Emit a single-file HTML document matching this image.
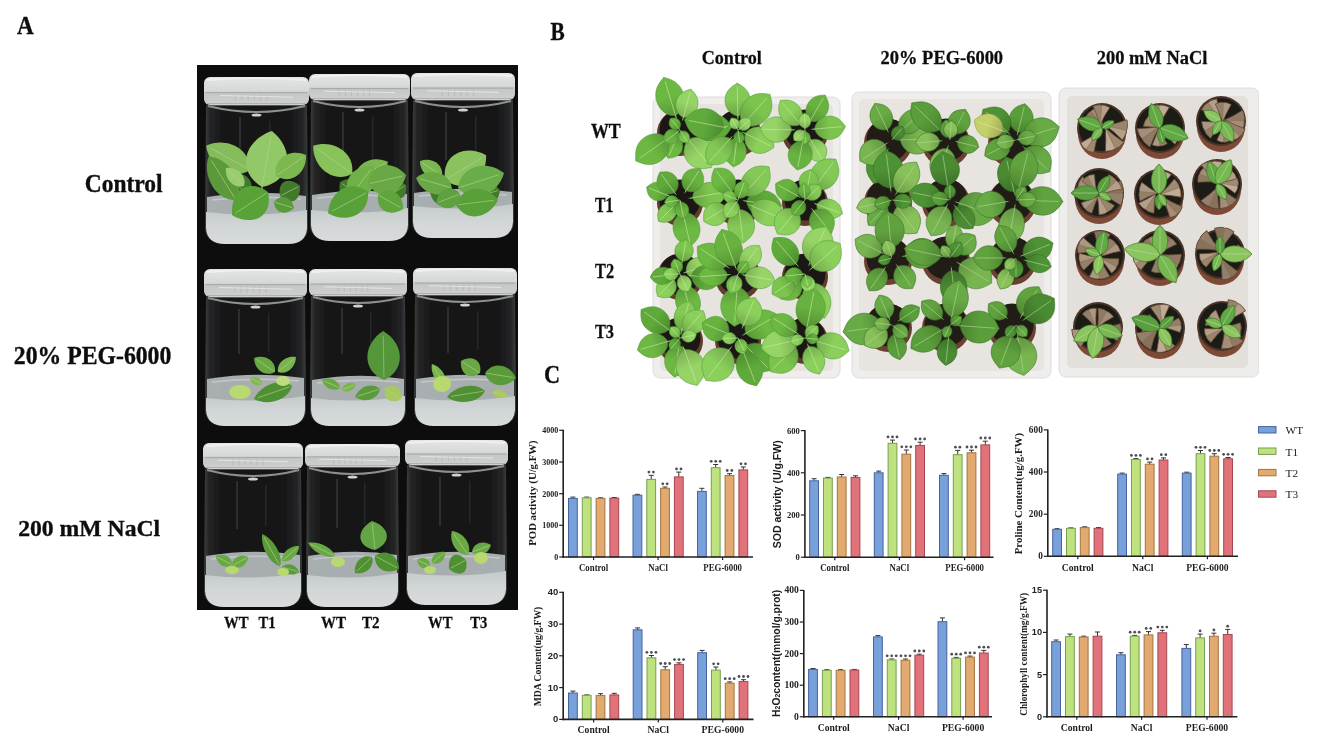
<!DOCTYPE html><html><head><meta charset="utf-8"><style>html,body{margin:0;padding:0;background:#fff;width:1318px;height:748px;overflow:hidden}svg{display:block}</style></head><body><svg width="1318" height="748" viewBox="0 0 1318 748"><defs><filter id="bl" x="0" y="0" width="1" height="1"><feGaussianBlur stdDeviation="0.7"/></filter><filter id="tb" x="0" y="0" width="1" height="1"><feGaussianBlur stdDeviation="0.3"/></filter><linearGradient id="glassG" x1="0" y1="0" x2="1" y2="0"><stop offset="0" stop-color="#3e4040"/><stop offset="0.05" stop-color="#242526"/><stop offset="0.18" stop-color="#161617"/><stop offset="0.82" stop-color="#161617"/><stop offset="0.95" stop-color="#242526"/><stop offset="1" stop-color="#3e4040"/></linearGradient><linearGradient id="agarG" x1="0" y1="0" x2="0" y2="1"><stop offset="0" stop-color="#c4cacb"/><stop offset="0.5" stop-color="#d2d6d6"/><stop offset="1" stop-color="#d8dbdb"/></linearGradient><linearGradient id="lidG" x1="0" y1="0" x2="0" y2="1"><stop offset="0" stop-color="#e4e5e5"/><stop offset="0.5" stop-color="#d6d8d8"/><stop offset="0.56" stop-color="#c4c6c6"/><stop offset="1" stop-color="#cfd1d1"/></linearGradient><path id="lf" d="M0,0 C0.2,-0.58 0.72,-0.52 1,0 C0.72,0.52 0.2,0.58 0,0Z" vector-effect="non-scaling-stroke" stroke-width="0.7"/><path id="lf2" d="M0,0 L0.1,0 C0.16,-0.36 0.38,-0.55 0.63,-0.48 C0.86,-0.4 0.93,-0.14 1,0 C0.93,0.14 0.86,0.4 0.63,0.48 C0.38,0.55 0.16,0.36 0.1,0Z" vector-effect="non-scaling-stroke" stroke-width="0.55"/><linearGradient id="shG" x1="0" y1="0" x2="1" y2="0"><stop offset="0" stop-color="#000" stop-opacity="0.22"/><stop offset="0.55" stop-color="#000" stop-opacity="0"/></linearGradient><path id="vn" d="M0.04,0 L0.9,0" vector-effect="non-scaling-stroke" stroke-width="0.8" fill="none" opacity="0.75"/></defs><rect width="1318" height="748" fill="#fff"/><g filter="url(#bl)"><rect x="197" y="65" width="321" height="545" fill="#0c0c0c"/><path d="M206,105 L307,105 L308,228 Q307,244 289,244 L224,244 Q206,244 205,228Z" fill="url(#glassG)"/><rect x="239" y="117" width="2" height="49" fill="#4a4c4d" opacity="0.45"/><rect x="269" y="121" width="1.5" height="42" fill="#4a4c4d" opacity="0.35"/><path d="M208,106 Q256.5,118 305,106" stroke="#8e908c" stroke-width="2" fill="none"/><path d="M210,105 L303,105" stroke="#6a6c6a" stroke-width="1.5" fill="none"/><ellipse cx="256.5" cy="115" rx="5" ry="1.6" fill="#d0d2d0"/><path d="M207,197 Q256.5,189 306,196 L306,220 L207,220Z" fill="#b4babc" opacity="0.93"/><path d="M212,200 Q256.5,195 301,199" stroke="#c8cecf" stroke-width="1.5" fill="none" opacity="0.8"/><path d="M206,212 Q256.5,218 307,210 L307,228 Q306,244 288,244 L225,244 Q207,244 206,228Z" fill="url(#agarG)"/><path transform="translate(250.0,196.0) rotate(-140)" d="M0,0 C6.2,-17.9 23.4,-16.1 31.2,0 C23.4,16.1 6.2,17.9 0,0Z" fill="#3f7a2a"/><path transform="translate(250.0,196.0) rotate(-140)" d="M1.6,0 L28.1,0" stroke="#b0d888" stroke-width="0.8" fill="none" opacity="0.7"/><path transform="translate(280.0,196.0) rotate(-27)" d="M0,0 C4.5,-15.2 16.8,-13.6 22.4,0 C16.8,13.6 4.5,15.2 0,0Z" fill="#3f7a2a"/><path transform="translate(280.0,196.0) rotate(-27)" d="M1.1,0 L20.1,0" stroke="#b0d888" stroke-width="0.8" fill="none" opacity="0.7"/><line x1="262" y1="200" x2="262" y2="175" stroke="#8cb868" stroke-width="1.5" opacity="0.9"/><line x1="240" y1="200" x2="236" y2="180" stroke="#8cb868" stroke-width="1.5" opacity="0.9"/><path transform="translate(250.0,170.0) rotate(-151)" d="M0,0 C10.0,-19.3 37.6,-17.4 50.1,0 C37.6,17.4 10.0,19.3 0,0Z" fill="#86bc5c"/><path transform="translate(250.0,170.0) rotate(-151)" d="M2.5,0 L45.1,0" stroke="#b0d888" stroke-width="0.8" fill="none" opacity="0.7"/><path transform="translate(236.0,200.0) rotate(-122)" d="M0,0 C10.3,-17.9 38.7,-16.1 51.6,0 C38.7,16.1 10.3,17.9 0,0Z" fill="#5a9a3a"/><path transform="translate(236.0,200.0) rotate(-122)" d="M2.6,0 L46.5,0" stroke="#b0d888" stroke-width="0.8" fill="none" opacity="0.7"/><path transform="translate(262.0,187.0) rotate(-80)" d="M0,0 C11.4,-28.9 42.7,-26.0 56.9,0 C42.7,26.0 11.4,28.9 0,0Z" fill="#92c868"/><path transform="translate(262.0,187.0) rotate(-80)" d="M2.8,0 L51.2,0" stroke="#b0d888" stroke-width="0.8" fill="none" opacity="0.7"/><path transform="translate(276.0,176.0) rotate(-35)" d="M0,0 C7.3,-16.5 27.5,-14.9 36.6,0 C27.5,14.9 7.3,16.5 0,0Z" fill="#7cb850"/><path transform="translate(276.0,176.0) rotate(-35)" d="M1.8,0 L33.0,0" stroke="#b0d888" stroke-width="0.8" fill="none" opacity="0.7"/><path transform="translate(268.0,192.0) rotate(147)" d="M0,0 C8.5,-23.4 32.0,-21.1 42.7,0 C32.0,21.1 8.5,23.4 0,0Z" fill="#58a238"/><path transform="translate(268.0,192.0) rotate(147)" d="M2.1,0 L38.4,0" stroke="#b0d888" stroke-width="0.8" fill="none" opacity="0.7"/><path transform="translate(274.0,202.0) rotate(17)" d="M0,0 C4.2,-11.0 15.7,-9.9 20.9,0 C15.7,9.9 4.2,11.0 0,0Z" fill="#5a9a3a"/><path transform="translate(274.0,202.0) rotate(17)" d="M1.0,0 L18.8,0" stroke="#b0d888" stroke-width="0.8" fill="none" opacity="0.7"/><path transform="translate(244.0,186.0) rotate(-135)" d="M0,0 C5.1,-9.6 19.1,-8.7 25.5,0 C19.1,8.7 5.1,9.6 0,0Z" fill="#9ccc70"/><path transform="translate(244.0,186.0) rotate(-135)" d="M1.3,0 L22.9,0" stroke="#b0d888" stroke-width="0.8" fill="none" opacity="0.7"/><rect x="204" y="77" width="105" height="28" rx="6" fill="url(#lidG)"/><path d="M207,80 Q256.5,76 306,80" stroke="#f0f0f0" stroke-width="2" fill="none"/><line x1="206" y1="92.7" x2="307" y2="92.7" stroke="#a4a7a7" stroke-width="1"/><line x1="206" y1="103.5" x2="307" y2="103.5" stroke="#b0b2b2" stroke-width="1"/><line x1="235.5" y1="94.4" x2="235.5" y2="100.8" stroke="#b4b6b6" stroke-width="0.8"/><line x1="241.8" y1="94.4" x2="241.8" y2="100.8" stroke="#b4b6b6" stroke-width="0.8"/><line x1="248.1" y1="94.4" x2="248.1" y2="100.8" stroke="#b4b6b6" stroke-width="0.8"/><line x1="254.4" y1="94.4" x2="254.4" y2="100.8" stroke="#b4b6b6" stroke-width="0.8"/><line x1="260.7" y1="94.4" x2="260.7" y2="100.8" stroke="#b4b6b6" stroke-width="0.8"/><line x1="267.0" y1="94.4" x2="267.0" y2="100.8" stroke="#b4b6b6" stroke-width="0.8"/><line x1="220" y1="95.5" x2="293" y2="97.2" stroke="#eaeaea" stroke-width="1" opacity="0.8"/><path d="M311,100 L408,100 L409,225 Q408,241 390,241 L329,241 Q311,241 310,225Z" fill="url(#glassG)"/><rect x="342" y="112" width="2" height="49" fill="#4a4c4d" opacity="0.45"/><rect x="372" y="116" width="1.5" height="42" fill="#4a4c4d" opacity="0.35"/><path d="M313,101 Q359.5,113 406,101" stroke="#8e908c" stroke-width="2" fill="none"/><path d="M315,100 L404,100" stroke="#6a6c6a" stroke-width="1.5" fill="none"/><ellipse cx="359.5" cy="110" rx="5" ry="1.6" fill="#d0d2d0"/><path d="M312,195 Q359.5,187 407,194 L407,218 L312,218Z" fill="#b4babc" opacity="0.93"/><path d="M317,198 Q359.5,193 402,197" stroke="#c8cecf" stroke-width="1.5" fill="none" opacity="0.8"/><path d="M311,210 Q359.5,216 408,208 L408,225 Q407,241 389,241 L330,241 Q312,241 311,225Z" fill="url(#agarG)"/><path transform="translate(362.0,198.0) rotate(-144)" d="M0,0 C5.4,-16.5 20.4,-14.9 27.2,0 C20.4,14.9 5.4,16.5 0,0Z" fill="#3f7a2a"/><path transform="translate(362.0,198.0) rotate(-144)" d="M1.4,0 L24.5,0" stroke="#b0d888" stroke-width="0.8" fill="none" opacity="0.7"/><path transform="translate(390.0,195.0) rotate(-32)" d="M0,0 C3.8,-12.4 14.2,-11.2 18.9,0 C14.2,11.2 3.8,12.4 0,0Z" fill="#3f7a2a"/><path transform="translate(390.0,195.0) rotate(-32)" d="M0.9,0 L17.0,0" stroke="#b0d888" stroke-width="0.8" fill="none" opacity="0.7"/><line x1="360" y1="200" x2="352" y2="172" stroke="#8cb868" stroke-width="1.5" opacity="0.9"/><path transform="translate(352.0,174.0) rotate(-144)" d="M0,0 C9.6,-19.3 36.0,-17.4 48.0,0 C36.0,17.4 9.6,19.3 0,0Z" fill="#88c25a"/><path transform="translate(352.0,174.0) rotate(-144)" d="M2.4,0 L43.2,0" stroke="#b0d888" stroke-width="0.8" fill="none" opacity="0.7"/><path transform="translate(355.0,180.0) rotate(-29)" d="M0,0 C7.5,-15.2 28.2,-13.6 37.6,0 C28.2,13.6 7.5,15.2 0,0Z" fill="#7cb652"/><path transform="translate(355.0,180.0) rotate(-29)" d="M1.9,0 L33.8,0" stroke="#b0d888" stroke-width="0.8" fill="none" opacity="0.7"/><path transform="translate(350.0,197.0) rotate(-53)" d="M0,0 C7.7,-17.9 29.0,-16.1 38.6,0 C29.0,16.1 7.7,17.9 0,0Z" fill="#70b048"/><path transform="translate(350.0,197.0) rotate(-53)" d="M1.9,0 L34.7,0" stroke="#b0d888" stroke-width="0.8" fill="none" opacity="0.7"/><path transform="translate(368.0,184.0) rotate(-13)" d="M0,0 C7.8,-20.7 29.3,-18.6 39.1,0 C29.3,18.6 7.8,20.7 0,0Z" fill="#6aa845"/><path transform="translate(368.0,184.0) rotate(-13)" d="M2.0,0 L35.1,0" stroke="#b0d888" stroke-width="0.8" fill="none" opacity="0.7"/><path transform="translate(368.0,192.0) rotate(152)" d="M0,0 C9.0,-20.7 33.9,-18.6 45.2,0 C33.9,18.6 9.0,20.7 0,0Z" fill="#58a038"/><path transform="translate(368.0,192.0) rotate(152)" d="M2.3,0 L40.7,0" stroke="#b0d888" stroke-width="0.8" fill="none" opacity="0.7"/><path transform="translate(378.0,195.0) rotate(29)" d="M0,0 C5.7,-15.2 21.5,-13.6 28.7,0 C21.5,13.6 5.7,15.2 0,0Z" fill="#5fa53c"/><path transform="translate(378.0,195.0) rotate(29)" d="M1.4,0 L25.8,0" stroke="#b0d888" stroke-width="0.8" fill="none" opacity="0.7"/><rect x="309" y="74" width="101" height="26" rx="6" fill="url(#lidG)"/><path d="M312,77 Q359.5,73 407,77" stroke="#f0f0f0" stroke-width="2" fill="none"/><line x1="311" y1="88.6" x2="408" y2="88.6" stroke="#a4a7a7" stroke-width="1"/><line x1="311" y1="98.5" x2="408" y2="98.5" stroke="#b0b2b2" stroke-width="1"/><line x1="339.3" y1="90.1" x2="339.3" y2="96.1" stroke="#b4b6b6" stroke-width="0.8"/><line x1="345.4" y1="90.1" x2="345.4" y2="96.1" stroke="#b4b6b6" stroke-width="0.8"/><line x1="351.4" y1="90.1" x2="351.4" y2="96.1" stroke="#b4b6b6" stroke-width="0.8"/><line x1="357.5" y1="90.1" x2="357.5" y2="96.1" stroke="#b4b6b6" stroke-width="0.8"/><line x1="363.5" y1="90.1" x2="363.5" y2="96.1" stroke="#b4b6b6" stroke-width="0.8"/><line x1="369.6" y1="90.1" x2="369.6" y2="96.1" stroke="#b4b6b6" stroke-width="0.8"/><line x1="324" y1="91.2" x2="395" y2="92.7" stroke="#eaeaea" stroke-width="1" opacity="0.8"/><path d="M413,100 L513,100 L514,222 Q513,238 495,238 L431,238 Q413,238 412,222Z" fill="url(#glassG)"/><rect x="445" y="112" width="2" height="48" fill="#4a4c4d" opacity="0.45"/><rect x="475" y="116" width="1.5" height="41" fill="#4a4c4d" opacity="0.35"/><path d="M415,101 Q463.0,113 511,101" stroke="#8e908c" stroke-width="2" fill="none"/><path d="M417,100 L509,100" stroke="#6a6c6a" stroke-width="1.5" fill="none"/><ellipse cx="463.0" cy="110" rx="5" ry="1.6" fill="#d0d2d0"/><path d="M414,193 Q463.0,185 512,192 L512,214 L414,214Z" fill="#b4babc" opacity="0.93"/><path d="M419,196 Q463.0,191 507,195" stroke="#c8cecf" stroke-width="1.5" fill="none" opacity="0.8"/><path d="M413,206 Q463.0,212 513,204 L513,222 Q512,238 494,238 L432,238 Q414,238 413,222Z" fill="url(#agarG)"/><path transform="translate(452.0,196.0) rotate(-170)" d="M0,0 C4.5,-15.2 16.8,-13.6 22.4,0 C16.8,13.6 4.5,15.2 0,0Z" fill="#3f7a2a"/><path transform="translate(452.0,196.0) rotate(-170)" d="M1.1,0 L20.1,0" stroke="#b0d888" stroke-width="0.8" fill="none" opacity="0.7"/><path transform="translate(480.0,196.0) rotate(-17)" d="M0,0 C4.2,-13.8 15.7,-12.4 20.9,0 C15.7,12.4 4.2,13.8 0,0Z" fill="#3f7a2a"/><path transform="translate(480.0,196.0) rotate(-17)" d="M1.0,0 L18.8,0" stroke="#b0d888" stroke-width="0.8" fill="none" opacity="0.7"/><path transform="translate(445.0,180.0) rotate(-31)" d="M0,0 C9.6,-23.4 36.0,-21.1 48.0,0 C36.0,21.1 9.6,23.4 0,0Z" fill="#8ac25e"/><path transform="translate(445.0,180.0) rotate(-31)" d="M2.4,0 L43.2,0" stroke="#b0d888" stroke-width="0.8" fill="none" opacity="0.7"/><path transform="translate(442.0,176.0) rotate(-146)" d="M0,0 C5.3,-11.0 20.0,-9.9 26.6,0 C20.0,9.9 5.3,11.0 0,0Z" fill="#7cb652"/><path transform="translate(442.0,176.0) rotate(-146)" d="M1.3,0 L24.0,0" stroke="#b0d888" stroke-width="0.8" fill="none" opacity="0.7"/><path transform="translate(452.0,188.0) rotate(-164)" d="M0,0 C7.5,-15.2 28.0,-13.6 37.4,0 C28.0,13.6 7.5,15.2 0,0Z" fill="#6aa845"/><path transform="translate(452.0,188.0) rotate(-164)" d="M1.9,0 L33.6,0" stroke="#b0d888" stroke-width="0.8" fill="none" opacity="0.7"/><path transform="translate(458.0,188.0) rotate(-18)" d="M0,0 C9.7,-20.7 36.3,-18.6 48.4,0 C36.3,18.6 9.7,20.7 0,0Z" fill="#6aac48"/><path transform="translate(458.0,188.0) rotate(-18)" d="M2.4,0 L43.5,0" stroke="#b0d888" stroke-width="0.8" fill="none" opacity="0.7"/><path transform="translate(456.0,205.0) rotate(-7)" d="M0,0 C8.5,-19.3 31.7,-17.4 42.3,0 C31.7,17.4 8.5,19.3 0,0Z" fill="#58a038"/><path transform="translate(456.0,205.0) rotate(-7)" d="M2.1,0 L38.1,0" stroke="#b0d888" stroke-width="0.8" fill="none" opacity="0.7"/><path transform="translate(460.0,194.0) rotate(159)" d="M0,0 C5.1,-13.8 19.2,-12.4 25.6,0 C19.2,12.4 5.1,13.8 0,0Z" fill="#5fa040"/><path transform="translate(460.0,194.0) rotate(159)" d="M1.3,0 L23.1,0" stroke="#b0d888" stroke-width="0.8" fill="none" opacity="0.7"/><rect x="411" y="73" width="104" height="27" rx="6" fill="url(#lidG)"/><path d="M414,76 Q463.0,72 512,76" stroke="#f0f0f0" stroke-width="2" fill="none"/><line x1="413" y1="88.1" x2="513" y2="88.1" stroke="#a4a7a7" stroke-width="1"/><line x1="413" y1="98.5" x2="513" y2="98.5" stroke="#b0b2b2" stroke-width="1"/><line x1="442.2" y1="89.7" x2="442.2" y2="96.0" stroke="#b4b6b6" stroke-width="0.8"/><line x1="448.4" y1="89.7" x2="448.4" y2="96.0" stroke="#b4b6b6" stroke-width="0.8"/><line x1="454.7" y1="89.7" x2="454.7" y2="96.0" stroke="#b4b6b6" stroke-width="0.8"/><line x1="460.9" y1="89.7" x2="460.9" y2="96.0" stroke="#b4b6b6" stroke-width="0.8"/><line x1="467.2" y1="89.7" x2="467.2" y2="96.0" stroke="#b4b6b6" stroke-width="0.8"/><line x1="473.4" y1="89.7" x2="473.4" y2="96.0" stroke="#b4b6b6" stroke-width="0.8"/><line x1="427" y1="90.8" x2="499" y2="92.4" stroke="#eaeaea" stroke-width="1" opacity="0.8"/><path d="M206,297 L305,297 L306,410 Q305,426 287,426 L224,426 Q206,426 205,410Z" fill="url(#glassG)"/><rect x="238" y="309" width="2" height="45" fill="#4a4c4d" opacity="0.45"/><rect x="268" y="313" width="1.5" height="39" fill="#4a4c4d" opacity="0.35"/><path d="M208,298 Q255.5,310 303,298" stroke="#8e908c" stroke-width="2" fill="none"/><path d="M210,297 L301,297" stroke="#6a6c6a" stroke-width="1.5" fill="none"/><ellipse cx="255.5" cy="307" rx="5" ry="1.6" fill="#d0d2d0"/><path d="M207,379 Q255.5,371 304,378 L304,406 L207,406Z" fill="#b4babc" opacity="0.93"/><path d="M212,382 Q255.5,377 299,381" stroke="#c8cecf" stroke-width="1.5" fill="none" opacity="0.8"/><path d="M206,398 Q255.5,404 305,396 L305,410 Q304,426 286,426 L225,426 Q207,426 206,410Z" fill="url(#agarG)"/><path transform="translate(275.0,372.0) rotate(-146)" d="M0,0 C5.0,-10.3 18.9,-9.3 25.2,0 C18.9,9.3 5.0,10.3 0,0Z" fill="#6aa845"/><path transform="translate(275.0,372.0) rotate(-146)" d="M1.3,0 L22.7,0" stroke="#b0d888" stroke-width="0.8" fill="none" opacity="0.7"/><path transform="translate(278.0,372.0) rotate(-40)" d="M0,0 C4.7,-8.3 17.6,-7.4 23.4,0 C17.6,7.4 4.7,8.3 0,0Z" fill="#78b450"/><path transform="translate(278.0,372.0) rotate(-40)" d="M1.2,0 L21.1,0" stroke="#b0d888" stroke-width="0.8" fill="none" opacity="0.7"/><path transform="translate(292.0,386.0) rotate(161)" d="M0,0 C8.0,-12.4 30.1,-11.2 40.2,0 C30.1,11.2 8.0,12.4 0,0Z" fill="#4f9032"/><path transform="translate(292.0,386.0) rotate(161)" d="M2.0,0 L36.1,0" stroke="#b0d888" stroke-width="0.8" fill="none" opacity="0.7"/><ellipse cx="240" cy="392" rx="11" ry="7" fill="#b8d870"/><ellipse cx="283" cy="381" rx="7" ry="5" fill="#c0dc80"/><path transform="translate(262.0,384.0) rotate(-153)" d="M0,0 C2.7,-5.5 10.1,-5.0 13.4,0 C10.1,5.0 2.7,5.5 0,0Z" fill="#80b858"/><path transform="translate(262.0,384.0) rotate(-153)" d="M0.7,0 L12.1,0" stroke="#b0d888" stroke-width="0.8" fill="none" opacity="0.7"/><rect x="204" y="269" width="103" height="28" rx="6" fill="url(#lidG)"/><path d="M207,272 Q255.5,268 304,272" stroke="#f0f0f0" stroke-width="2" fill="none"/><line x1="206" y1="284.7" x2="305" y2="284.7" stroke="#a4a7a7" stroke-width="1"/><line x1="206" y1="295.5" x2="305" y2="295.5" stroke="#b0b2b2" stroke-width="1"/><line x1="234.9" y1="286.4" x2="234.9" y2="292.8" stroke="#b4b6b6" stroke-width="0.8"/><line x1="241.1" y1="286.4" x2="241.1" y2="292.8" stroke="#b4b6b6" stroke-width="0.8"/><line x1="247.3" y1="286.4" x2="247.3" y2="292.8" stroke="#b4b6b6" stroke-width="0.8"/><line x1="253.4" y1="286.4" x2="253.4" y2="292.8" stroke="#b4b6b6" stroke-width="0.8"/><line x1="259.6" y1="286.4" x2="259.6" y2="292.8" stroke="#b4b6b6" stroke-width="0.8"/><line x1="265.8" y1="286.4" x2="265.8" y2="292.8" stroke="#b4b6b6" stroke-width="0.8"/><line x1="219" y1="287.5" x2="292" y2="289.2" stroke="#eaeaea" stroke-width="1" opacity="0.8"/><path d="M311,296 L405,296 L406,410 Q405,426 387,426 L329,426 Q311,426 310,410Z" fill="url(#glassG)"/><rect x="341" y="308" width="2" height="46" fill="#4a4c4d" opacity="0.45"/><rect x="370" y="312" width="1.5" height="39" fill="#4a4c4d" opacity="0.35"/><path d="M313,297 Q358.0,309 403,297" stroke="#8e908c" stroke-width="2" fill="none"/><path d="M315,296 L401,296" stroke="#6a6c6a" stroke-width="1.5" fill="none"/><ellipse cx="358.0" cy="306" rx="5" ry="1.6" fill="#d0d2d0"/><path d="M312,380 Q358.0,372 404,379 L404,406 L312,406Z" fill="#b4babc" opacity="0.93"/><path d="M317,383 Q358.0,378 399,382" stroke="#c8cecf" stroke-width="1.5" fill="none" opacity="0.8"/><path d="M311,398 Q358.0,404 405,396 L405,410 Q404,426 386,426 L330,426 Q312,426 311,410Z" fill="url(#agarG)"/><path transform="translate(384.0,380.0) rotate(-91)" d="M0,0 C9.8,-22.7 36.8,-20.5 49.0,0 C36.8,20.5 9.8,22.7 0,0Z" fill="#55963a"/><path transform="translate(384.0,380.0) rotate(-91)" d="M2.5,0 L44.1,0" stroke="#a8d088" stroke-width="0.8" fill="none" opacity="0.7"/><path transform="translate(380.0,389.0) rotate(162)" d="M0,0 C5.2,-9.6 19.7,-8.7 26.2,0 C19.7,8.7 5.2,9.6 0,0Z" fill="#5a9a3a"/><path transform="translate(380.0,389.0) rotate(162)" d="M1.3,0 L23.6,0" stroke="#b0d888" stroke-width="0.8" fill="none" opacity="0.7"/><path transform="translate(385.0,388.0) rotate(35)" d="M0,0 C3.9,-11.0 14.6,-9.9 19.4,0 C14.6,9.9 3.9,11.0 0,0Z" fill="#a8c860"/><path transform="translate(385.0,388.0) rotate(35)" d="M1.0,0 L17.5,0" stroke="#b0d888" stroke-width="0.8" fill="none" opacity="0.7"/><path transform="translate(340.0,388.0) rotate(-156)" d="M0,0 C3.9,-6.9 14.8,-6.2 19.7,0 C14.8,6.2 3.9,6.9 0,0Z" fill="#6aa845"/><path transform="translate(340.0,388.0) rotate(-156)" d="M1.0,0 L17.7,0" stroke="#b0d888" stroke-width="0.8" fill="none" opacity="0.7"/><path transform="translate(342.0,390.0) rotate(-23)" d="M0,0 C3.0,-5.5 11.4,-5.0 15.2,0 C11.4,5.0 3.0,5.5 0,0Z" fill="#7ab450"/><path transform="translate(342.0,390.0) rotate(-23)" d="M0.8,0 L13.7,0" stroke="#b0d888" stroke-width="0.8" fill="none" opacity="0.7"/><rect x="309" y="269" width="98" height="27" rx="6" fill="url(#lidG)"/><path d="M312,272 Q358.0,268 404,272" stroke="#f0f0f0" stroke-width="2" fill="none"/><line x1="311" y1="284.1" x2="405" y2="284.1" stroke="#a4a7a7" stroke-width="1"/><line x1="311" y1="294.5" x2="405" y2="294.5" stroke="#b0b2b2" stroke-width="1"/><line x1="338.4" y1="285.7" x2="338.4" y2="291.9" stroke="#b4b6b6" stroke-width="0.8"/><line x1="344.3" y1="285.7" x2="344.3" y2="291.9" stroke="#b4b6b6" stroke-width="0.8"/><line x1="350.2" y1="285.7" x2="350.2" y2="291.9" stroke="#b4b6b6" stroke-width="0.8"/><line x1="356.0" y1="285.7" x2="356.0" y2="291.9" stroke="#b4b6b6" stroke-width="0.8"/><line x1="361.9" y1="285.7" x2="361.9" y2="291.9" stroke="#b4b6b6" stroke-width="0.8"/><line x1="367.8" y1="285.7" x2="367.8" y2="291.9" stroke="#b4b6b6" stroke-width="0.8"/><line x1="324" y1="286.8" x2="392" y2="288.4" stroke="#eaeaea" stroke-width="1" opacity="0.8"/><path d="M415,295 L515,295 L516,410 Q515,426 497,426 L433,426 Q415,426 414,410Z" fill="url(#glassG)"/><rect x="447" y="307" width="2" height="46" fill="#4a4c4d" opacity="0.45"/><rect x="477" y="311" width="1.5" height="39" fill="#4a4c4d" opacity="0.35"/><path d="M417,296 Q465.0,308 513,296" stroke="#8e908c" stroke-width="2" fill="none"/><path d="M419,295 L511,295" stroke="#6a6c6a" stroke-width="1.5" fill="none"/><ellipse cx="465.0" cy="305" rx="5" ry="1.6" fill="#d0d2d0"/><path d="M416,379 Q465.0,371 514,378 L514,406 L416,406Z" fill="#b4babc" opacity="0.93"/><path d="M421,382 Q465.0,377 509,381" stroke="#c8cecf" stroke-width="1.5" fill="none" opacity="0.8"/><path d="M415,398 Q465.0,404 515,396 L515,410 Q514,426 496,426 L434,426 Q416,426 415,410Z" fill="url(#agarG)"/><path transform="translate(480.0,373.0) rotate(-148)" d="M0,0 C4.5,-12.4 16.9,-11.2 22.5,0 C16.9,11.2 4.5,12.4 0,0Z" fill="#6aa845"/><path transform="translate(480.0,373.0) rotate(-148)" d="M1.1,0 L20.2,0" stroke="#b0d888" stroke-width="0.8" fill="none" opacity="0.7"/><path transform="translate(485.0,373.0) rotate(9)" d="M0,0 C6.3,-13.8 23.6,-12.4 31.4,0 C23.6,12.4 6.3,13.8 0,0Z" fill="#5a9a3a"/><path transform="translate(485.0,373.0) rotate(9)" d="M1.6,0 L28.3,0" stroke="#b0d888" stroke-width="0.8" fill="none" opacity="0.7"/><path transform="translate(485.0,391.0) rotate(171)" d="M0,0 C7.7,-11.0 28.9,-9.9 38.5,0 C28.9,9.9 7.7,11.0 0,0Z" fill="#4f9032"/><path transform="translate(485.0,391.0) rotate(171)" d="M1.9,0 L34.6,0" stroke="#b0d888" stroke-width="0.8" fill="none" opacity="0.7"/><path transform="translate(445.0,385.0) rotate(-122)" d="M0,0 C4.9,-6.9 18.5,-6.2 24.7,0 C18.5,6.2 4.9,6.9 0,0Z" fill="#7ab450"/><path transform="translate(445.0,385.0) rotate(-122)" d="M1.2,0 L22.2,0" stroke="#b0d888" stroke-width="0.8" fill="none" opacity="0.7"/><ellipse cx="442" cy="384" rx="9" ry="8" fill="#b8d870"/><path transform="translate(492.0,392.0) rotate(14)" d="M0,0 C3.3,-5.5 12.4,-5.0 16.5,0 C12.4,5.0 3.3,5.5 0,0Z" fill="#a8c860"/><path transform="translate(492.0,392.0) rotate(14)" d="M0.8,0 L14.8,0" stroke="#b0d888" stroke-width="0.8" fill="none" opacity="0.7"/><rect x="413" y="268" width="104" height="27" rx="6" fill="url(#lidG)"/><path d="M416,271 Q465.0,267 514,271" stroke="#f0f0f0" stroke-width="2" fill="none"/><line x1="415" y1="283.1" x2="515" y2="283.1" stroke="#a4a7a7" stroke-width="1"/><line x1="415" y1="293.5" x2="515" y2="293.5" stroke="#b0b2b2" stroke-width="1"/><line x1="444.2" y1="284.7" x2="444.2" y2="290.9" stroke="#b4b6b6" stroke-width="0.8"/><line x1="450.4" y1="284.7" x2="450.4" y2="290.9" stroke="#b4b6b6" stroke-width="0.8"/><line x1="456.7" y1="284.7" x2="456.7" y2="290.9" stroke="#b4b6b6" stroke-width="0.8"/><line x1="462.9" y1="284.7" x2="462.9" y2="290.9" stroke="#b4b6b6" stroke-width="0.8"/><line x1="469.2" y1="284.7" x2="469.2" y2="290.9" stroke="#b4b6b6" stroke-width="0.8"/><line x1="475.4" y1="284.7" x2="475.4" y2="290.9" stroke="#b4b6b6" stroke-width="0.8"/><line x1="429" y1="285.8" x2="501" y2="287.4" stroke="#eaeaea" stroke-width="1" opacity="0.8"/><path d="M205,469 L301,469 L302,591 Q301,607 283,607 L223,607 Q205,607 204,591Z" fill="url(#glassG)"/><rect x="236" y="481" width="2" height="48" fill="#4a4c4d" opacity="0.45"/><rect x="265" y="485" width="1.5" height="41" fill="#4a4c4d" opacity="0.35"/><path d="M207,470 Q253.0,482 299,470" stroke="#8e908c" stroke-width="2" fill="none"/><path d="M209,469 L297,469" stroke="#6a6c6a" stroke-width="1.5" fill="none"/><ellipse cx="253.0" cy="479" rx="5" ry="1.6" fill="#d0d2d0"/><path d="M206,556 Q253.0,548 300,555 L300,583 L206,583Z" fill="#b4babc" opacity="0.93"/><path d="M211,559 Q253.0,554 295,558" stroke="#c8cecf" stroke-width="1.5" fill="none" opacity="0.8"/><path d="M205,575 Q253.0,581 301,573 L301,591 Q300,607 282,607 L224,607 Q206,607 205,591Z" fill="url(#agarG)"/><path transform="translate(232.0,565.0) rotate(-151)" d="M0,0 C3.7,-7.6 13.8,-6.8 18.4,0 C13.8,6.8 3.7,7.6 0,0Z" fill="#6aa845"/><path transform="translate(232.0,565.0) rotate(-151)" d="M0.9,0 L16.5,0" stroke="#b0d888" stroke-width="0.8" fill="none" opacity="0.7"/><path transform="translate(232.0,566.0) rotate(-29)" d="M0,0 C3.7,-7.6 13.8,-6.8 18.4,0 C13.8,6.8 3.7,7.6 0,0Z" fill="#6aa845"/><path transform="translate(232.0,566.0) rotate(-29)" d="M0.9,0 L16.5,0" stroke="#b0d888" stroke-width="0.8" fill="none" opacity="0.7"/><ellipse cx="232" cy="570" rx="7" ry="4" fill="#b8d870"/><path transform="translate(280.0,566.0) rotate(-119)" d="M0,0 C7.3,-8.3 27.5,-7.4 36.7,0 C27.5,7.4 7.3,8.3 0,0Z" fill="#5a9a3a"/><path transform="translate(280.0,566.0) rotate(-119)" d="M1.8,0 L33.0,0" stroke="#b0d888" stroke-width="0.8" fill="none" opacity="0.7"/><path transform="translate(282.0,561.0) rotate(-41)" d="M0,0 C4.5,-6.9 17.0,-6.2 22.7,0 C17.0,6.2 4.5,6.9 0,0Z" fill="#6aa845"/><path transform="translate(282.0,561.0) rotate(-41)" d="M1.1,0 L20.4,0" stroke="#b0d888" stroke-width="0.8" fill="none" opacity="0.7"/><path transform="translate(282.0,567.0) rotate(16)" d="M0,0 C3.5,-6.9 13.3,-6.2 17.7,0 C13.3,6.2 3.5,6.9 0,0Z" fill="#5a9a3a"/><path transform="translate(282.0,567.0) rotate(16)" d="M0.9,0 L15.9,0" stroke="#b0d888" stroke-width="0.8" fill="none" opacity="0.7"/><ellipse cx="283" cy="572" rx="6" ry="4" fill="#b8d870"/><rect x="203" y="443" width="100" height="26" rx="6" fill="url(#lidG)"/><path d="M206,446 Q253.0,442 300,446" stroke="#f0f0f0" stroke-width="2" fill="none"/><line x1="205" y1="457.6" x2="301" y2="457.6" stroke="#a4a7a7" stroke-width="1"/><line x1="205" y1="467.5" x2="301" y2="467.5" stroke="#b0b2b2" stroke-width="1"/><line x1="233.0" y1="459.1" x2="233.0" y2="465.1" stroke="#b4b6b6" stroke-width="0.8"/><line x1="239.0" y1="459.1" x2="239.0" y2="465.1" stroke="#b4b6b6" stroke-width="0.8"/><line x1="245.0" y1="459.1" x2="245.0" y2="465.1" stroke="#b4b6b6" stroke-width="0.8"/><line x1="251.0" y1="459.1" x2="251.0" y2="465.1" stroke="#b4b6b6" stroke-width="0.8"/><line x1="257.0" y1="459.1" x2="257.0" y2="465.1" stroke="#b4b6b6" stroke-width="0.8"/><line x1="263.0" y1="459.1" x2="263.0" y2="465.1" stroke="#b4b6b6" stroke-width="0.8"/><line x1="218" y1="460.2" x2="288" y2="461.7" stroke="#eaeaea" stroke-width="1" opacity="0.8"/><path d="M307,467 L398,467 L399,591 Q398,607 380,607 L325,607 Q307,607 306,591Z" fill="url(#glassG)"/><rect x="336" y="479" width="2" height="49" fill="#4a4c4d" opacity="0.45"/><rect x="364" y="483" width="1.5" height="42" fill="#4a4c4d" opacity="0.35"/><path d="M309,468 Q352.5,480 396,468" stroke="#8e908c" stroke-width="2" fill="none"/><path d="M311,467 L394,467" stroke="#6a6c6a" stroke-width="1.5" fill="none"/><ellipse cx="352.5" cy="477" rx="5" ry="1.6" fill="#d0d2d0"/><path d="M308,556 Q352.5,548 397,555 L397,583 L308,583Z" fill="#b4babc" opacity="0.93"/><path d="M313,559 Q352.5,554 392,558" stroke="#c8cecf" stroke-width="1.5" fill="none" opacity="0.8"/><path d="M307,575 Q352.5,581 398,573 L398,591 Q397,607 379,607 L326,607 Q308,607 307,591Z" fill="url(#agarG)"/><path transform="translate(375.0,550.0) rotate(-96)" d="M0,0 C5.8,-18.6 21.9,-16.7 29.2,0 C21.9,16.7 5.8,18.6 0,0Z" fill="#64a444"/><path transform="translate(375.0,550.0) rotate(-96)" d="M1.5,0 L26.2,0" stroke="#b0d890" stroke-width="0.8" fill="none" opacity="0.7"/><path transform="translate(375.0,556.0) rotate(28)" d="M0,0 C5.5,-12.4 20.5,-11.2 27.3,0 C20.5,11.2 5.5,12.4 0,0Z" fill="#4f9032"/><path transform="translate(375.0,556.0) rotate(28)" d="M1.4,0 L24.6,0" stroke="#b0d888" stroke-width="0.8" fill="none" opacity="0.7"/><path transform="translate(372.0,557.0) rotate(137)" d="M0,0 C4.7,-9.6 17.5,-8.7 23.3,0 C17.5,8.7 4.7,9.6 0,0Z" fill="#4f9032"/><path transform="translate(372.0,557.0) rotate(137)" d="M1.2,0 L21.0,0" stroke="#b0d888" stroke-width="0.8" fill="none" opacity="0.7"/><path transform="translate(335.0,556.0) rotate(-154)" d="M0,0 C6.0,-6.9 22.5,-6.2 30.0,0 C22.5,6.2 6.0,6.9 0,0Z" fill="#6aa845"/><path transform="translate(335.0,556.0) rotate(-154)" d="M1.5,0 L27.0,0" stroke="#b0d888" stroke-width="0.8" fill="none" opacity="0.7"/><ellipse cx="338" cy="562" rx="7" ry="5" fill="#b8d870"/><rect x="305" y="444" width="95" height="23" rx="6" fill="url(#lidG)"/><path d="M308,447 Q352.5,443 397,447" stroke="#f0f0f0" stroke-width="2" fill="none"/><line x1="307" y1="456.9" x2="398" y2="456.9" stroke="#a4a7a7" stroke-width="1"/><line x1="307" y1="465.5" x2="398" y2="465.5" stroke="#b0b2b2" stroke-width="1"/><line x1="333.5" y1="458.3" x2="333.5" y2="463.6" stroke="#b4b6b6" stroke-width="0.8"/><line x1="339.2" y1="458.3" x2="339.2" y2="463.6" stroke="#b4b6b6" stroke-width="0.8"/><line x1="344.9" y1="458.3" x2="344.9" y2="463.6" stroke="#b4b6b6" stroke-width="0.8"/><line x1="350.6" y1="458.3" x2="350.6" y2="463.6" stroke="#b4b6b6" stroke-width="0.8"/><line x1="356.3" y1="458.3" x2="356.3" y2="463.6" stroke="#b4b6b6" stroke-width="0.8"/><line x1="362.0" y1="458.3" x2="362.0" y2="463.6" stroke="#b4b6b6" stroke-width="0.8"/><line x1="319" y1="459.2" x2="386" y2="460.6" stroke="#eaeaea" stroke-width="1" opacity="0.8"/><path d="M407,465 L506,465 L507,589 Q506,605 488,605 L425,605 Q407,605 406,589Z" fill="url(#glassG)"/><rect x="439" y="477" width="2" height="49" fill="#4a4c4d" opacity="0.45"/><rect x="469" y="481" width="1.5" height="42" fill="#4a4c4d" opacity="0.35"/><path d="M409,466 Q456.5,478 504,466" stroke="#8e908c" stroke-width="2" fill="none"/><path d="M411,465 L502,465" stroke="#6a6c6a" stroke-width="1.5" fill="none"/><ellipse cx="456.5" cy="475" rx="5" ry="1.6" fill="#d0d2d0"/><path d="M408,556 Q456.5,548 505,555 L505,581 L408,581Z" fill="#b4babc" opacity="0.93"/><path d="M413,559 Q456.5,554 500,558" stroke="#c8cecf" stroke-width="1.5" fill="none" opacity="0.8"/><path d="M407,573 Q456.5,579 506,571 L506,589 Q505,605 487,605 L426,605 Q408,605 407,589Z" fill="url(#agarG)"/><path transform="translate(468.0,555.0) rotate(-124)" d="M0,0 C5.8,-9.6 21.6,-8.7 28.8,0 C21.6,8.7 5.8,9.6 0,0Z" fill="#6aa845"/><path transform="translate(468.0,555.0) rotate(-124)" d="M1.4,0 L26.0,0" stroke="#b0d888" stroke-width="0.8" fill="none" opacity="0.7"/><path transform="translate(472.0,552.0) rotate(-20)" d="M0,0 C4.0,-8.3 15.2,-7.4 20.2,0 C15.2,7.4 4.0,8.3 0,0Z" fill="#6aa845"/><path transform="translate(472.0,552.0) rotate(-20)" d="M1.0,0 L18.2,0" stroke="#b0d888" stroke-width="0.8" fill="none" opacity="0.7"/><path transform="translate(466.0,560.0) rotate(152)" d="M0,0 C3.8,-13.8 14.4,-12.4 19.2,0 C14.4,12.4 3.8,13.8 0,0Z" fill="#4f9032"/><path transform="translate(466.0,560.0) rotate(152)" d="M1.0,0 L17.3,0" stroke="#b0d888" stroke-width="0.8" fill="none" opacity="0.7"/><ellipse cx="481" cy="558" rx="7" ry="6" fill="#b8d870"/><path transform="translate(430.0,566.0) rotate(-155)" d="M0,0 C2.9,-6.9 10.7,-6.2 14.3,0 C10.7,6.2 2.9,6.9 0,0Z" fill="#6aa845"/><path transform="translate(430.0,566.0) rotate(-155)" d="M0.7,0 L12.9,0" stroke="#b0d888" stroke-width="0.8" fill="none" opacity="0.7"/><path transform="translate(432.0,563.0) rotate(-40)" d="M0,0 C3.4,-6.9 12.8,-6.2 17.0,0 C12.8,6.2 3.4,6.9 0,0Z" fill="#6aa845"/><path transform="translate(432.0,563.0) rotate(-40)" d="M0.9,0 L15.3,0" stroke="#b0d888" stroke-width="0.8" fill="none" opacity="0.7"/><ellipse cx="430" cy="570" rx="6" ry="4" fill="#b8d870"/><rect x="405" y="440" width="103" height="25" rx="6" fill="url(#lidG)"/><path d="M408,443 Q456.5,439 505,443" stroke="#f0f0f0" stroke-width="2" fill="none"/><line x1="407" y1="454.0" x2="506" y2="454.0" stroke="#a4a7a7" stroke-width="1"/><line x1="407" y1="463.5" x2="506" y2="463.5" stroke="#b0b2b2" stroke-width="1"/><line x1="435.9" y1="455.5" x2="435.9" y2="461.2" stroke="#b4b6b6" stroke-width="0.8"/><line x1="442.1" y1="455.5" x2="442.1" y2="461.2" stroke="#b4b6b6" stroke-width="0.8"/><line x1="448.3" y1="455.5" x2="448.3" y2="461.2" stroke="#b4b6b6" stroke-width="0.8"/><line x1="454.4" y1="455.5" x2="454.4" y2="461.2" stroke="#b4b6b6" stroke-width="0.8"/><line x1="460.6" y1="455.5" x2="460.6" y2="461.2" stroke="#b4b6b6" stroke-width="0.8"/><line x1="466.8" y1="455.5" x2="466.8" y2="461.2" stroke="#b4b6b6" stroke-width="0.8"/><line x1="420" y1="456.5" x2="493" y2="458.0" stroke="#eaeaea" stroke-width="1" opacity="0.8"/></g><g filter="url(#bl)"><rect x="653" y="97" width="187" height="281" rx="7" fill="#efeeec" stroke="#dedcd9" stroke-width="1"/><rect x="660" y="104" width="173" height="267" rx="5" fill="#e7e4df"/><rect x="852" y="92" width="199" height="286" rx="7" fill="#efeeec" stroke="#dedcd9" stroke-width="1"/><rect x="859" y="99" width="185" height="272" rx="5" fill="#e8e5e0"/><rect x="1059" y="88" width="200" height="289" rx="7" fill="#eeedeb" stroke="#dedcd9" stroke-width="1"/><rect x="1067" y="96" width="181" height="272" rx="5" fill="#e3e0dc"/><circle cx="680" cy="133" r="23" fill="#5e3c2c"/><circle cx="680" cy="130" r="20.5" fill="#1c1816"/><circle cx="738" cy="133" r="23" fill="#5e3c2c"/><circle cx="738" cy="130" r="20.5" fill="#1c1816"/><circle cx="805" cy="133" r="23" fill="#5e3c2c"/><circle cx="805" cy="130" r="20.5" fill="#1c1816"/><circle cx="680" cy="203" r="23" fill="#5e3c2c"/><circle cx="680" cy="200" r="20.5" fill="#1c1816"/><circle cx="738" cy="203" r="23" fill="#5e3c2c"/><circle cx="738" cy="200" r="20.5" fill="#1c1816"/><circle cx="805" cy="203" r="23" fill="#5e3c2c"/><circle cx="805" cy="200" r="20.5" fill="#1c1816"/><circle cx="680" cy="277" r="23" fill="#5e3c2c"/><circle cx="680" cy="274" r="20.5" fill="#1c1816"/><circle cx="738" cy="277" r="23" fill="#5e3c2c"/><circle cx="738" cy="274" r="20.5" fill="#1c1816"/><circle cx="805" cy="277" r="23" fill="#5e3c2c"/><circle cx="805" cy="274" r="20.5" fill="#1c1816"/><circle cx="680" cy="341" r="23" fill="#5e3c2c"/><circle cx="680" cy="338" r="20.5" fill="#1c1816"/><circle cx="738" cy="341" r="23" fill="#5e3c2c"/><circle cx="738" cy="338" r="20.5" fill="#1c1816"/><circle cx="805" cy="341" r="23" fill="#5e3c2c"/><circle cx="805" cy="338" r="20.5" fill="#1c1816"/><use href="#lf2" transform="translate(685.5,136.5) rotate(50) scale(40.4,29.5)" fill="#96d466" stroke="#4f9a36"/><use href="#lf2" transform="translate(685.5,136.5) rotate(50) scale(40.4,29.5)" fill="url(#shG)" stroke="none"/><use href="#vn" transform="translate(685.5,136.5) rotate(50) scale(40.4,29.5)" stroke="#c8eea4"/><use href="#lf2" transform="translate(678.5,133.6) rotate(113) scale(26.8,19.6)" fill="#6cb842" stroke="#4f9a36"/><use href="#lf2" transform="translate(678.5,133.6) rotate(113) scale(26.8,19.6)" fill="url(#shG)" stroke="none"/><use href="#vn" transform="translate(678.5,133.6) rotate(113) scale(26.8,19.6)" stroke="#c8eea4"/><use href="#lf2" transform="translate(671.5,135.9) rotate(145) scale(43.7,28.9)" fill="#6cb842" stroke="#4f9a36"/><use href="#lf2" transform="translate(671.5,135.9) rotate(145) scale(43.7,28.9)" fill="url(#shG)" stroke="none"/><use href="#vn" transform="translate(671.5,135.9) rotate(145) scale(43.7,28.9)" stroke="#c8eea4"/><use href="#lf2" transform="translate(676.9,120.0) rotate(253) scale(44.8,28.0)" fill="#6cb842" stroke="#4f9a36"/><use href="#lf2" transform="translate(676.9,120.0) rotate(253) scale(44.8,28.0)" fill="url(#shG)" stroke="none"/><use href="#vn" transform="translate(676.9,120.0) rotate(253) scale(44.8,28.0)" stroke="#c8eea4"/><use href="#lf2" transform="translate(682.4,120.8) rotate(285) scale(32.9,22.1)" fill="#96d466" stroke="#4f9a36"/><use href="#lf2" transform="translate(682.4,120.8) rotate(285) scale(32.9,22.1)" fill="url(#shG)" stroke="none"/><use href="#vn" transform="translate(682.4,120.8) rotate(285) scale(32.9,22.1)" stroke="#c8eea4"/><use href="#lf2" transform="translate(689.3,129.3) rotate(356) scale(43.0,27.1)" fill="#5eaa3a" stroke="#4f9a36"/><use href="#lf2" transform="translate(689.3,129.3) rotate(356) scale(43.0,27.1)" fill="url(#shG)" stroke="none"/><use href="#vn" transform="translate(689.3,129.3) rotate(356) scale(43.0,27.1)" stroke="#c8eea4"/><use href="#lf2" transform="translate(680.0,130.0) rotate(230) scale(15.1,10.9)" fill="#68b240" stroke="#4f9a36"/><use href="#lf2" transform="translate(680.0,130.0) rotate(230) scale(15.1,10.9)" fill="url(#shG)" stroke="none"/><use href="#vn" transform="translate(680.0,130.0) rotate(230) scale(15.1,10.9)" stroke="#c8eea4"/><use href="#lf2" transform="translate(680.0,130.0) rotate(142) scale(19.8,14.2)" fill="#68b240" stroke="#4f9a36"/><use href="#lf2" transform="translate(680.0,130.0) rotate(142) scale(19.8,14.2)" fill="url(#shG)" stroke="none"/><use href="#vn" transform="translate(680.0,130.0) rotate(142) scale(19.8,14.2)" stroke="#c8eea4"/><use href="#lf2" transform="translate(680.0,130.0) rotate(59) scale(15.0,10.8)" fill="#7cc44e" stroke="#4f9a36"/><use href="#lf2" transform="translate(680.0,130.0) rotate(59) scale(15.0,10.8)" fill="url(#shG)" stroke="none"/><use href="#vn" transform="translate(680.0,130.0) rotate(59) scale(15.0,10.8)" stroke="#c8eea4"/><use href="#lf2" transform="translate(728.0,128.1) rotate(191) scale(44.4,30.3)" fill="#5eaa3a" stroke="#4f9a36"/><use href="#lf2" transform="translate(728.0,128.1) rotate(191) scale(44.4,30.3)" fill="url(#shG)" stroke="none"/><use href="#vn" transform="translate(728.0,128.1) rotate(191) scale(44.4,30.3)" stroke="#c8eea4"/><use href="#lf2" transform="translate(737.9,119.9) rotate(269) scale(36.9,25.4)" fill="#84c856" stroke="#4f9a36"/><use href="#lf2" transform="translate(737.9,119.9) rotate(269) scale(36.9,25.4)" fill="url(#shG)" stroke="none"/><use href="#vn" transform="translate(737.9,119.9) rotate(269) scale(36.9,25.4)" stroke="#c8eea4"/><use href="#lf2" transform="translate(740.3,127.4) rotate(312) scale(44.5,28.2)" fill="#7cc44e" stroke="#4f9a36"/><use href="#lf2" transform="translate(740.3,127.4) rotate(312) scale(44.5,28.2)" fill="url(#shG)" stroke="none"/><use href="#vn" transform="translate(740.3,127.4) rotate(312) scale(44.5,28.2)" stroke="#c8eea4"/><use href="#lf2" transform="translate(742.0,131.9) rotate(386) scale(35.6,26.4)" fill="#8cd05c" stroke="#4f9a36"/><use href="#lf2" transform="translate(742.0,131.9) rotate(386) scale(35.6,26.4)" fill="url(#shG)" stroke="none"/><use href="#vn" transform="translate(742.0,131.9) rotate(386) scale(35.6,26.4)" stroke="#c8eea4"/><use href="#lf2" transform="translate(737.4,134.5) rotate(457) scale(32.8,22.2)" fill="#6cb842" stroke="#4f9a36"/><use href="#lf2" transform="translate(737.4,134.5) rotate(457) scale(32.8,22.2)" fill="url(#shG)" stroke="none"/><use href="#vn" transform="translate(737.4,134.5) rotate(457) scale(32.8,22.2)" stroke="#c8eea4"/><use href="#lf2" transform="translate(732.8,135.8) rotate(492) scale(37.9,25.0)" fill="#84c856" stroke="#4f9a36"/><use href="#lf2" transform="translate(732.8,135.8) rotate(492) scale(37.9,25.0)" fill="url(#shG)" stroke="none"/><use href="#vn" transform="translate(732.8,135.8) rotate(492) scale(37.9,25.0)" stroke="#c8eea4"/><use href="#lf2" transform="translate(738.0,130.0) rotate(318) scale(16.8,12.1)" fill="#96d466" stroke="#4f9a36"/><use href="#lf2" transform="translate(738.0,130.0) rotate(318) scale(16.8,12.1)" fill="url(#shG)" stroke="none"/><use href="#vn" transform="translate(738.0,130.0) rotate(318) scale(16.8,12.1)" stroke="#c8eea4"/><use href="#lf2" transform="translate(738.0,130.0) rotate(82) scale(14.3,10.3)" fill="#5eaa3a" stroke="#4f9a36"/><use href="#lf2" transform="translate(738.0,130.0) rotate(82) scale(14.3,10.3)" fill="url(#shG)" stroke="none"/><use href="#vn" transform="translate(738.0,130.0) rotate(82) scale(14.3,10.3)" stroke="#c8eea4"/><use href="#lf2" transform="translate(738.0,130.0) rotate(241) scale(13.8,9.9)" fill="#96d466" stroke="#4f9a36"/><use href="#lf2" transform="translate(738.0,130.0) rotate(241) scale(13.8,9.9)" fill="url(#shG)" stroke="none"/><use href="#vn" transform="translate(738.0,130.0) rotate(241) scale(13.8,9.9)" stroke="#c8eea4"/><use href="#lf2" transform="translate(809.2,137.4) rotate(60) scale(28.0,19.9)" fill="#96d466" stroke="#4f9a36"/><use href="#lf2" transform="translate(809.2,137.4) rotate(60) scale(28.0,19.9)" fill="url(#shG)" stroke="none"/><use href="#vn" transform="translate(809.2,137.4) rotate(60) scale(28.0,19.9)" stroke="#c8eea4"/><use href="#lf2" transform="translate(803.6,137.4) rotate(101) scale(33.3,24.3)" fill="#68b240" stroke="#4f9a36"/><use href="#lf2" transform="translate(803.6,137.4) rotate(101) scale(33.3,24.3)" fill="url(#shG)" stroke="none"/><use href="#vn" transform="translate(803.6,137.4) rotate(101) scale(33.3,24.3)" stroke="#c8eea4"/><use href="#lf2" transform="translate(795.2,129.9) rotate(181) scale(35.2,25.8)" fill="#96d466" stroke="#4f9a36"/><use href="#lf2" transform="translate(795.2,129.9) rotate(181) scale(35.2,25.8)" fill="url(#shG)" stroke="none"/><use href="#vn" transform="translate(795.2,129.9) rotate(181) scale(35.2,25.8)" stroke="#c8eea4"/><use href="#lf2" transform="translate(802.7,127.2) rotate(230) scale(35.0,21.3)" fill="#8cd05c" stroke="#4f9a36"/><use href="#lf2" transform="translate(802.7,127.2) rotate(230) scale(35.0,21.3)" fill="url(#shG)" stroke="none"/><use href="#vn" transform="translate(802.7,127.2) rotate(230) scale(35.0,21.3)" stroke="#c8eea4"/><use href="#lf2" transform="translate(808.4,124.0) rotate(300) scale(33.6,21.5)" fill="#68b240" stroke="#4f9a36"/><use href="#lf2" transform="translate(808.4,124.0) rotate(300) scale(33.6,21.5)" fill="url(#shG)" stroke="none"/><use href="#vn" transform="translate(808.4,124.0) rotate(300) scale(33.6,21.5)" stroke="#c8eea4"/><use href="#lf2" transform="translate(811.1,129.4) rotate(355) scale(34.6,23.7)" fill="#7cc44e" stroke="#4f9a36"/><use href="#lf2" transform="translate(811.1,129.4) rotate(355) scale(34.6,23.7)" fill="url(#shG)" stroke="none"/><use href="#vn" transform="translate(811.1,129.4) rotate(355) scale(34.6,23.7)" stroke="#c8eea4"/><use href="#lf2" transform="translate(805.0,130.0) rotate(89) scale(14.4,10.4)" fill="#6cb842" stroke="#4f9a36"/><use href="#lf2" transform="translate(805.0,130.0) rotate(89) scale(14.4,10.4)" fill="url(#shG)" stroke="none"/><use href="#vn" transform="translate(805.0,130.0) rotate(89) scale(14.4,10.4)" stroke="#c8eea4"/><use href="#lf2" transform="translate(805.0,130.0) rotate(136) scale(15.2,11.0)" fill="#96d466" stroke="#4f9a36"/><use href="#lf2" transform="translate(805.0,130.0) rotate(136) scale(15.2,11.0)" fill="url(#shG)" stroke="none"/><use href="#vn" transform="translate(805.0,130.0) rotate(136) scale(15.2,11.0)" stroke="#c8eea4"/><use href="#lf2" transform="translate(805.0,130.0) rotate(269) scale(17.1,12.3)" fill="#96d466" stroke="#4f9a36"/><use href="#lf2" transform="translate(805.0,130.0) rotate(269) scale(17.1,12.3)" fill="url(#shG)" stroke="none"/><use href="#vn" transform="translate(805.0,130.0) rotate(269) scale(17.1,12.3)" stroke="#c8eea4"/><use href="#lf2" transform="translate(688.6,198.5) rotate(350) scale(39.3,25.1)" fill="#7cc44e" stroke="#4f9a36"/><use href="#lf2" transform="translate(688.6,198.5) rotate(350) scale(39.3,25.1)" fill="url(#shG)" stroke="none"/><use href="#vn" transform="translate(688.6,198.5) rotate(350) scale(39.3,25.1)" stroke="#c8eea4"/><use href="#lf2" transform="translate(681.8,207.9) rotate(437) scale(39.7,27.1)" fill="#6cb842" stroke="#4f9a36"/><use href="#lf2" transform="translate(681.8,207.9) rotate(437) scale(39.7,27.1)" fill="url(#shG)" stroke="none"/><use href="#vn" transform="translate(681.8,207.9) rotate(437) scale(39.7,27.1)" stroke="#c8eea4"/><use href="#lf2" transform="translate(677.5,202.5) rotate(495) scale(26.9,17.2)" fill="#84c856" stroke="#4f9a36"/><use href="#lf2" transform="translate(677.5,202.5) rotate(495) scale(26.9,17.2)" fill="url(#shG)" stroke="none"/><use href="#vn" transform="translate(677.5,202.5) rotate(495) scale(26.9,17.2)" stroke="#c8eea4"/><use href="#lf2" transform="translate(670.2,196.3) rotate(561) scale(25.4,18.4)" fill="#68b240" stroke="#4f9a36"/><use href="#lf2" transform="translate(670.2,196.3) rotate(561) scale(25.4,18.4)" fill="url(#shG)" stroke="none"/><use href="#vn" transform="translate(670.2,196.3) rotate(561) scale(25.4,18.4)" stroke="#c8eea4"/><use href="#lf2" transform="translate(676.4,195.0) rotate(594) scale(28.3,20.7)" fill="#5eaa3a" stroke="#4f9a36"/><use href="#lf2" transform="translate(676.4,195.0) rotate(594) scale(28.3,20.7)" fill="url(#shG)" stroke="none"/><use href="#vn" transform="translate(676.4,195.0) rotate(594) scale(28.3,20.7)" stroke="#c8eea4"/><use href="#lf2" transform="translate(684.4,193.2) rotate(663) scale(29.2,21.5)" fill="#68b240" stroke="#4f9a36"/><use href="#lf2" transform="translate(684.4,193.2) rotate(663) scale(29.2,21.5)" fill="url(#shG)" stroke="none"/><use href="#vn" transform="translate(684.4,193.2) rotate(663) scale(29.2,21.5)" stroke="#c8eea4"/><use href="#lf2" transform="translate(680.0,200.0) rotate(90) scale(16.6,12.0)" fill="#68b240" stroke="#4f9a36"/><use href="#lf2" transform="translate(680.0,200.0) rotate(90) scale(16.6,12.0)" fill="url(#shG)" stroke="none"/><use href="#vn" transform="translate(680.0,200.0) rotate(90) scale(16.6,12.0)" stroke="#c8eea4"/><use href="#lf2" transform="translate(680.0,200.0) rotate(79) scale(19.2,13.8)" fill="#68b240" stroke="#4f9a36"/><use href="#lf2" transform="translate(680.0,200.0) rotate(79) scale(19.2,13.8)" fill="url(#shG)" stroke="none"/><use href="#vn" transform="translate(680.0,200.0) rotate(79) scale(19.2,13.8)" stroke="#c8eea4"/><use href="#lf2" transform="translate(680.0,200.0) rotate(171) scale(15.7,11.3)" fill="#6cb842" stroke="#4f9a36"/><use href="#lf2" transform="translate(680.0,200.0) rotate(171) scale(15.7,11.3)" fill="url(#shG)" stroke="none"/><use href="#vn" transform="translate(680.0,200.0) rotate(171) scale(15.7,11.3)" stroke="#c8eea4"/><use href="#lf2" transform="translate(742.7,200.6) rotate(368) scale(39.6,26.1)" fill="#5eaa3a" stroke="#4f9a36"/><use href="#lf2" transform="translate(742.7,200.6) rotate(368) scale(39.6,26.1)" fill="url(#shG)" stroke="none"/><use href="#vn" transform="translate(742.7,200.6) rotate(368) scale(39.6,26.1)" stroke="#c8eea4"/><use href="#lf2" transform="translate(747.3,204.0) rotate(383) scale(41.3,25.6)" fill="#8cd05c" stroke="#4f9a36"/><use href="#lf2" transform="translate(747.3,204.0) rotate(383) scale(41.3,25.6)" fill="url(#shG)" stroke="none"/><use href="#vn" transform="translate(747.3,204.0) rotate(383) scale(41.3,25.6)" stroke="#c8eea4"/><use href="#lf2" transform="translate(738.7,205.5) rotate(443) scale(38.0,27.2)" fill="#84c856" stroke="#4f9a36"/><use href="#lf2" transform="translate(738.7,205.5) rotate(443) scale(38.0,27.2)" fill="url(#shG)" stroke="none"/><use href="#vn" transform="translate(738.7,205.5) rotate(443) scale(38.0,27.2)" stroke="#c8eea4"/><use href="#lf2" transform="translate(729.0,205.7) rotate(508) scale(29.8,23.0)" fill="#8cd05c" stroke="#4f9a36"/><use href="#lf2" transform="translate(729.0,205.7) rotate(508) scale(29.8,23.0)" fill="url(#shG)" stroke="none"/><use href="#vn" transform="translate(729.0,205.7) rotate(508) scale(29.8,23.0)" stroke="#c8eea4"/><use href="#lf2" transform="translate(734.1,194.7) rotate(593) scale(32.9,22.9)" fill="#6cb842" stroke="#4f9a36"/><use href="#lf2" transform="translate(734.1,194.7) rotate(593) scale(32.9,22.9)" fill="url(#shG)" stroke="none"/><use href="#vn" transform="translate(734.1,194.7) rotate(593) scale(32.9,22.9)" stroke="#c8eea4"/><use href="#lf2" transform="translate(740.2,197.6) rotate(673) scale(42.2,25.6)" fill="#84c856" stroke="#4f9a36"/><use href="#lf2" transform="translate(740.2,197.6) rotate(673) scale(42.2,25.6)" fill="url(#shG)" stroke="none"/><use href="#vn" transform="translate(740.2,197.6) rotate(673) scale(42.2,25.6)" stroke="#c8eea4"/><use href="#lf2" transform="translate(738.0,200.0) rotate(289) scale(20.2,14.6)" fill="#6cb842" stroke="#4f9a36"/><use href="#lf2" transform="translate(738.0,200.0) rotate(289) scale(20.2,14.6)" fill="url(#shG)" stroke="none"/><use href="#vn" transform="translate(738.0,200.0) rotate(289) scale(20.2,14.6)" stroke="#c8eea4"/><use href="#lf2" transform="translate(738.0,200.0) rotate(202) scale(16.4,11.8)" fill="#7cc44e" stroke="#4f9a36"/><use href="#lf2" transform="translate(738.0,200.0) rotate(202) scale(16.4,11.8)" fill="url(#shG)" stroke="none"/><use href="#vn" transform="translate(738.0,200.0) rotate(202) scale(16.4,11.8)" stroke="#c8eea4"/><use href="#lf2" transform="translate(738.0,200.0) rotate(126) scale(21.5,15.5)" fill="#8cd05c" stroke="#4f9a36"/><use href="#lf2" transform="translate(738.0,200.0) rotate(126) scale(21.5,15.5)" fill="url(#shG)" stroke="none"/><use href="#vn" transform="translate(738.0,200.0) rotate(126) scale(21.5,15.5)" stroke="#c8eea4"/><use href="#lf2" transform="translate(811.3,191.7) rotate(307) scale(40.8,26.8)" fill="#84c856" stroke="#4f9a36"/><use href="#lf2" transform="translate(811.3,191.7) rotate(307) scale(40.8,26.8)" fill="url(#shG)" stroke="none"/><use href="#vn" transform="translate(811.3,191.7) rotate(307) scale(40.8,26.8)" stroke="#c8eea4"/><use href="#lf2" transform="translate(814.0,203.3) rotate(380) scale(30.5,19.2)" fill="#8cd05c" stroke="#4f9a36"/><use href="#lf2" transform="translate(814.0,203.3) rotate(380) scale(30.5,19.2)" fill="url(#shG)" stroke="none"/><use href="#vn" transform="translate(814.0,203.3) rotate(380) scale(30.5,19.2)" stroke="#c8eea4"/><use href="#lf2" transform="translate(811.3,208.1) rotate(412) scale(32.6,24.6)" fill="#68b240" stroke="#4f9a36"/><use href="#lf2" transform="translate(811.3,208.1) rotate(412) scale(32.6,24.6)" fill="url(#shG)" stroke="none"/><use href="#vn" transform="translate(811.3,208.1) rotate(412) scale(32.6,24.6)" stroke="#c8eea4"/><use href="#lf2" transform="translate(798.8,207.6) rotate(489) scale(34.0,26.0)" fill="#8cd05c" stroke="#4f9a36"/><use href="#lf2" transform="translate(798.8,207.6) rotate(489) scale(34.0,26.0)" fill="url(#shG)" stroke="none"/><use href="#vn" transform="translate(798.8,207.6) rotate(489) scale(34.0,26.0)" stroke="#c8eea4"/><use href="#lf2" transform="translate(800.3,197.4) rotate(569) scale(28.3,21.6)" fill="#68b240" stroke="#4f9a36"/><use href="#lf2" transform="translate(800.3,197.4) rotate(569) scale(28.3,21.6)" fill="url(#shG)" stroke="none"/><use href="#vn" transform="translate(800.3,197.4) rotate(569) scale(28.3,21.6)" stroke="#c8eea4"/><use href="#lf2" transform="translate(806.1,194.6) rotate(641) scale(25.8,19.3)" fill="#7cc44e" stroke="#4f9a36"/><use href="#lf2" transform="translate(806.1,194.6) rotate(641) scale(25.8,19.3)" fill="url(#shG)" stroke="none"/><use href="#vn" transform="translate(806.1,194.6) rotate(641) scale(25.8,19.3)" stroke="#c8eea4"/><use href="#lf2" transform="translate(805.0,200.0) rotate(129) scale(19.4,14.0)" fill="#5eaa3a" stroke="#4f9a36"/><use href="#lf2" transform="translate(805.0,200.0) rotate(129) scale(19.4,14.0)" fill="url(#shG)" stroke="none"/><use href="#vn" transform="translate(805.0,200.0) rotate(129) scale(19.4,14.0)" stroke="#c8eea4"/><use href="#lf2" transform="translate(805.0,200.0) rotate(317) scale(21.4,15.4)" fill="#84c856" stroke="#4f9a36"/><use href="#lf2" transform="translate(805.0,200.0) rotate(317) scale(21.4,15.4)" fill="url(#shG)" stroke="none"/><use href="#vn" transform="translate(805.0,200.0) rotate(317) scale(21.4,15.4)" stroke="#c8eea4"/><use href="#lf2" transform="translate(805.0,200.0) rotate(265) scale(16.8,12.1)" fill="#68b240" stroke="#4f9a36"/><use href="#lf2" transform="translate(805.0,200.0) rotate(265) scale(16.8,12.1)" fill="url(#shG)" stroke="none"/><use href="#vn" transform="translate(805.0,200.0) rotate(265) scale(16.8,12.1)" stroke="#c8eea4"/><use href="#lf2" transform="translate(681.8,263.8) rotate(280) scale(24.8,18.6)" fill="#7cc44e" stroke="#4f9a36"/><use href="#lf2" transform="translate(681.8,263.8) rotate(280) scale(24.8,18.6)" fill="url(#shG)" stroke="none"/><use href="#vn" transform="translate(681.8,263.8) rotate(280) scale(24.8,18.6)" stroke="#c8eea4"/><use href="#lf2" transform="translate(683.3,273.0) rotate(343) scale(29.8,22.2)" fill="#96d466" stroke="#4f9a36"/><use href="#lf2" transform="translate(683.3,273.0) rotate(343) scale(29.8,22.2)" fill="url(#shG)" stroke="none"/><use href="#vn" transform="translate(683.3,273.0) rotate(343) scale(29.8,22.2)" stroke="#c8eea4"/><use href="#lf2" transform="translate(688.0,275.1) rotate(368) scale(33.8,24.5)" fill="#5eaa3a" stroke="#4f9a36"/><use href="#lf2" transform="translate(688.0,275.1) rotate(368) scale(33.8,24.5)" fill="url(#shG)" stroke="none"/><use href="#vn" transform="translate(688.0,275.1) rotate(368) scale(33.8,24.5)" stroke="#c8eea4"/><use href="#lf2" transform="translate(682.2,281.7) rotate(434) scale(39.2,24.8)" fill="#6cb842" stroke="#4f9a36"/><use href="#lf2" transform="translate(682.2,281.7) rotate(434) scale(39.2,24.8)" fill="url(#shG)" stroke="none"/><use href="#vn" transform="translate(682.2,281.7) rotate(434) scale(39.2,24.8)" stroke="#c8eea4"/><use href="#lf2" transform="translate(676.0,278.0) rotate(495) scale(26.0,19.4)" fill="#8cd05c" stroke="#4f9a36"/><use href="#lf2" transform="translate(676.0,278.0) rotate(495) scale(26.0,19.4)" fill="url(#shG)" stroke="none"/><use href="#vn" transform="translate(676.0,278.0) rotate(495) scale(26.0,19.4)" stroke="#c8eea4"/><use href="#lf2" transform="translate(676.3,274.4) rotate(534) scale(26.3,17.3)" fill="#5eaa3a" stroke="#4f9a36"/><use href="#lf2" transform="translate(676.3,274.4) rotate(534) scale(26.3,17.3)" fill="url(#shG)" stroke="none"/><use href="#vn" transform="translate(676.3,274.4) rotate(534) scale(26.3,17.3)" stroke="#c8eea4"/><use href="#lf2" transform="translate(680.0,274.0) rotate(65) scale(19.6,14.1)" fill="#96d466" stroke="#4f9a36"/><use href="#lf2" transform="translate(680.0,274.0) rotate(65) scale(19.6,14.1)" fill="url(#shG)" stroke="none"/><use href="#vn" transform="translate(680.0,274.0) rotate(65) scale(19.6,14.1)" stroke="#c8eea4"/><use href="#lf2" transform="translate(680.0,274.0) rotate(248) scale(16.2,11.6)" fill="#6cb842" stroke="#4f9a36"/><use href="#lf2" transform="translate(680.0,274.0) rotate(248) scale(16.2,11.6)" fill="url(#shG)" stroke="none"/><use href="#vn" transform="translate(680.0,274.0) rotate(248) scale(16.2,11.6)" stroke="#c8eea4"/><use href="#lf2" transform="translate(680.0,274.0) rotate(179) scale(17.0,12.3)" fill="#8cd05c" stroke="#4f9a36"/><use href="#lf2" transform="translate(680.0,274.0) rotate(179) scale(17.0,12.3)" fill="url(#shG)" stroke="none"/><use href="#vn" transform="translate(680.0,274.0) rotate(179) scale(17.0,12.3)" stroke="#c8eea4"/><use href="#lf2" transform="translate(737.5,282.1) rotate(94) scale(44.5,30.6)" fill="#6cb842" stroke="#4f9a36"/><use href="#lf2" transform="translate(737.5,282.1) rotate(94) scale(44.5,30.6)" fill="url(#shG)" stroke="none"/><use href="#vn" transform="translate(737.5,282.1) rotate(94) scale(44.5,30.6)" stroke="#c8eea4"/><use href="#lf2" transform="translate(730.8,274.5) rotate(176) scale(33.2,20.7)" fill="#6cb842" stroke="#4f9a36"/><use href="#lf2" transform="translate(730.8,274.5) rotate(176) scale(33.2,20.7)" fill="url(#shG)" stroke="none"/><use href="#vn" transform="translate(730.8,274.5) rotate(176) scale(33.2,20.7)" stroke="#c8eea4"/><use href="#lf2" transform="translate(729.7,268.3) rotate(214) scale(39.1,25.4)" fill="#6cb842" stroke="#4f9a36"/><use href="#lf2" transform="translate(729.7,268.3) rotate(214) scale(39.1,25.4)" fill="url(#shG)" stroke="none"/><use href="#vn" transform="translate(729.7,268.3) rotate(214) scale(39.1,25.4)" stroke="#c8eea4"/><use href="#lf2" transform="translate(736.5,269.8) rotate(250) scale(43.2,27.1)" fill="#68b240" stroke="#4f9a36"/><use href="#lf2" transform="translate(736.5,269.8) rotate(250) scale(43.2,27.1)" fill="url(#shG)" stroke="none"/><use href="#vn" transform="translate(736.5,269.8) rotate(250) scale(43.2,27.1)" stroke="#c8eea4"/><use href="#lf2" transform="translate(740.1,271.2) rotate(307) scale(32.2,20.2)" fill="#96d466" stroke="#4f9a36"/><use href="#lf2" transform="translate(740.1,271.2) rotate(307) scale(32.2,20.2)" fill="url(#shG)" stroke="none"/><use href="#vn" transform="translate(740.1,271.2) rotate(307) scale(32.2,20.2)" stroke="#c8eea4"/><use href="#lf2" transform="translate(741.6,274.6) rotate(370) scale(33.9,22.0)" fill="#96d466" stroke="#4f9a36"/><use href="#lf2" transform="translate(741.6,274.6) rotate(370) scale(33.9,22.0)" fill="url(#shG)" stroke="none"/><use href="#vn" transform="translate(741.6,274.6) rotate(370) scale(33.9,22.0)" stroke="#c8eea4"/><use href="#lf2" transform="translate(738.0,274.0) rotate(308) scale(15.6,11.2)" fill="#68b240" stroke="#4f9a36"/><use href="#lf2" transform="translate(738.0,274.0) rotate(308) scale(15.6,11.2)" fill="url(#shG)" stroke="none"/><use href="#vn" transform="translate(738.0,274.0) rotate(308) scale(15.6,11.2)" stroke="#c8eea4"/><use href="#lf2" transform="translate(738.0,274.0) rotate(111) scale(20.9,15.1)" fill="#84c856" stroke="#4f9a36"/><use href="#lf2" transform="translate(738.0,274.0) rotate(111) scale(20.9,15.1)" fill="url(#shG)" stroke="none"/><use href="#vn" transform="translate(738.0,274.0) rotate(111) scale(20.9,15.1)" stroke="#c8eea4"/><use href="#lf2" transform="translate(738.0,274.0) rotate(107) scale(19.8,14.3)" fill="#84c856" stroke="#4f9a36"/><use href="#lf2" transform="translate(738.0,274.0) rotate(107) scale(19.8,14.3)" fill="url(#shG)" stroke="none"/><use href="#vn" transform="translate(738.0,274.0) rotate(107) scale(19.8,14.3)" stroke="#c8eea4"/><use href="#lf2" transform="translate(807.4,279.4) rotate(66) scale(42.6,27.7)" fill="#8cd05c" stroke="#4f9a36"/><use href="#lf2" transform="translate(807.4,279.4) rotate(66) scale(42.6,27.7)" fill="url(#shG)" stroke="none"/><use href="#vn" transform="translate(807.4,279.4) rotate(66) scale(42.6,27.7)" stroke="#c8eea4"/><use href="#lf2" transform="translate(801.9,277.1) rotate(135) scale(30.7,22.3)" fill="#6cb842" stroke="#4f9a36"/><use href="#lf2" transform="translate(801.9,277.1) rotate(135) scale(30.7,22.3)" fill="url(#shG)" stroke="none"/><use href="#vn" transform="translate(801.9,277.1) rotate(135) scale(30.7,22.3)" stroke="#c8eea4"/><use href="#lf2" transform="translate(796.3,279.3) rotate(148) scale(28.4,21.7)" fill="#7cc44e" stroke="#4f9a36"/><use href="#lf2" transform="translate(796.3,279.3) rotate(148) scale(28.4,21.7)" fill="url(#shG)" stroke="none"/><use href="#vn" transform="translate(796.3,279.3) rotate(148) scale(28.4,21.7)" stroke="#c8eea4"/><use href="#lf2" transform="translate(798.6,266.7) rotate(229) scale(38.1,24.3)" fill="#5eaa3a" stroke="#4f9a36"/><use href="#lf2" transform="translate(798.6,266.7) rotate(229) scale(38.1,24.3)" fill="url(#shG)" stroke="none"/><use href="#vn" transform="translate(798.6,266.7) rotate(229) scale(38.1,24.3)" stroke="#c8eea4"/><use href="#lf2" transform="translate(808.5,266.0) rotate(294) scale(43.3,30.4)" fill="#96d466" stroke="#4f9a36"/><use href="#lf2" transform="translate(808.5,266.0) rotate(294) scale(43.3,30.4)" fill="url(#shG)" stroke="none"/><use href="#vn" transform="translate(808.5,266.0) rotate(294) scale(43.3,30.4)" stroke="#c8eea4"/><use href="#lf2" transform="translate(809.2,270.4) rotate(319) scale(41.1,29.5)" fill="#8cd05c" stroke="#4f9a36"/><use href="#lf2" transform="translate(809.2,270.4) rotate(319) scale(41.1,29.5)" fill="url(#shG)" stroke="none"/><use href="#vn" transform="translate(809.2,270.4) rotate(319) scale(41.1,29.5)" stroke="#c8eea4"/><use href="#lf2" transform="translate(805.0,274.0) rotate(73) scale(19.7,14.2)" fill="#96d466" stroke="#4f9a36"/><use href="#lf2" transform="translate(805.0,274.0) rotate(73) scale(19.7,14.2)" fill="url(#shG)" stroke="none"/><use href="#vn" transform="translate(805.0,274.0) rotate(73) scale(19.7,14.2)" stroke="#c8eea4"/><use href="#lf2" transform="translate(805.0,274.0) rotate(77) scale(13.9,10.0)" fill="#7cc44e" stroke="#4f9a36"/><use href="#lf2" transform="translate(805.0,274.0) rotate(77) scale(13.9,10.0)" fill="url(#shG)" stroke="none"/><use href="#vn" transform="translate(805.0,274.0) rotate(77) scale(13.9,10.0)" stroke="#c8eea4"/><use href="#lf2" transform="translate(805.0,274.0) rotate(174) scale(20.8,15.0)" fill="#68b240" stroke="#4f9a36"/><use href="#lf2" transform="translate(805.0,274.0) rotate(174) scale(20.8,15.0)" fill="url(#shG)" stroke="none"/><use href="#vn" transform="translate(805.0,274.0) rotate(174) scale(20.8,15.0)" stroke="#c8eea4"/><use href="#lf2" transform="translate(679.5,341.7) rotate(98) scale(35.8,24.7)" fill="#6cb842" stroke="#4f9a36"/><use href="#lf2" transform="translate(679.5,341.7) rotate(98) scale(35.8,24.7)" fill="url(#shG)" stroke="none"/><use href="#vn" transform="translate(679.5,341.7) rotate(98) scale(35.8,24.7)" stroke="#c8eea4"/><use href="#lf2" transform="translate(671.2,340.5) rotate(164) scale(35.2,24.0)" fill="#6cb842" stroke="#4f9a36"/><use href="#lf2" transform="translate(671.2,340.5) rotate(164) scale(35.2,24.0)" fill="url(#shG)" stroke="none"/><use href="#vn" transform="translate(671.2,340.5) rotate(164) scale(35.2,24.0)" stroke="#c8eea4"/><use href="#lf2" transform="translate(671.9,332.0) rotate(216) scale(38.2,25.0)" fill="#5eaa3a" stroke="#4f9a36"/><use href="#lf2" transform="translate(671.9,332.0) rotate(216) scale(38.2,25.0)" fill="url(#shG)" stroke="none"/><use href="#vn" transform="translate(671.9,332.0) rotate(216) scale(38.2,25.0)" stroke="#c8eea4"/><use href="#lf2" transform="translate(680.8,334.6) rotate(284) scale(35.1,22.2)" fill="#84c856" stroke="#4f9a36"/><use href="#lf2" transform="translate(680.8,334.6) rotate(284) scale(35.1,22.2)" fill="url(#shG)" stroke="none"/><use href="#vn" transform="translate(680.8,334.6) rotate(284) scale(35.1,22.2)" stroke="#c8eea4"/><use href="#lf2" transform="translate(683.0,334.6) rotate(311) scale(31.4,22.3)" fill="#8cd05c" stroke="#4f9a36"/><use href="#lf2" transform="translate(683.0,334.6) rotate(311) scale(31.4,22.3)" fill="url(#shG)" stroke="none"/><use href="#vn" transform="translate(683.0,334.6) rotate(311) scale(31.4,22.3)" stroke="#c8eea4"/><use href="#lf2" transform="translate(682.8,345.7) rotate(430) scale(42.4,28.9)" fill="#96d466" stroke="#4f9a36"/><use href="#lf2" transform="translate(682.8,345.7) rotate(430) scale(42.4,28.9)" fill="url(#shG)" stroke="none"/><use href="#vn" transform="translate(682.8,345.7) rotate(430) scale(42.4,28.9)" stroke="#c8eea4"/><use href="#lf2" transform="translate(680.0,338.0) rotate(131) scale(15.2,10.9)" fill="#5eaa3a" stroke="#4f9a36"/><use href="#lf2" transform="translate(680.0,338.0) rotate(131) scale(15.2,10.9)" fill="url(#shG)" stroke="none"/><use href="#vn" transform="translate(680.0,338.0) rotate(131) scale(15.2,10.9)" stroke="#c8eea4"/><use href="#lf2" transform="translate(680.0,338.0) rotate(348) scale(16.8,12.1)" fill="#96d466" stroke="#4f9a36"/><use href="#lf2" transform="translate(680.0,338.0) rotate(348) scale(16.8,12.1)" fill="url(#shG)" stroke="none"/><use href="#vn" transform="translate(680.0,338.0) rotate(348) scale(16.8,12.1)" stroke="#c8eea4"/><use href="#lf2" transform="translate(680.0,338.0) rotate(229) scale(14.7,10.6)" fill="#84c856" stroke="#4f9a36"/><use href="#lf2" transform="translate(680.0,338.0) rotate(229) scale(14.7,10.6)" fill="url(#shG)" stroke="none"/><use href="#vn" transform="translate(680.0,338.0) rotate(229) scale(14.7,10.6)" stroke="#c8eea4"/><use href="#lf2" transform="translate(742.2,335.5) rotate(330) scale(41.4,28.4)" fill="#6cb842" stroke="#4f9a36"/><use href="#lf2" transform="translate(742.2,335.5) rotate(330) scale(41.4,28.4)" fill="url(#shG)" stroke="none"/><use href="#vn" transform="translate(742.2,335.5) rotate(330) scale(41.4,28.4)" stroke="#c8eea4"/><use href="#lf2" transform="translate(743.1,343.1) rotate(405) scale(38.7,26.7)" fill="#5eaa3a" stroke="#4f9a36"/><use href="#lf2" transform="translate(743.1,343.1) rotate(405) scale(38.7,26.7)" fill="url(#shG)" stroke="none"/><use href="#vn" transform="translate(743.1,343.1) rotate(405) scale(38.7,26.7)" stroke="#c8eea4"/><use href="#lf2" transform="translate(741.7,347.4) rotate(429) scale(41.3,25.9)" fill="#5eaa3a" stroke="#4f9a36"/><use href="#lf2" transform="translate(741.7,347.4) rotate(429) scale(41.3,25.9)" fill="url(#shG)" stroke="none"/><use href="#vn" transform="translate(741.7,347.4) rotate(429) scale(41.3,25.9)" stroke="#c8eea4"/><use href="#lf2" transform="translate(731.7,346.3) rotate(487) scale(42.9,31.8)" fill="#8cd05c" stroke="#4f9a36"/><use href="#lf2" transform="translate(731.7,346.3) rotate(487) scale(42.9,31.8)" fill="url(#shG)" stroke="none"/><use href="#vn" transform="translate(731.7,346.3) rotate(487) scale(42.9,31.8)" stroke="#c8eea4"/><use href="#lf2" transform="translate(731.6,335.3) rotate(563) scale(32.0,24.9)" fill="#68b240" stroke="#4f9a36"/><use href="#lf2" transform="translate(731.6,335.3) rotate(563) scale(32.0,24.9)" fill="url(#shG)" stroke="none"/><use href="#vn" transform="translate(731.6,335.3) rotate(563) scale(32.0,24.9)" stroke="#c8eea4"/><use href="#lf2" transform="translate(741.9,328.7) rotate(653) scale(33.9,26.3)" fill="#8cd05c" stroke="#4f9a36"/><use href="#lf2" transform="translate(741.9,328.7) rotate(653) scale(33.9,26.3)" fill="url(#shG)" stroke="none"/><use href="#vn" transform="translate(741.9,328.7) rotate(653) scale(33.9,26.3)" stroke="#c8eea4"/><use href="#lf2" transform="translate(738.0,338.0) rotate(70) scale(16.9,12.2)" fill="#8cd05c" stroke="#4f9a36"/><use href="#lf2" transform="translate(738.0,338.0) rotate(70) scale(16.9,12.2)" fill="url(#shG)" stroke="none"/><use href="#vn" transform="translate(738.0,338.0) rotate(70) scale(16.9,12.2)" stroke="#c8eea4"/><use href="#lf2" transform="translate(738.0,338.0) rotate(64) scale(15.5,11.2)" fill="#7cc44e" stroke="#4f9a36"/><use href="#lf2" transform="translate(738.0,338.0) rotate(64) scale(15.5,11.2)" fill="url(#shG)" stroke="none"/><use href="#vn" transform="translate(738.0,338.0) rotate(64) scale(15.5,11.2)" stroke="#c8eea4"/><use href="#lf2" transform="translate(738.0,338.0) rotate(178) scale(16.3,11.7)" fill="#8cd05c" stroke="#4f9a36"/><use href="#lf2" transform="translate(738.0,338.0) rotate(178) scale(16.3,11.7)" fill="url(#shG)" stroke="none"/><use href="#vn" transform="translate(738.0,338.0) rotate(178) scale(16.3,11.7)" stroke="#c8eea4"/><use href="#lf2" transform="translate(806.2,331.3) rotate(281) scale(43.9,29.5)" fill="#68b240" stroke="#4f9a36"/><use href="#lf2" transform="translate(806.2,331.3) rotate(281) scale(43.9,29.5)" fill="url(#shG)" stroke="none"/><use href="#vn" transform="translate(806.2,331.3) rotate(281) scale(43.9,29.5)" stroke="#c8eea4"/><use href="#lf2" transform="translate(813.1,340.4) rotate(376) scale(37.5,26.2)" fill="#8cd05c" stroke="#4f9a36"/><use href="#lf2" transform="translate(813.1,340.4) rotate(376) scale(37.5,26.2)" fill="url(#shG)" stroke="none"/><use href="#vn" transform="translate(813.1,340.4) rotate(376) scale(37.5,26.2)" stroke="#c8eea4"/><use href="#lf2" transform="translate(807.2,343.5) rotate(428) scale(33.1,21.5)" fill="#8cd05c" stroke="#4f9a36"/><use href="#lf2" transform="translate(807.2,343.5) rotate(428) scale(33.1,21.5)" fill="url(#shG)" stroke="none"/><use href="#vn" transform="translate(807.2,343.5) rotate(428) scale(33.1,21.5)" stroke="#c8eea4"/><use href="#lf2" transform="translate(798.5,344.2) rotate(496) scale(39.4,27.2)" fill="#7cc44e" stroke="#4f9a36"/><use href="#lf2" transform="translate(798.5,344.2) rotate(496) scale(39.4,27.2)" fill="url(#shG)" stroke="none"/><use href="#vn" transform="translate(798.5,344.2) rotate(496) scale(39.4,27.2)" stroke="#c8eea4"/><use href="#lf2" transform="translate(800.3,339.1) rotate(527) scale(40.1,28.2)" fill="#96d466" stroke="#4f9a36"/><use href="#lf2" transform="translate(800.3,339.1) rotate(527) scale(40.1,28.2)" fill="url(#shG)" stroke="none"/><use href="#vn" transform="translate(800.3,339.1) rotate(527) scale(40.1,28.2)" stroke="#c8eea4"/><use href="#lf2" transform="translate(799.1,334.4) rotate(572) scale(33.2,21.7)" fill="#6cb842" stroke="#4f9a36"/><use href="#lf2" transform="translate(799.1,334.4) rotate(572) scale(33.2,21.7)" fill="url(#shG)" stroke="none"/><use href="#vn" transform="translate(799.1,334.4) rotate(572) scale(33.2,21.7)" stroke="#c8eea4"/><use href="#lf2" transform="translate(805.0,338.0) rotate(166) scale(15.4,11.1)" fill="#8cd05c" stroke="#4f9a36"/><use href="#lf2" transform="translate(805.0,338.0) rotate(166) scale(15.4,11.1)" fill="url(#shG)" stroke="none"/><use href="#vn" transform="translate(805.0,338.0) rotate(166) scale(15.4,11.1)" stroke="#c8eea4"/><use href="#lf2" transform="translate(805.0,338.0) rotate(317) scale(17.6,12.7)" fill="#84c856" stroke="#4f9a36"/><use href="#lf2" transform="translate(805.0,338.0) rotate(317) scale(17.6,12.7)" fill="url(#shG)" stroke="none"/><use href="#vn" transform="translate(805.0,338.0) rotate(317) scale(17.6,12.7)" stroke="#c8eea4"/><use href="#lf2" transform="translate(805.0,338.0) rotate(6) scale(13.9,10.0)" fill="#5eaa3a" stroke="#4f9a36"/><use href="#lf2" transform="translate(805.0,338.0) rotate(6) scale(13.9,10.0)" fill="url(#shG)" stroke="none"/><use href="#vn" transform="translate(805.0,338.0) rotate(6) scale(13.9,10.0)" stroke="#c8eea4"/><circle cx="888" cy="143" r="24" fill="#6a4030"/><circle cx="888" cy="140" r="21.5" fill="#211b17"/><circle cx="946" cy="143" r="24" fill="#6a4030"/><circle cx="946" cy="140" r="21.5" fill="#211b17"/><circle cx="1012" cy="143" r="24" fill="#6a4030"/><circle cx="1012" cy="140" r="21.5" fill="#211b17"/><circle cx="888" cy="203" r="24" fill="#6a4030"/><circle cx="888" cy="200" r="21.5" fill="#211b17"/><circle cx="946" cy="203" r="24" fill="#6a4030"/><circle cx="946" cy="200" r="21.5" fill="#211b17"/><circle cx="1012" cy="203" r="24" fill="#6a4030"/><circle cx="1012" cy="200" r="21.5" fill="#211b17"/><circle cx="888" cy="261" r="24" fill="#6a4030"/><circle cx="888" cy="258" r="21.5" fill="#211b17"/><circle cx="946" cy="261" r="24" fill="#6a4030"/><circle cx="946" cy="258" r="21.5" fill="#211b17"/><circle cx="1012" cy="261" r="24" fill="#6a4030"/><circle cx="1012" cy="258" r="21.5" fill="#211b17"/><circle cx="888" cy="328" r="24" fill="#6a4030"/><circle cx="888" cy="325" r="21.5" fill="#211b17"/><circle cx="946" cy="328" r="24" fill="#6a4030"/><circle cx="946" cy="325" r="21.5" fill="#211b17"/><circle cx="1012" cy="328" r="24" fill="#6a4030"/><circle cx="1012" cy="325" r="21.5" fill="#211b17"/><use href="#lf2" transform="translate(896.1,139.9) rotate(-1) scale(39.1,29.5)" fill="#78b450" stroke="#356e26"/><use href="#lf2" transform="translate(896.1,139.9) rotate(-1) scale(39.1,29.5)" fill="url(#shG)" stroke="none"/><use href="#vn" transform="translate(896.1,139.9) rotate(-1) scale(39.1,29.5)" stroke="#b4dc94"/><use href="#lf2" transform="translate(888.6,147.8) rotate(113) scale(38.7,28.3)" fill="#4e9234" stroke="#356e26"/><use href="#lf2" transform="translate(888.6,147.8) rotate(113) scale(38.7,28.3)" fill="url(#shG)" stroke="none"/><use href="#vn" transform="translate(888.6,147.8) rotate(113) scale(38.7,28.3)" stroke="#b4dc94"/><use href="#lf2" transform="translate(888.3,142.4) rotate(147) scale(34.0,25.6)" fill="#78b450" stroke="#356e26"/><use href="#lf2" transform="translate(888.3,142.4) rotate(147) scale(34.0,25.6)" fill="url(#shG)" stroke="none"/><use href="#vn" transform="translate(888.3,142.4) rotate(147) scale(34.0,25.6)" stroke="#b4dc94"/><use href="#lf2" transform="translate(888.6,132.7) rotate(245) scale(32.5,22.2)" fill="#68aa44" stroke="#356e26"/><use href="#lf2" transform="translate(888.6,132.7) rotate(245) scale(32.5,22.2)" fill="url(#shG)" stroke="none"/><use href="#vn" transform="translate(888.6,132.7) rotate(245) scale(32.5,22.2)" stroke="#b4dc94"/><use href="#lf2" transform="translate(897.7,134.4) rotate(316) scale(34.5,21.5)" fill="#68aa44" stroke="#356e26"/><use href="#lf2" transform="translate(897.7,134.4) rotate(316) scale(34.5,21.5)" fill="url(#shG)" stroke="none"/><use href="#vn" transform="translate(897.7,134.4) rotate(316) scale(34.5,21.5)" stroke="#b4dc94"/><use href="#lf2" transform="translate(892.0,140.0) rotate(311) scale(17.5,12.6)" fill="#68aa44" stroke="#356e26"/><use href="#lf2" transform="translate(892.0,140.0) rotate(311) scale(17.5,12.6)" fill="url(#shG)" stroke="none"/><use href="#vn" transform="translate(892.0,140.0) rotate(311) scale(17.5,12.6)" stroke="#b4dc94"/><use href="#lf2" transform="translate(892.0,140.0) rotate(310) scale(16.7,12.0)" fill="#4a8a32" stroke="#356e26"/><use href="#lf2" transform="translate(892.0,140.0) rotate(310) scale(16.7,12.0)" fill="url(#shG)" stroke="none"/><use href="#vn" transform="translate(892.0,140.0) rotate(310) scale(16.7,12.0)" stroke="#b4dc94"/><use href="#lf2" transform="translate(955.0,141.2) rotate(14) scale(24.6,18.1)" fill="#60a23e" stroke="#356e26"/><use href="#lf2" transform="translate(955.0,141.2) rotate(14) scale(24.6,18.1)" fill="url(#shG)" stroke="none"/><use href="#vn" transform="translate(955.0,141.2) rotate(14) scale(24.6,18.1)" stroke="#b4dc94"/><use href="#lf2" transform="translate(948.5,144.8) rotate(107) scale(37.3,25.6)" fill="#88c05a" stroke="#356e26"/><use href="#lf2" transform="translate(948.5,144.8) rotate(107) scale(37.3,25.6)" fill="url(#shG)" stroke="none"/><use href="#vn" transform="translate(948.5,144.8) rotate(107) scale(37.3,25.6)" stroke="#b4dc94"/><use href="#lf2" transform="translate(942.6,140.7) rotate(175) scale(27.4,18.8)" fill="#88c05a" stroke="#356e26"/><use href="#lf2" transform="translate(942.6,140.7) rotate(175) scale(27.4,18.8)" fill="url(#shG)" stroke="none"/><use href="#vn" transform="translate(942.6,140.7) rotate(175) scale(27.4,18.8)" stroke="#b4dc94"/><use href="#lf2" transform="translate(942.7,132.9) rotate(224) scale(43.1,26.0)" fill="#5a9e3a" stroke="#356e26"/><use href="#lf2" transform="translate(942.7,132.9) rotate(224) scale(43.1,26.0)" fill="url(#shG)" stroke="none"/><use href="#vn" transform="translate(942.7,132.9) rotate(224) scale(43.1,26.0)" stroke="#b4dc94"/><use href="#lf2" transform="translate(951.9,136.1) rotate(297) scale(30.0,22.1)" fill="#60a23e" stroke="#356e26"/><use href="#lf2" transform="translate(951.9,136.1) rotate(297) scale(30.0,22.1)" fill="url(#shG)" stroke="none"/><use href="#vn" transform="translate(951.9,136.1) rotate(297) scale(30.0,22.1)" stroke="#b4dc94"/><use href="#lf2" transform="translate(950.0,140.0) rotate(258) scale(20.8,15.0)" fill="#5a9e3a" stroke="#356e26"/><use href="#lf2" transform="translate(950.0,140.0) rotate(258) scale(20.8,15.0)" fill="url(#shG)" stroke="none"/><use href="#vn" transform="translate(950.0,140.0) rotate(258) scale(20.8,15.0)" stroke="#b4dc94"/><use href="#lf2" transform="translate(950.0,140.0) rotate(274) scale(19.4,13.9)" fill="#88c05a" stroke="#356e26"/><use href="#lf2" transform="translate(950.0,140.0) rotate(274) scale(19.4,13.9)" fill="url(#shG)" stroke="none"/><use href="#vn" transform="translate(950.0,140.0) rotate(274) scale(19.4,13.9)" stroke="#b4dc94"/><use href="#lf2" transform="translate(1017.1,135.6) rotate(284) scale(32.9,23.8)" fill="#5a9e3a" stroke="#356e26"/><use href="#lf2" transform="translate(1017.1,135.6) rotate(284) scale(32.9,23.8)" fill="url(#shG)" stroke="none"/><use href="#vn" transform="translate(1017.1,135.6) rotate(284) scale(32.9,23.8)" stroke="#b4dc94"/><use href="#lf2" transform="translate(1019.1,139.0) rotate(343) scale(42.0,29.2)" fill="#68aa44" stroke="#356e26"/><use href="#lf2" transform="translate(1019.1,139.0) rotate(343) scale(42.0,29.2)" fill="url(#shG)" stroke="none"/><use href="#vn" transform="translate(1019.1,139.0) rotate(343) scale(42.0,29.2)" stroke="#b4dc94"/><use href="#lf2" transform="translate(1022.5,146.1) rotate(403) scale(37.5,26.8)" fill="#68aa44" stroke="#356e26"/><use href="#lf2" transform="translate(1022.5,146.1) rotate(403) scale(37.5,26.8)" fill="url(#shG)" stroke="none"/><use href="#vn" transform="translate(1022.5,146.1) rotate(403) scale(37.5,26.8)" stroke="#b4dc94"/><use href="#lf2" transform="translate(1012.5,141.8) rotate(513) scale(31.2,21.3)" fill="#60a23e" stroke="#356e26"/><use href="#lf2" transform="translate(1012.5,141.8) rotate(513) scale(31.2,21.3)" fill="url(#shG)" stroke="none"/><use href="#vn" transform="translate(1012.5,141.8) rotate(513) scale(31.2,21.3)" stroke="#b4dc94"/><use href="#lf2" transform="translate(1010.8,135.2) rotate(583) scale(38.0,28.0)" fill="#4e9234" stroke="#356e26"/><use href="#lf2" transform="translate(1010.8,135.2) rotate(583) scale(38.0,28.0)" fill="url(#shG)" stroke="none"/><use href="#vn" transform="translate(1010.8,135.2) rotate(583) scale(38.0,28.0)" stroke="#b4dc94"/><use href="#lf2" transform="translate(1016.0,140.0) rotate(170) scale(20.5,14.7)" fill="#78b450" stroke="#356e26"/><use href="#lf2" transform="translate(1016.0,140.0) rotate(170) scale(20.5,14.7)" fill="url(#shG)" stroke="none"/><use href="#vn" transform="translate(1016.0,140.0) rotate(170) scale(20.5,14.7)" stroke="#b4dc94"/><use href="#lf2" transform="translate(1016.0,140.0) rotate(348) scale(21.0,15.1)" fill="#68aa44" stroke="#356e26"/><use href="#lf2" transform="translate(1016.0,140.0) rotate(348) scale(21.0,15.1)" fill="url(#shG)" stroke="none"/><use href="#vn" transform="translate(1016.0,140.0) rotate(348) scale(21.0,15.1)" stroke="#b4dc94"/><use href="#lf2" transform="translate(894.8,203.7) rotate(53) scale(36.9,27.3)" fill="#88c05a" stroke="#356e26"/><use href="#lf2" transform="translate(894.8,203.7) rotate(53) scale(36.9,27.3)" fill="url(#shG)" stroke="none"/><use href="#vn" transform="translate(894.8,203.7) rotate(53) scale(36.9,27.3)" stroke="#b4dc94"/><use href="#lf2" transform="translate(888.7,203.5) rotate(133) scale(29.9,18.0)" fill="#68aa44" stroke="#356e26"/><use href="#lf2" transform="translate(888.7,203.5) rotate(133) scale(29.9,18.0)" fill="url(#shG)" stroke="none"/><use href="#vn" transform="translate(888.7,203.5) rotate(133) scale(29.9,18.0)" stroke="#b4dc94"/><use href="#lf2" transform="translate(882.3,202.2) rotate(167) scale(26.5,16.4)" fill="#88c05a" stroke="#356e26"/><use href="#lf2" transform="translate(882.3,202.2) rotate(167) scale(26.5,16.4)" fill="url(#shG)" stroke="none"/><use href="#vn" transform="translate(882.3,202.2) rotate(167) scale(26.5,16.4)" stroke="#b4dc94"/><use href="#lf2" transform="translate(891.1,192.6) rotate(263) scale(43.0,30.3)" fill="#4e9234" stroke="#356e26"/><use href="#lf2" transform="translate(891.1,192.6) rotate(263) scale(43.0,30.3)" fill="url(#shG)" stroke="none"/><use href="#vn" transform="translate(891.1,192.6) rotate(263) scale(43.0,30.3)" stroke="#b4dc94"/><use href="#lf2" transform="translate(894.9,195.6) rotate(303) scale(39.9,24.5)" fill="#88c05a" stroke="#356e26"/><use href="#lf2" transform="translate(894.9,195.6) rotate(303) scale(39.9,24.5)" fill="url(#shG)" stroke="none"/><use href="#vn" transform="translate(894.9,195.6) rotate(303) scale(39.9,24.5)" stroke="#b4dc94"/><use href="#lf2" transform="translate(892.0,200.0) rotate(163) scale(18.5,13.3)" fill="#5a9e3a" stroke="#356e26"/><use href="#lf2" transform="translate(892.0,200.0) rotate(163) scale(18.5,13.3)" fill="url(#shG)" stroke="none"/><use href="#vn" transform="translate(892.0,200.0) rotate(163) scale(18.5,13.3)" stroke="#b4dc94"/><use href="#lf2" transform="translate(892.0,200.0) rotate(6) scale(20.3,14.6)" fill="#4e9234" stroke="#356e26"/><use href="#lf2" transform="translate(892.0,200.0) rotate(6) scale(20.3,14.6)" fill="url(#shG)" stroke="none"/><use href="#vn" transform="translate(892.0,200.0) rotate(6) scale(20.3,14.6)" stroke="#b4dc94"/><use href="#lf2" transform="translate(948.1,203.5) rotate(118) scale(36.5,25.1)" fill="#78b450" stroke="#356e26"/><use href="#lf2" transform="translate(948.1,203.5) rotate(118) scale(36.5,25.1)" fill="url(#shG)" stroke="none"/><use href="#vn" transform="translate(948.1,203.5) rotate(118) scale(36.5,25.1)" stroke="#b4dc94"/><use href="#lf2" transform="translate(944.6,198.9) rotate(191) scale(36.1,24.4)" fill="#4e9234" stroke="#356e26"/><use href="#lf2" transform="translate(944.6,198.9) rotate(191) scale(36.1,24.4)" fill="url(#shG)" stroke="none"/><use href="#vn" transform="translate(944.6,198.9) rotate(191) scale(36.1,24.4)" stroke="#b4dc94"/><use href="#lf2" transform="translate(948.3,189.5) rotate(261) scale(38.4,29.0)" fill="#4a8a32" stroke="#356e26"/><use href="#lf2" transform="translate(948.3,189.5) rotate(261) scale(38.4,29.0)" fill="url(#shG)" stroke="none"/><use href="#vn" transform="translate(948.3,189.5) rotate(261) scale(38.4,29.0)" stroke="#b4dc94"/><use href="#lf2" transform="translate(954.5,201.5) rotate(379) scale(43.9,33.1)" fill="#68aa44" stroke="#356e26"/><use href="#lf2" transform="translate(954.5,201.5) rotate(379) scale(43.9,33.1)" fill="url(#shG)" stroke="none"/><use href="#vn" transform="translate(954.5,201.5) rotate(379) scale(43.9,33.1)" stroke="#b4dc94"/><use href="#lf2" transform="translate(953.7,204.6) rotate(411) scale(30.8,20.3)" fill="#4a8a32" stroke="#356e26"/><use href="#lf2" transform="translate(953.7,204.6) rotate(411) scale(30.8,20.3)" fill="url(#shG)" stroke="none"/><use href="#vn" transform="translate(953.7,204.6) rotate(411) scale(30.8,20.3)" stroke="#b4dc94"/><use href="#lf2" transform="translate(950.0,200.0) rotate(269) scale(15.8,11.4)" fill="#4e9234" stroke="#356e26"/><use href="#lf2" transform="translate(950.0,200.0) rotate(269) scale(15.8,11.4)" fill="url(#shG)" stroke="none"/><use href="#vn" transform="translate(950.0,200.0) rotate(269) scale(15.8,11.4)" stroke="#b4dc94"/><use href="#lf2" transform="translate(950.0,200.0) rotate(188) scale(19.4,14.0)" fill="#5a9e3a" stroke="#356e26"/><use href="#lf2" transform="translate(950.0,200.0) rotate(188) scale(19.4,14.0)" fill="url(#shG)" stroke="none"/><use href="#vn" transform="translate(950.0,200.0) rotate(188) scale(19.4,14.0)" stroke="#b4dc94"/><use href="#lf2" transform="translate(1009.3,201.2) rotate(170) scale(35.5,26.6)" fill="#68aa44" stroke="#356e26"/><use href="#lf2" transform="translate(1009.3,201.2) rotate(170) scale(35.5,26.6)" fill="url(#shG)" stroke="none"/><use href="#vn" transform="translate(1009.3,201.2) rotate(170) scale(35.5,26.6)" stroke="#b4dc94"/><use href="#lf2" transform="translate(1015.0,195.8) rotate(257) scale(40.0,25.4)" fill="#4a8a32" stroke="#356e26"/><use href="#lf2" transform="translate(1015.0,195.8) rotate(257) scale(40.0,25.4)" fill="url(#shG)" stroke="none"/><use href="#vn" transform="translate(1015.0,195.8) rotate(257) scale(40.0,25.4)" stroke="#b4dc94"/><use href="#lf2" transform="translate(1018.0,192.0) rotate(284) scale(44.5,28.3)" fill="#60a23e" stroke="#356e26"/><use href="#lf2" transform="translate(1018.0,192.0) rotate(284) scale(44.5,28.3)" fill="url(#shG)" stroke="none"/><use href="#vn" transform="translate(1018.0,192.0) rotate(284) scale(44.5,28.3)" stroke="#b4dc94"/><use href="#lf2" transform="translate(1019.0,200.1) rotate(362) scale(44.1,28.8)" fill="#60a23e" stroke="#356e26"/><use href="#lf2" transform="translate(1019.0,200.1) rotate(362) scale(44.1,28.8)" fill="url(#shG)" stroke="none"/><use href="#vn" transform="translate(1019.0,200.1) rotate(362) scale(44.1,28.8)" stroke="#b4dc94"/><use href="#lf2" transform="translate(1015.4,203.6) rotate(460) scale(42.1,25.9)" fill="#78b450" stroke="#356e26"/><use href="#lf2" transform="translate(1015.4,203.6) rotate(460) scale(42.1,25.9)" fill="url(#shG)" stroke="none"/><use href="#vn" transform="translate(1015.4,203.6) rotate(460) scale(42.1,25.9)" stroke="#b4dc94"/><use href="#lf2" transform="translate(1016.0,200.0) rotate(305) scale(16.1,11.6)" fill="#60a23e" stroke="#356e26"/><use href="#lf2" transform="translate(1016.0,200.0) rotate(305) scale(16.1,11.6)" fill="url(#shG)" stroke="none"/><use href="#vn" transform="translate(1016.0,200.0) rotate(305) scale(16.1,11.6)" stroke="#b4dc94"/><use href="#lf2" transform="translate(1016.0,200.0) rotate(358) scale(20.7,14.9)" fill="#68aa44" stroke="#356e26"/><use href="#lf2" transform="translate(1016.0,200.0) rotate(358) scale(20.7,14.9)" fill="url(#shG)" stroke="none"/><use href="#vn" transform="translate(1016.0,200.0) rotate(358) scale(20.7,14.9)" stroke="#b4dc94"/><use href="#lf2" transform="translate(901.4,256.6) rotate(-9) scale(39.6,30.2)" fill="#68aa44" stroke="#356e26"/><use href="#lf2" transform="translate(901.4,256.6) rotate(-9) scale(39.6,30.2)" fill="url(#shG)" stroke="none"/><use href="#vn" transform="translate(901.4,256.6) rotate(-9) scale(39.6,30.2)" stroke="#b4dc94"/><use href="#lf2" transform="translate(895.9,263.9) rotate(56) scale(29.8,21.4)" fill="#68aa44" stroke="#356e26"/><use href="#lf2" transform="translate(895.9,263.9) rotate(56) scale(29.8,21.4)" fill="url(#shG)" stroke="none"/><use href="#vn" transform="translate(895.9,263.9) rotate(56) scale(29.8,21.4)" stroke="#b4dc94"/><use href="#lf2" transform="translate(886.0,266.5) rotate(125) scale(29.5,20.0)" fill="#60a23e" stroke="#356e26"/><use href="#lf2" transform="translate(886.0,266.5) rotate(125) scale(29.5,20.0)" fill="url(#shG)" stroke="none"/><use href="#vn" transform="translate(886.0,266.5) rotate(125) scale(29.5,20.0)" stroke="#b4dc94"/><use href="#lf2" transform="translate(884.6,254.2) rotate(207) scale(33.2,23.3)" fill="#78b450" stroke="#356e26"/><use href="#lf2" transform="translate(884.6,254.2) rotate(207) scale(33.2,23.3)" fill="url(#shG)" stroke="none"/><use href="#vn" transform="translate(884.6,254.2) rotate(207) scale(33.2,23.3)" stroke="#b4dc94"/><use href="#lf2" transform="translate(891.5,252.2) rotate(265) scale(40.9,29.5)" fill="#60a23e" stroke="#356e26"/><use href="#lf2" transform="translate(891.5,252.2) rotate(265) scale(40.9,29.5)" fill="url(#shG)" stroke="none"/><use href="#vn" transform="translate(891.5,252.2) rotate(265) scale(40.9,29.5)" stroke="#b4dc94"/><use href="#lf2" transform="translate(892.0,258.0) rotate(251) scale(18.9,13.6)" fill="#88c05a" stroke="#356e26"/><use href="#lf2" transform="translate(892.0,258.0) rotate(251) scale(18.9,13.6)" fill="url(#shG)" stroke="none"/><use href="#vn" transform="translate(892.0,258.0) rotate(251) scale(18.9,13.6)" stroke="#b4dc94"/><use href="#lf2" transform="translate(892.0,258.0) rotate(166) scale(14.5,10.4)" fill="#4e9234" stroke="#356e26"/><use href="#lf2" transform="translate(892.0,258.0) rotate(166) scale(14.5,10.4)" fill="url(#shG)" stroke="none"/><use href="#vn" transform="translate(892.0,258.0) rotate(166) scale(14.5,10.4)" stroke="#b4dc94"/><use href="#lf2" transform="translate(945.4,257.0) rotate(192) scale(42.1,26.5)" fill="#60a23e" stroke="#356e26"/><use href="#lf2" transform="translate(945.4,257.0) rotate(192) scale(42.1,26.5)" fill="url(#shG)" stroke="none"/><use href="#vn" transform="translate(945.4,257.0) rotate(192) scale(42.1,26.5)" stroke="#b4dc94"/><use href="#lf2" transform="translate(951.3,251.4) rotate(281) scale(27.6,17.0)" fill="#78b450" stroke="#356e26"/><use href="#lf2" transform="translate(951.3,251.4) rotate(281) scale(27.6,17.0)" fill="url(#shG)" stroke="none"/><use href="#vn" transform="translate(951.3,251.4) rotate(281) scale(27.6,17.0)" stroke="#b4dc94"/><use href="#lf2" transform="translate(954.1,254.3) rotate(318) scale(28.2,21.7)" fill="#68aa44" stroke="#356e26"/><use href="#lf2" transform="translate(954.1,254.3) rotate(318) scale(28.2,21.7)" fill="url(#shG)" stroke="none"/><use href="#vn" transform="translate(954.1,254.3) rotate(318) scale(28.2,21.7)" stroke="#b4dc94"/><use href="#lf2" transform="translate(956.2,261.8) rotate(391) scale(41.4,31.1)" fill="#78b450" stroke="#356e26"/><use href="#lf2" transform="translate(956.2,261.8) rotate(391) scale(41.4,31.1)" fill="url(#shG)" stroke="none"/><use href="#vn" transform="translate(956.2,261.8) rotate(391) scale(41.4,31.1)" stroke="#b4dc94"/><use href="#lf2" transform="translate(951.1,266.3) rotate(443) scale(40.7,27.0)" fill="#4a8a32" stroke="#356e26"/><use href="#lf2" transform="translate(951.1,266.3) rotate(443) scale(40.7,27.0)" fill="url(#shG)" stroke="none"/><use href="#vn" transform="translate(951.1,266.3) rotate(443) scale(40.7,27.0)" stroke="#b4dc94"/><use href="#lf2" transform="translate(950.0,258.0) rotate(305) scale(19.0,13.7)" fill="#4e9234" stroke="#356e26"/><use href="#lf2" transform="translate(950.0,258.0) rotate(305) scale(19.0,13.7)" fill="url(#shG)" stroke="none"/><use href="#vn" transform="translate(950.0,258.0) rotate(305) scale(19.0,13.7)" stroke="#b4dc94"/><use href="#lf2" transform="translate(950.0,258.0) rotate(236) scale(14.7,10.6)" fill="#78b450" stroke="#356e26"/><use href="#lf2" transform="translate(950.0,258.0) rotate(236) scale(14.7,10.6)" fill="url(#shG)" stroke="none"/><use href="#vn" transform="translate(950.0,258.0) rotate(236) scale(14.7,10.6)" stroke="#b4dc94"/><use href="#lf2" transform="translate(1011.8,266.2) rotate(117) scale(25.6,16.6)" fill="#88c05a" stroke="#356e26"/><use href="#lf2" transform="translate(1011.8,266.2) rotate(117) scale(25.6,16.6)" fill="url(#shG)" stroke="none"/><use href="#vn" transform="translate(1011.8,266.2) rotate(117) scale(25.6,16.6)" stroke="#b4dc94"/><use href="#lf2" transform="translate(1006.7,258.0) rotate(180) scale(33.9,24.9)" fill="#60a23e" stroke="#356e26"/><use href="#lf2" transform="translate(1006.7,258.0) rotate(180) scale(33.9,24.9)" fill="url(#shG)" stroke="none"/><use href="#vn" transform="translate(1006.7,258.0) rotate(180) scale(33.9,24.9)" stroke="#b4dc94"/><use href="#lf2" transform="translate(1014.1,254.5) rotate(242) scale(33.1,21.2)" fill="#60a23e" stroke="#356e26"/><use href="#lf2" transform="translate(1014.1,254.5) rotate(242) scale(33.1,21.2)" fill="url(#shG)" stroke="none"/><use href="#vn" transform="translate(1014.1,254.5) rotate(242) scale(33.1,21.2)" stroke="#b4dc94"/><use href="#lf2" transform="translate(1019.8,256.5) rotate(338) scale(35.9,24.1)" fill="#4e9234" stroke="#356e26"/><use href="#lf2" transform="translate(1019.8,256.5) rotate(338) scale(35.9,24.1)" fill="url(#shG)" stroke="none"/><use href="#vn" transform="translate(1019.8,256.5) rotate(338) scale(35.9,24.1)" stroke="#b4dc94"/><use href="#lf2" transform="translate(1023.5,259.9) rotate(374) scale(28.7,18.0)" fill="#4e9234" stroke="#356e26"/><use href="#lf2" transform="translate(1023.5,259.9) rotate(374) scale(28.7,18.0)" fill="url(#shG)" stroke="none"/><use href="#vn" transform="translate(1023.5,259.9) rotate(374) scale(28.7,18.0)" stroke="#b4dc94"/><use href="#lf2" transform="translate(1016.0,258.0) rotate(90) scale(20.3,14.6)" fill="#4e9234" stroke="#356e26"/><use href="#lf2" transform="translate(1016.0,258.0) rotate(90) scale(20.3,14.6)" fill="url(#shG)" stroke="none"/><use href="#vn" transform="translate(1016.0,258.0) rotate(90) scale(20.3,14.6)" stroke="#b4dc94"/><use href="#lf2" transform="translate(1016.0,258.0) rotate(134) scale(15.5,11.2)" fill="#88c05a" stroke="#356e26"/><use href="#lf2" transform="translate(1016.0,258.0) rotate(134) scale(15.5,11.2)" fill="url(#shG)" stroke="none"/><use href="#vn" transform="translate(1016.0,258.0) rotate(134) scale(15.5,11.2)" stroke="#b4dc94"/><use href="#lf2" transform="translate(886.9,325.7) rotate(172) scale(44.4,31.8)" fill="#68aa44" stroke="#356e26"/><use href="#lf2" transform="translate(886.9,325.7) rotate(172) scale(44.4,31.8)" fill="url(#shG)" stroke="none"/><use href="#vn" transform="translate(886.9,325.7) rotate(172) scale(44.4,31.8)" stroke="#b4dc94"/><use href="#lf2" transform="translate(890.2,320.7) rotate(247) scale(27.9,18.8)" fill="#68aa44" stroke="#356e26"/><use href="#lf2" transform="translate(890.2,320.7) rotate(247) scale(27.9,18.8)" fill="url(#shG)" stroke="none"/><use href="#vn" transform="translate(890.2,320.7) rotate(247) scale(27.9,18.8)" stroke="#b4dc94"/><use href="#lf2" transform="translate(897.7,321.3) rotate(327) scale(25.9,17.0)" fill="#5a9e3a" stroke="#356e26"/><use href="#lf2" transform="translate(897.7,321.3) rotate(327) scale(25.9,17.0)" fill="url(#shG)" stroke="none"/><use href="#vn" transform="translate(897.7,321.3) rotate(327) scale(25.9,17.0)" stroke="#b4dc94"/><use href="#lf2" transform="translate(893.4,331.3) rotate(437) scale(29.2,19.2)" fill="#5a9e3a" stroke="#356e26"/><use href="#lf2" transform="translate(893.4,331.3) rotate(437) scale(29.2,19.2)" fill="url(#shG)" stroke="none"/><use href="#vn" transform="translate(893.4,331.3) rotate(437) scale(29.2,19.2)" stroke="#b4dc94"/><use href="#lf2" transform="translate(888.8,327.4) rotate(503) scale(30.3,22.0)" fill="#88c05a" stroke="#356e26"/><use href="#lf2" transform="translate(888.8,327.4) rotate(503) scale(30.3,22.0)" fill="url(#shG)" stroke="none"/><use href="#vn" transform="translate(888.8,327.4) rotate(503) scale(30.3,22.0)" stroke="#b4dc94"/><use href="#lf2" transform="translate(892.0,325.0) rotate(187) scale(18.1,13.0)" fill="#78b450" stroke="#356e26"/><use href="#lf2" transform="translate(892.0,325.0) rotate(187) scale(18.1,13.0)" fill="url(#shG)" stroke="none"/><use href="#vn" transform="translate(892.0,325.0) rotate(187) scale(18.1,13.0)" stroke="#b4dc94"/><use href="#lf2" transform="translate(892.0,325.0) rotate(37) scale(19.7,14.2)" fill="#68aa44" stroke="#356e26"/><use href="#lf2" transform="translate(892.0,325.0) rotate(37) scale(19.7,14.2)" fill="url(#shG)" stroke="none"/><use href="#vn" transform="translate(892.0,325.0) rotate(37) scale(19.7,14.2)" stroke="#b4dc94"/><use href="#lf2" transform="translate(944.7,328.1) rotate(149) scale(39.5,24.9)" fill="#5a9e3a" stroke="#356e26"/><use href="#lf2" transform="translate(944.7,328.1) rotate(149) scale(39.5,24.9)" fill="url(#shG)" stroke="none"/><use href="#vn" transform="translate(944.7,328.1) rotate(149) scale(39.5,24.9)" stroke="#b4dc94"/><use href="#lf2" transform="translate(944.0,320.0) rotate(220) scale(29.2,18.1)" fill="#60a23e" stroke="#356e26"/><use href="#lf2" transform="translate(944.0,320.0) rotate(220) scale(29.2,18.1)" fill="url(#shG)" stroke="none"/><use href="#vn" transform="translate(944.0,320.0) rotate(220) scale(29.2,18.1)" stroke="#b4dc94"/><use href="#lf2" transform="translate(950.8,321.2) rotate(282) scale(42.0,25.8)" fill="#68aa44" stroke="#356e26"/><use href="#lf2" transform="translate(950.8,321.2) rotate(282) scale(42.0,25.8)" fill="url(#shG)" stroke="none"/><use href="#vn" transform="translate(950.8,321.2) rotate(282) scale(42.0,25.8)" stroke="#b4dc94"/><use href="#lf2" transform="translate(955.6,325.4) rotate(364) scale(43.9,32.5)" fill="#5a9e3a" stroke="#356e26"/><use href="#lf2" transform="translate(955.6,325.4) rotate(364) scale(43.9,32.5)" fill="url(#shG)" stroke="none"/><use href="#vn" transform="translate(955.6,325.4) rotate(364) scale(43.9,32.5)" stroke="#b4dc94"/><use href="#lf2" transform="translate(948.8,335.4) rotate(456) scale(30.3,20.0)" fill="#4a8a32" stroke="#356e26"/><use href="#lf2" transform="translate(948.8,335.4) rotate(456) scale(30.3,20.0)" fill="url(#shG)" stroke="none"/><use href="#vn" transform="translate(948.8,335.4) rotate(456) scale(30.3,20.0)" stroke="#b4dc94"/><use href="#lf2" transform="translate(950.0,325.0) rotate(325) scale(14.3,10.3)" fill="#5a9e3a" stroke="#356e26"/><use href="#lf2" transform="translate(950.0,325.0) rotate(325) scale(14.3,10.3)" fill="url(#shG)" stroke="none"/><use href="#vn" transform="translate(950.0,325.0) rotate(325) scale(14.3,10.3)" stroke="#b4dc94"/><use href="#lf2" transform="translate(950.0,325.0) rotate(114) scale(13.8,9.9)" fill="#60a23e" stroke="#356e26"/><use href="#lf2" transform="translate(950.0,325.0) rotate(114) scale(13.8,9.9)" fill="url(#shG)" stroke="none"/><use href="#vn" transform="translate(950.0,325.0) rotate(114) scale(13.8,9.9)" stroke="#b4dc94"/><use href="#lf2" transform="translate(1008.2,319.0) rotate(218) scale(24.9,17.8)" fill="#60a23e" stroke="#356e26"/><use href="#lf2" transform="translate(1008.2,319.0) rotate(218) scale(24.9,17.8)" fill="url(#shG)" stroke="none"/><use href="#vn" transform="translate(1008.2,319.0) rotate(218) scale(24.9,17.8)" stroke="#b4dc94"/><use href="#lf2" transform="translate(1019.8,318.6) rotate(301) scale(37.2,26.2)" fill="#60a23e" stroke="#356e26"/><use href="#lf2" transform="translate(1019.8,318.6) rotate(301) scale(37.2,26.2)" fill="url(#shG)" stroke="none"/><use href="#vn" transform="translate(1019.8,318.6) rotate(301) scale(37.2,26.2)" stroke="#b4dc94"/><use href="#lf2" transform="translate(1022.3,320.7) rotate(325) scale(39.1,29.2)" fill="#4a8a32" stroke="#356e26"/><use href="#lf2" transform="translate(1022.3,320.7) rotate(325) scale(39.1,29.2)" fill="url(#shG)" stroke="none"/><use href="#vn" transform="translate(1022.3,320.7) rotate(325) scale(39.1,29.2)" stroke="#b4dc94"/><use href="#lf2" transform="translate(1017.2,332.8) rotate(441) scale(43.2,32.3)" fill="#78b450" stroke="#356e26"/><use href="#lf2" transform="translate(1017.2,332.8) rotate(441) scale(43.2,32.3)" fill="url(#shG)" stroke="none"/><use href="#vn" transform="translate(1017.2,332.8) rotate(441) scale(43.2,32.3)" stroke="#b4dc94"/><use href="#lf2" transform="translate(1013.0,332.7) rotate(471) scale(38.0,29.4)" fill="#60a23e" stroke="#356e26"/><use href="#lf2" transform="translate(1013.0,332.7) rotate(471) scale(38.0,29.4)" fill="url(#shG)" stroke="none"/><use href="#vn" transform="translate(1013.0,332.7) rotate(471) scale(38.0,29.4)" stroke="#b4dc94"/><use href="#lf2" transform="translate(1016.0,325.0) rotate(129) scale(15.6,11.3)" fill="#4e9234" stroke="#356e26"/><use href="#lf2" transform="translate(1016.0,325.0) rotate(129) scale(15.6,11.3)" fill="url(#shG)" stroke="none"/><use href="#vn" transform="translate(1016.0,325.0) rotate(129) scale(15.6,11.3)" stroke="#b4dc94"/><use href="#lf2" transform="translate(1016.0,325.0) rotate(46) scale(15.6,11.2)" fill="#68aa44" stroke="#356e26"/><use href="#lf2" transform="translate(1016.0,325.0) rotate(46) scale(15.6,11.2)" fill="url(#shG)" stroke="none"/><use href="#vn" transform="translate(1016.0,325.0) rotate(46) scale(15.6,11.2)" stroke="#b4dc94"/><use href="#lf2" transform="translate(1006.0,132.0) rotate(200) scale(34.0,24.0)" fill="#c4d06a" stroke="#8a9a40"/><use href="#lf2" transform="translate(1006.0,132.0) rotate(200) scale(34.0,24.0)" fill="url(#shG)" stroke="none"/><use href="#vn" transform="translate(1006.0,132.0) rotate(200) scale(34.0,24.0)" stroke="#e0e8a0"/><ellipse cx="1102" cy="134" rx="24" ry="25" fill="#7e4a36"/><circle cx="1102" cy="128" r="25" fill="#4a3228"/><circle cx="1102" cy="128" r="23" fill="#1e1a17"/><path transform="translate(1104.4,128.4) rotate(232) scale(21.8)" d="M0.05,0 Q0.5,-0.17 0.92,-0.42 Q1.05,-0.12 1.0,0 Q1.05,0.12 0.92,0.42 Q0.5,0.17 0.05,0Z" fill="#a48e7a" stroke="#5e4632" stroke-width="0.035"/><path transform="translate(1104.4,128.4) rotate(232) scale(21.8)" d="M0.05,0 Q0.5,-0.17 0.92,-0.42 Q1.05,-0.12 1.0,0 Z" fill="#7a6248" opacity="0.45"/><path transform="translate(1104.4,128.4) rotate(232) scale(21.8)" d="M0.1,0 L0.95,0" stroke="#8a7050" stroke-width="0.04" opacity="0.7"/><path transform="translate(1099.8,126.5) rotate(275) scale(21.4)" d="M0.05,0 Q0.5,-0.15 0.92,-0.39 Q1.05,-0.12 1.0,0 Q1.05,0.12 0.92,0.39 Q0.5,0.15 0.05,0Z" fill="#b4a08a" stroke="#5e4632" stroke-width="0.035"/><path transform="translate(1099.8,126.5) rotate(275) scale(21.4)" d="M0.05,0 Q0.5,-0.15 0.92,-0.39 Q1.05,-0.12 1.0,0 Z" fill="#7a6248" opacity="0.45"/><path transform="translate(1099.8,126.5) rotate(275) scale(21.4)" d="M0.1,0 L0.95,0" stroke="#8a7050" stroke-width="0.04" opacity="0.7"/><path transform="translate(1104.5,125.3) rotate(373) scale(22.5)" d="M0.05,0 Q0.5,-0.18 0.92,-0.46 Q1.05,-0.14 1.0,0 Q1.05,0.14 0.92,0.46 Q0.5,0.18 0.05,0Z" fill="#b4a08a" stroke="#5e4632" stroke-width="0.035"/><path transform="translate(1104.5,125.3) rotate(373) scale(22.5)" d="M0.05,0 Q0.5,-0.18 0.92,-0.46 Q1.05,-0.14 1.0,0 Z" fill="#7a6248" opacity="0.45"/><path transform="translate(1104.5,125.3) rotate(373) scale(22.5)" d="M0.1,0 L0.95,0" stroke="#8a7050" stroke-width="0.04" opacity="0.7"/><path transform="translate(1104.7,126.6) rotate(424) scale(24.5)" d="M0.05,0 Q0.5,-0.17 0.92,-0.42 Q1.05,-0.13 1.0,0 Q1.05,0.13 0.92,0.42 Q0.5,0.17 0.05,0Z" fill="#c0ac96" stroke="#5e4632" stroke-width="0.035"/><path transform="translate(1104.7,126.6) rotate(424) scale(24.5)" d="M0.05,0 Q0.5,-0.17 0.92,-0.42 Q1.05,-0.13 1.0,0 Z" fill="#7a6248" opacity="0.45"/><path transform="translate(1104.7,126.6) rotate(424) scale(24.5)" d="M0.1,0 L0.95,0" stroke="#8a7050" stroke-width="0.04" opacity="0.7"/><path transform="translate(1100.2,129.9) rotate(486) scale(24.0)" d="M0.05,0 Q0.5,-0.13 0.92,-0.34 Q1.05,-0.10 1.0,0 Q1.05,0.10 0.92,0.34 Q0.5,0.13 0.05,0Z" fill="#c0ac96" stroke="#5e4632" stroke-width="0.035"/><path transform="translate(1100.2,129.9) rotate(486) scale(24.0)" d="M0.05,0 Q0.5,-0.13 0.92,-0.34 Q1.05,-0.10 1.0,0 Z" fill="#7a6248" opacity="0.45"/><path transform="translate(1100.2,129.9) rotate(486) scale(24.0)" d="M0.1,0 L0.95,0" stroke="#8a7050" stroke-width="0.04" opacity="0.7"/><use href="#lf" transform="translate(1102.0,128.0) rotate(200) scale(26.0,16.1)" fill="#62a844" stroke="#3a7a2a"/><use href="#vn" transform="translate(1102.0,128.0) rotate(200) scale(26.0,16.1)" stroke="#b8e098"/><use href="#lf" transform="translate(1102.0,128.0) rotate(130) scale(16.0,9.9)" fill="#78b852" stroke="#3a7a2a"/><use href="#vn" transform="translate(1102.0,128.0) rotate(130) scale(16.0,9.9)" stroke="#b8e098"/><use href="#lf" transform="translate(1102.0,128.0) rotate(330) scale(14.0,8.7)" fill="#62a844" stroke="#3a7a2a"/><use href="#vn" transform="translate(1102.0,128.0) rotate(330) scale(14.0,8.7)" stroke="#b8e098"/><ellipse cx="1160" cy="134" rx="24" ry="25" fill="#7e4a36"/><circle cx="1160" cy="128" r="25" fill="#4a3228"/><circle cx="1160" cy="128" r="23" fill="#1e1a17"/><path transform="translate(1160.7,125.7) rotate(145) scale(22.9)" d="M0.05,0 Q0.5,-0.20 0.92,-0.49 Q1.05,-0.15 1.0,0 Q1.05,0.15 0.92,0.49 Q0.5,0.20 0.05,0Z" fill="#a48e7a" stroke="#5e4632" stroke-width="0.035"/><path transform="translate(1160.7,125.7) rotate(145) scale(22.9)" d="M0.05,0 Q0.5,-0.20 0.92,-0.49 Q1.05,-0.15 1.0,0 Z" fill="#7a6248" opacity="0.45"/><path transform="translate(1160.7,125.7) rotate(145) scale(22.9)" d="M0.1,0 L0.95,0" stroke="#8a7050" stroke-width="0.04" opacity="0.7"/><path transform="translate(1163.0,129.3) rotate(216) scale(19.3)" d="M0.05,0 Q0.5,-0.19 0.92,-0.47 Q1.05,-0.14 1.0,0 Q1.05,0.14 0.92,0.47 Q0.5,0.19 0.05,0Z" fill="#c0ac96" stroke="#5e4632" stroke-width="0.035"/><path transform="translate(1163.0,129.3) rotate(216) scale(19.3)" d="M0.05,0 Q0.5,-0.19 0.92,-0.47 Q1.05,-0.14 1.0,0 Z" fill="#7a6248" opacity="0.45"/><path transform="translate(1163.0,129.3) rotate(216) scale(19.3)" d="M0.1,0 L0.95,0" stroke="#8a7050" stroke-width="0.04" opacity="0.7"/><path transform="translate(1158.7,128.3) rotate(271) scale(23.0)" d="M0.05,0 Q0.5,-0.18 0.92,-0.45 Q1.05,-0.14 1.0,0 Q1.05,0.14 0.92,0.45 Q0.5,0.18 0.05,0Z" fill="#c0ac96" stroke="#5e4632" stroke-width="0.035"/><path transform="translate(1158.7,128.3) rotate(271) scale(23.0)" d="M0.05,0 Q0.5,-0.18 0.92,-0.45 Q1.05,-0.14 1.0,0 Z" fill="#7a6248" opacity="0.45"/><path transform="translate(1158.7,128.3) rotate(271) scale(23.0)" d="M0.1,0 L0.95,0" stroke="#8a7050" stroke-width="0.04" opacity="0.7"/><path transform="translate(1159.7,130.7) rotate(376) scale(19.9)" d="M0.05,0 Q0.5,-0.18 0.92,-0.45 Q1.05,-0.14 1.0,0 Q1.05,0.14 0.92,0.45 Q0.5,0.18 0.05,0Z" fill="#b4a08a" stroke="#5e4632" stroke-width="0.035"/><path transform="translate(1159.7,130.7) rotate(376) scale(19.9)" d="M0.05,0 Q0.5,-0.18 0.92,-0.45 Q1.05,-0.14 1.0,0 Z" fill="#7a6248" opacity="0.45"/><path transform="translate(1159.7,130.7) rotate(376) scale(19.9)" d="M0.1,0 L0.95,0" stroke="#8a7050" stroke-width="0.04" opacity="0.7"/><path transform="translate(1158.2,127.1) rotate(445) scale(18.9)" d="M0.05,0 Q0.5,-0.16 0.92,-0.40 Q1.05,-0.12 1.0,0 Q1.05,0.12 0.92,0.40 Q0.5,0.16 0.05,0Z" fill="#ac9882" stroke="#5e4632" stroke-width="0.035"/><path transform="translate(1158.2,127.1) rotate(445) scale(18.9)" d="M0.05,0 Q0.5,-0.16 0.92,-0.40 Q1.05,-0.12 1.0,0 Z" fill="#7a6248" opacity="0.45"/><path transform="translate(1158.2,127.1) rotate(445) scale(18.9)" d="M0.1,0 L0.95,0" stroke="#8a7050" stroke-width="0.04" opacity="0.7"/><use href="#lf" transform="translate(1160.0,128.0) rotate(250) scale(26.0,16.1)" fill="#62a844" stroke="#3a7a2a"/><use href="#vn" transform="translate(1160.0,128.0) rotate(250) scale(26.0,16.1)" stroke="#b8e098"/><use href="#lf" transform="translate(1160.0,128.0) rotate(80) scale(16.0,9.9)" fill="#5a9e40" stroke="#3a7a2a"/><use href="#vn" transform="translate(1160.0,128.0) rotate(80) scale(16.0,9.9)" stroke="#b8e098"/><use href="#lf" transform="translate(1160.0,128.0) rotate(20) scale(30.0,18.6)" fill="#62a844" stroke="#3a7a2a"/><use href="#vn" transform="translate(1160.0,128.0) rotate(20) scale(30.0,18.6)" stroke="#b8e098"/><ellipse cx="1221" cy="127" rx="24" ry="25" fill="#7e4a36"/><circle cx="1221" cy="121" r="25" fill="#4a3228"/><circle cx="1221" cy="121" r="23" fill="#1e1a17"/><path transform="translate(1222.9,120.3) rotate(361) scale(21.2)" d="M0.05,0 Q0.5,-0.20 0.92,-0.49 Q1.05,-0.15 1.0,0 Q1.05,0.15 0.92,0.49 Q0.5,0.20 0.05,0Z" fill="#a48e7a" stroke="#5e4632" stroke-width="0.035"/><path transform="translate(1222.9,120.3) rotate(361) scale(21.2)" d="M0.05,0 Q0.5,-0.20 0.92,-0.49 Q1.05,-0.15 1.0,0 Z" fill="#7a6248" opacity="0.45"/><path transform="translate(1222.9,120.3) rotate(361) scale(21.2)" d="M0.1,0 L0.95,0" stroke="#8a7050" stroke-width="0.04" opacity="0.7"/><path transform="translate(1223.8,118.7) rotate(408) scale(23.7)" d="M0.05,0 Q0.5,-0.15 0.92,-0.38 Q1.05,-0.11 1.0,0 Q1.05,0.11 0.92,0.38 Q0.5,0.15 0.05,0Z" fill="#ac9882" stroke="#5e4632" stroke-width="0.035"/><path transform="translate(1223.8,118.7) rotate(408) scale(23.7)" d="M0.05,0 Q0.5,-0.15 0.92,-0.38 Q1.05,-0.11 1.0,0 Z" fill="#7a6248" opacity="0.45"/><path transform="translate(1223.8,118.7) rotate(408) scale(23.7)" d="M0.1,0 L0.95,0" stroke="#8a7050" stroke-width="0.04" opacity="0.7"/><path transform="translate(1223.9,122.1) rotate(451) scale(19.9)" d="M0.05,0 Q0.5,-0.14 0.92,-0.34 Q1.05,-0.10 1.0,0 Q1.05,0.10 0.92,0.34 Q0.5,0.14 0.05,0Z" fill="#ac9882" stroke="#5e4632" stroke-width="0.035"/><path transform="translate(1223.9,122.1) rotate(451) scale(19.9)" d="M0.05,0 Q0.5,-0.14 0.92,-0.34 Q1.05,-0.10 1.0,0 Z" fill="#7a6248" opacity="0.45"/><path transform="translate(1223.9,122.1) rotate(451) scale(19.9)" d="M0.1,0 L0.95,0" stroke="#8a7050" stroke-width="0.04" opacity="0.7"/><path transform="translate(1223.1,120.8) rotate(512) scale(20.9)" d="M0.05,0 Q0.5,-0.18 0.92,-0.46 Q1.05,-0.14 1.0,0 Q1.05,0.14 0.92,0.46 Q0.5,0.18 0.05,0Z" fill="#ac9882" stroke="#5e4632" stroke-width="0.035"/><path transform="translate(1223.1,120.8) rotate(512) scale(20.9)" d="M0.05,0 Q0.5,-0.18 0.92,-0.46 Q1.05,-0.14 1.0,0 Z" fill="#7a6248" opacity="0.45"/><path transform="translate(1223.1,120.8) rotate(512) scale(20.9)" d="M0.1,0 L0.95,0" stroke="#8a7050" stroke-width="0.04" opacity="0.7"/><path transform="translate(1221.9,122.4) rotate(595) scale(24.1)" d="M0.05,0 Q0.5,-0.16 0.92,-0.39 Q1.05,-0.12 1.0,0 Q1.05,0.12 0.92,0.39 Q0.5,0.16 0.05,0Z" fill="#b4a08a" stroke="#5e4632" stroke-width="0.035"/><path transform="translate(1221.9,122.4) rotate(595) scale(24.1)" d="M0.05,0 Q0.5,-0.16 0.92,-0.39 Q1.05,-0.12 1.0,0 Z" fill="#7a6248" opacity="0.45"/><path transform="translate(1221.9,122.4) rotate(595) scale(24.1)" d="M0.1,0 L0.95,0" stroke="#8a7050" stroke-width="0.04" opacity="0.7"/><path transform="translate(1222.6,123.1) rotate(632) scale(20.5)" d="M0.05,0 Q0.5,-0.16 0.92,-0.39 Q1.05,-0.12 1.0,0 Q1.05,0.12 0.92,0.39 Q0.5,0.16 0.05,0Z" fill="#ac9882" stroke="#5e4632" stroke-width="0.035"/><path transform="translate(1222.6,123.1) rotate(632) scale(20.5)" d="M0.05,0 Q0.5,-0.16 0.92,-0.39 Q1.05,-0.12 1.0,0 Z" fill="#7a6248" opacity="0.45"/><path transform="translate(1222.6,123.1) rotate(632) scale(20.5)" d="M0.1,0 L0.95,0" stroke="#8a7050" stroke-width="0.04" opacity="0.7"/><use href="#lf" transform="translate(1221.0,121.0) rotate(210) scale(20.0,12.4)" fill="#8cc45e" stroke="#3a7a2a"/><use href="#vn" transform="translate(1221.0,121.0) rotate(210) scale(20.0,12.4)" stroke="#b8e098"/><use href="#lf" transform="translate(1221.0,121.0) rotate(60) scale(24.0,14.9)" fill="#78b852" stroke="#3a7a2a"/><use href="#vn" transform="translate(1221.0,121.0) rotate(60) scale(24.0,14.9)" stroke="#b8e098"/><use href="#lf" transform="translate(1221.0,121.0) rotate(120) scale(16.0,9.9)" fill="#78b852" stroke="#3a7a2a"/><use href="#vn" transform="translate(1221.0,121.0) rotate(120) scale(16.0,9.9)" stroke="#b8e098"/><ellipse cx="1099" cy="199" rx="24" ry="25" fill="#7e4a36"/><circle cx="1099" cy="193" r="25" fill="#4a3228"/><circle cx="1099" cy="193" r="23" fill="#1e1a17"/><path transform="translate(1097.6,193.1) rotate(0) scale(25.3)" d="M0.05,0 Q0.5,-0.20 0.92,-0.49 Q1.05,-0.15 1.0,0 Q1.05,0.15 0.92,0.49 Q0.5,0.20 0.05,0Z" fill="#92806c" stroke="#5e4632" stroke-width="0.035"/><path transform="translate(1097.6,193.1) rotate(0) scale(25.3)" d="M0.05,0 Q0.5,-0.20 0.92,-0.49 Q1.05,-0.15 1.0,0 Z" fill="#7a6248" opacity="0.45"/><path transform="translate(1097.6,193.1) rotate(0) scale(25.3)" d="M0.1,0 L0.95,0" stroke="#8a7050" stroke-width="0.04" opacity="0.7"/><path transform="translate(1096.5,193.2) rotate(59) scale(21.7)" d="M0.05,0 Q0.5,-0.17 0.92,-0.42 Q1.05,-0.13 1.0,0 Q1.05,0.13 0.92,0.42 Q0.5,0.17 0.05,0Z" fill="#b4a08a" stroke="#5e4632" stroke-width="0.035"/><path transform="translate(1096.5,193.2) rotate(59) scale(21.7)" d="M0.05,0 Q0.5,-0.17 0.92,-0.42 Q1.05,-0.13 1.0,0 Z" fill="#7a6248" opacity="0.45"/><path transform="translate(1096.5,193.2) rotate(59) scale(21.7)" d="M0.1,0 L0.95,0" stroke="#8a7050" stroke-width="0.04" opacity="0.7"/><path transform="translate(1099.0,195.5) rotate(135) scale(19.2)" d="M0.05,0 Q0.5,-0.16 0.92,-0.39 Q1.05,-0.12 1.0,0 Q1.05,0.12 0.92,0.39 Q0.5,0.16 0.05,0Z" fill="#ac9882" stroke="#5e4632" stroke-width="0.035"/><path transform="translate(1099.0,195.5) rotate(135) scale(19.2)" d="M0.05,0 Q0.5,-0.16 0.92,-0.39 Q1.05,-0.12 1.0,0 Z" fill="#7a6248" opacity="0.45"/><path transform="translate(1099.0,195.5) rotate(135) scale(19.2)" d="M0.1,0 L0.95,0" stroke="#8a7050" stroke-width="0.04" opacity="0.7"/><path transform="translate(1097.4,192.0) rotate(198) scale(20.3)" d="M0.05,0 Q0.5,-0.20 0.92,-0.49 Q1.05,-0.15 1.0,0 Q1.05,0.15 0.92,0.49 Q0.5,0.20 0.05,0Z" fill="#a48e7a" stroke="#5e4632" stroke-width="0.035"/><path transform="translate(1097.4,192.0) rotate(198) scale(20.3)" d="M0.05,0 Q0.5,-0.20 0.92,-0.49 Q1.05,-0.15 1.0,0 Z" fill="#7a6248" opacity="0.45"/><path transform="translate(1097.4,192.0) rotate(198) scale(20.3)" d="M0.1,0 L0.95,0" stroke="#8a7050" stroke-width="0.04" opacity="0.7"/><path transform="translate(1097.5,194.3) rotate(241) scale(20.4)" d="M0.05,0 Q0.5,-0.14 0.92,-0.34 Q1.05,-0.10 1.0,0 Q1.05,0.10 0.92,0.34 Q0.5,0.14 0.05,0Z" fill="#ac9882" stroke="#5e4632" stroke-width="0.035"/><path transform="translate(1097.5,194.3) rotate(241) scale(20.4)" d="M0.05,0 Q0.5,-0.14 0.92,-0.34 Q1.05,-0.10 1.0,0 Z" fill="#7a6248" opacity="0.45"/><path transform="translate(1097.5,194.3) rotate(241) scale(20.4)" d="M0.1,0 L0.95,0" stroke="#8a7050" stroke-width="0.04" opacity="0.7"/><path transform="translate(1101.9,194.4) rotate(317) scale(20.1)" d="M0.05,0 Q0.5,-0.20 0.92,-0.49 Q1.05,-0.15 1.0,0 Q1.05,0.15 0.92,0.49 Q0.5,0.20 0.05,0Z" fill="#b4a08a" stroke="#5e4632" stroke-width="0.035"/><path transform="translate(1101.9,194.4) rotate(317) scale(20.1)" d="M0.05,0 Q0.5,-0.20 0.92,-0.49 Q1.05,-0.15 1.0,0 Z" fill="#7a6248" opacity="0.45"/><path transform="translate(1101.9,194.4) rotate(317) scale(20.1)" d="M0.1,0 L0.95,0" stroke="#8a7050" stroke-width="0.04" opacity="0.7"/><use href="#lf" transform="translate(1099.0,193.0) rotate(180) scale(28.0,17.4)" fill="#5a9e40" stroke="#3a7a2a"/><use href="#vn" transform="translate(1099.0,193.0) rotate(180) scale(28.0,17.4)" stroke="#b8e098"/><use href="#lf" transform="translate(1099.0,193.0) rotate(300) scale(20.0,12.4)" fill="#5a9e40" stroke="#3a7a2a"/><use href="#vn" transform="translate(1099.0,193.0) rotate(300) scale(20.0,12.4)" stroke="#b8e098"/><use href="#lf" transform="translate(1099.0,193.0) rotate(30) scale(14.0,8.7)" fill="#78b852" stroke="#3a7a2a"/><use href="#vn" transform="translate(1099.0,193.0) rotate(30) scale(14.0,8.7)" stroke="#b8e098"/><ellipse cx="1159" cy="200" rx="24" ry="25" fill="#7e4a36"/><circle cx="1159" cy="194" r="25" fill="#4a3228"/><circle cx="1159" cy="194" r="23" fill="#1e1a17"/><path transform="translate(1160.8,195.3) rotate(48) scale(24.9)" d="M0.05,0 Q0.5,-0.13 0.92,-0.33 Q1.05,-0.10 1.0,0 Q1.05,0.10 0.92,0.33 Q0.5,0.13 0.05,0Z" fill="#a48e7a" stroke="#5e4632" stroke-width="0.035"/><path transform="translate(1160.8,195.3) rotate(48) scale(24.9)" d="M0.05,0 Q0.5,-0.13 0.92,-0.33 Q1.05,-0.10 1.0,0 Z" fill="#7a6248" opacity="0.45"/><path transform="translate(1160.8,195.3) rotate(48) scale(24.9)" d="M0.1,0 L0.95,0" stroke="#8a7050" stroke-width="0.04" opacity="0.7"/><path transform="translate(1156.3,192.7) rotate(123) scale(20.0)" d="M0.05,0 Q0.5,-0.18 0.92,-0.46 Q1.05,-0.14 1.0,0 Q1.05,0.14 0.92,0.46 Q0.5,0.18 0.05,0Z" fill="#b4a08a" stroke="#5e4632" stroke-width="0.035"/><path transform="translate(1156.3,192.7) rotate(123) scale(20.0)" d="M0.05,0 Q0.5,-0.18 0.92,-0.46 Q1.05,-0.14 1.0,0 Z" fill="#7a6248" opacity="0.45"/><path transform="translate(1156.3,192.7) rotate(123) scale(20.0)" d="M0.1,0 L0.95,0" stroke="#8a7050" stroke-width="0.04" opacity="0.7"/><path transform="translate(1158.7,193.2) rotate(185) scale(19.4)" d="M0.05,0 Q0.5,-0.20 0.92,-0.49 Q1.05,-0.15 1.0,0 Q1.05,0.15 0.92,0.49 Q0.5,0.20 0.05,0Z" fill="#ac9882" stroke="#5e4632" stroke-width="0.035"/><path transform="translate(1158.7,193.2) rotate(185) scale(19.4)" d="M0.05,0 Q0.5,-0.20 0.92,-0.49 Q1.05,-0.15 1.0,0 Z" fill="#7a6248" opacity="0.45"/><path transform="translate(1158.7,193.2) rotate(185) scale(19.4)" d="M0.1,0 L0.95,0" stroke="#8a7050" stroke-width="0.04" opacity="0.7"/><path transform="translate(1158.8,191.6) rotate(280) scale(20.5)" d="M0.05,0 Q0.5,-0.18 0.92,-0.46 Q1.05,-0.14 1.0,0 Q1.05,0.14 0.92,0.46 Q0.5,0.18 0.05,0Z" fill="#c0ac96" stroke="#5e4632" stroke-width="0.035"/><path transform="translate(1158.8,191.6) rotate(280) scale(20.5)" d="M0.05,0 Q0.5,-0.18 0.92,-0.46 Q1.05,-0.14 1.0,0 Z" fill="#7a6248" opacity="0.45"/><path transform="translate(1158.8,191.6) rotate(280) scale(20.5)" d="M0.1,0 L0.95,0" stroke="#8a7050" stroke-width="0.04" opacity="0.7"/><path transform="translate(1158.7,195.1) rotate(340) scale(22.0)" d="M0.05,0 Q0.5,-0.18 0.92,-0.44 Q1.05,-0.13 1.0,0 Q1.05,0.13 0.92,0.44 Q0.5,0.18 0.05,0Z" fill="#c0ac96" stroke="#5e4632" stroke-width="0.035"/><path transform="translate(1158.7,195.1) rotate(340) scale(22.0)" d="M0.05,0 Q0.5,-0.18 0.92,-0.44 Q1.05,-0.13 1.0,0 Z" fill="#7a6248" opacity="0.45"/><path transform="translate(1158.7,195.1) rotate(340) scale(22.0)" d="M0.1,0 L0.95,0" stroke="#8a7050" stroke-width="0.04" opacity="0.7"/><use href="#lf" transform="translate(1159.0,194.0) rotate(270) scale(30.0,18.6)" fill="#78b852" stroke="#3a7a2a"/><use href="#vn" transform="translate(1159.0,194.0) rotate(270) scale(30.0,18.6)" stroke="#b8e098"/><use href="#lf" transform="translate(1159.0,194.0) rotate(90) scale(16.0,9.9)" fill="#5a9e40" stroke="#3a7a2a"/><use href="#vn" transform="translate(1159.0,194.0) rotate(90) scale(16.0,9.9)" stroke="#b8e098"/><use href="#lf" transform="translate(1159.0,194.0) rotate(60) scale(14.0,8.7)" fill="#78b852" stroke="#3a7a2a"/><use href="#vn" transform="translate(1159.0,194.0) rotate(60) scale(14.0,8.7)" stroke="#b8e098"/><ellipse cx="1217" cy="190" rx="24" ry="25" fill="#7e4a36"/><circle cx="1217" cy="184" r="25" fill="#4a3228"/><circle cx="1217" cy="184" r="23" fill="#1e1a17"/><path transform="translate(1218.3,185.5) rotate(62) scale(23.0)" d="M0.05,0 Q0.5,-0.17 0.92,-0.41 Q1.05,-0.12 1.0,0 Q1.05,0.12 0.92,0.41 Q0.5,0.17 0.05,0Z" fill="#a48e7a" stroke="#5e4632" stroke-width="0.035"/><path transform="translate(1218.3,185.5) rotate(62) scale(23.0)" d="M0.05,0 Q0.5,-0.17 0.92,-0.41 Q1.05,-0.12 1.0,0 Z" fill="#7a6248" opacity="0.45"/><path transform="translate(1218.3,185.5) rotate(62) scale(23.0)" d="M0.1,0 L0.95,0" stroke="#8a7050" stroke-width="0.04" opacity="0.7"/><path transform="translate(1218.2,185.9) rotate(114) scale(22.3)" d="M0.05,0 Q0.5,-0.18 0.92,-0.44 Q1.05,-0.13 1.0,0 Q1.05,0.13 0.92,0.44 Q0.5,0.18 0.05,0Z" fill="#92806c" stroke="#5e4632" stroke-width="0.035"/><path transform="translate(1218.2,185.9) rotate(114) scale(22.3)" d="M0.05,0 Q0.5,-0.18 0.92,-0.44 Q1.05,-0.13 1.0,0 Z" fill="#7a6248" opacity="0.45"/><path transform="translate(1218.2,185.9) rotate(114) scale(22.3)" d="M0.1,0 L0.95,0" stroke="#8a7050" stroke-width="0.04" opacity="0.7"/><path transform="translate(1219.5,182.6) rotate(203) scale(21.8)" d="M0.05,0 Q0.5,-0.15 0.92,-0.37 Q1.05,-0.11 1.0,0 Q1.05,0.11 0.92,0.37 Q0.5,0.15 0.05,0Z" fill="#a48e7a" stroke="#5e4632" stroke-width="0.035"/><path transform="translate(1219.5,182.6) rotate(203) scale(21.8)" d="M0.05,0 Q0.5,-0.15 0.92,-0.37 Q1.05,-0.11 1.0,0 Z" fill="#7a6248" opacity="0.45"/><path transform="translate(1219.5,182.6) rotate(203) scale(21.8)" d="M0.1,0 L0.95,0" stroke="#8a7050" stroke-width="0.04" opacity="0.7"/><path transform="translate(1214.2,183.9) rotate(263) scale(22.3)" d="M0.05,0 Q0.5,-0.19 0.92,-0.48 Q1.05,-0.14 1.0,0 Q1.05,0.14 0.92,0.48 Q0.5,0.19 0.05,0Z" fill="#c0ac96" stroke="#5e4632" stroke-width="0.035"/><path transform="translate(1214.2,183.9) rotate(263) scale(22.3)" d="M0.05,0 Q0.5,-0.19 0.92,-0.48 Q1.05,-0.14 1.0,0 Z" fill="#7a6248" opacity="0.45"/><path transform="translate(1214.2,183.9) rotate(263) scale(22.3)" d="M0.1,0 L0.95,0" stroke="#8a7050" stroke-width="0.04" opacity="0.7"/><path transform="translate(1217.5,184.9) rotate(320) scale(20.1)" d="M0.05,0 Q0.5,-0.16 0.92,-0.41 Q1.05,-0.12 1.0,0 Q1.05,0.12 0.92,0.41 Q0.5,0.16 0.05,0Z" fill="#b4a08a" stroke="#5e4632" stroke-width="0.035"/><path transform="translate(1217.5,184.9) rotate(320) scale(20.1)" d="M0.05,0 Q0.5,-0.16 0.92,-0.41 Q1.05,-0.12 1.0,0 Z" fill="#7a6248" opacity="0.45"/><path transform="translate(1217.5,184.9) rotate(320) scale(20.1)" d="M0.1,0 L0.95,0" stroke="#8a7050" stroke-width="0.04" opacity="0.7"/><path transform="translate(1218.3,182.7) rotate(370) scale(19.8)" d="M0.05,0 Q0.5,-0.15 0.92,-0.38 Q1.05,-0.11 1.0,0 Q1.05,0.11 0.92,0.38 Q0.5,0.15 0.05,0Z" fill="#c0ac96" stroke="#5e4632" stroke-width="0.035"/><path transform="translate(1218.3,182.7) rotate(370) scale(19.8)" d="M0.05,0 Q0.5,-0.15 0.92,-0.38 Q1.05,-0.11 1.0,0 Z" fill="#7a6248" opacity="0.45"/><path transform="translate(1218.3,182.7) rotate(370) scale(19.8)" d="M0.1,0 L0.95,0" stroke="#8a7050" stroke-width="0.04" opacity="0.7"/><use href="#lf" transform="translate(1217.0,184.0) rotate(250) scale(24.0,14.9)" fill="#62a844" stroke="#3a7a2a"/><use href="#vn" transform="translate(1217.0,184.0) rotate(250) scale(24.0,14.9)" stroke="#b8e098"/><use href="#lf" transform="translate(1217.0,184.0) rotate(300) scale(28.0,17.4)" fill="#78b852" stroke="#3a7a2a"/><use href="#vn" transform="translate(1217.0,184.0) rotate(300) scale(28.0,17.4)" stroke="#b8e098"/><use href="#lf" transform="translate(1217.0,184.0) rotate(60) scale(18.0,11.2)" fill="#78b852" stroke="#3a7a2a"/><use href="#vn" transform="translate(1217.0,184.0) rotate(60) scale(18.0,11.2)" stroke="#b8e098"/><ellipse cx="1100" cy="261" rx="24" ry="25" fill="#7e4a36"/><circle cx="1100" cy="255" r="25" fill="#4a3228"/><circle cx="1100" cy="255" r="23" fill="#1e1a17"/><path transform="translate(1099.5,256.8) rotate(165) scale(20.3)" d="M0.05,0 Q0.5,-0.17 0.92,-0.43 Q1.05,-0.13 1.0,0 Q1.05,0.13 0.92,0.43 Q0.5,0.17 0.05,0Z" fill="#ac9882" stroke="#5e4632" stroke-width="0.035"/><path transform="translate(1099.5,256.8) rotate(165) scale(20.3)" d="M0.05,0 Q0.5,-0.17 0.92,-0.43 Q1.05,-0.13 1.0,0 Z" fill="#7a6248" opacity="0.45"/><path transform="translate(1099.5,256.8) rotate(165) scale(20.3)" d="M0.1,0 L0.95,0" stroke="#8a7050" stroke-width="0.04" opacity="0.7"/><path transform="translate(1102.4,252.4) rotate(198) scale(24.9)" d="M0.05,0 Q0.5,-0.13 0.92,-0.33 Q1.05,-0.10 1.0,0 Q1.05,0.10 0.92,0.33 Q0.5,0.13 0.05,0Z" fill="#ac9882" stroke="#5e4632" stroke-width="0.035"/><path transform="translate(1102.4,252.4) rotate(198) scale(24.9)" d="M0.05,0 Q0.5,-0.13 0.92,-0.33 Q1.05,-0.10 1.0,0 Z" fill="#7a6248" opacity="0.45"/><path transform="translate(1102.4,252.4) rotate(198) scale(24.9)" d="M0.1,0 L0.95,0" stroke="#8a7050" stroke-width="0.04" opacity="0.7"/><path transform="translate(1098.7,253.2) rotate(280) scale(22.0)" d="M0.05,0 Q0.5,-0.15 0.92,-0.37 Q1.05,-0.11 1.0,0 Q1.05,0.11 0.92,0.37 Q0.5,0.15 0.05,0Z" fill="#92806c" stroke="#5e4632" stroke-width="0.035"/><path transform="translate(1098.7,253.2) rotate(280) scale(22.0)" d="M0.05,0 Q0.5,-0.15 0.92,-0.37 Q1.05,-0.11 1.0,0 Z" fill="#7a6248" opacity="0.45"/><path transform="translate(1098.7,253.2) rotate(280) scale(22.0)" d="M0.1,0 L0.95,0" stroke="#8a7050" stroke-width="0.04" opacity="0.7"/><path transform="translate(1100.7,256.9) rotate(319) scale(20.2)" d="M0.05,0 Q0.5,-0.17 0.92,-0.43 Q1.05,-0.13 1.0,0 Q1.05,0.13 0.92,0.43 Q0.5,0.17 0.05,0Z" fill="#ac9882" stroke="#5e4632" stroke-width="0.035"/><path transform="translate(1100.7,256.9) rotate(319) scale(20.2)" d="M0.05,0 Q0.5,-0.17 0.92,-0.43 Q1.05,-0.13 1.0,0 Z" fill="#7a6248" opacity="0.45"/><path transform="translate(1100.7,256.9) rotate(319) scale(20.2)" d="M0.1,0 L0.95,0" stroke="#8a7050" stroke-width="0.04" opacity="0.7"/><path transform="translate(1098.3,257.3) rotate(387) scale(20.7)" d="M0.05,0 Q0.5,-0.16 0.92,-0.39 Q1.05,-0.12 1.0,0 Q1.05,0.12 0.92,0.39 Q0.5,0.16 0.05,0Z" fill="#ac9882" stroke="#5e4632" stroke-width="0.035"/><path transform="translate(1098.3,257.3) rotate(387) scale(20.7)" d="M0.05,0 Q0.5,-0.16 0.92,-0.39 Q1.05,-0.12 1.0,0 Z" fill="#7a6248" opacity="0.45"/><path transform="translate(1098.3,257.3) rotate(387) scale(20.7)" d="M0.1,0 L0.95,0" stroke="#8a7050" stroke-width="0.04" opacity="0.7"/><path transform="translate(1098.6,253.7) rotate(448) scale(25.0)" d="M0.05,0 Q0.5,-0.16 0.92,-0.41 Q1.05,-0.12 1.0,0 Q1.05,0.12 0.92,0.41 Q0.5,0.16 0.05,0Z" fill="#ac9882" stroke="#5e4632" stroke-width="0.035"/><path transform="translate(1098.6,253.7) rotate(448) scale(25.0)" d="M0.05,0 Q0.5,-0.16 0.92,-0.41 Q1.05,-0.12 1.0,0 Z" fill="#7a6248" opacity="0.45"/><path transform="translate(1098.6,253.7) rotate(448) scale(25.0)" d="M0.1,0 L0.95,0" stroke="#8a7050" stroke-width="0.04" opacity="0.7"/><use href="#lf" transform="translate(1100.0,255.0) rotate(280) scale(24.0,14.9)" fill="#62a844" stroke="#3a7a2a"/><use href="#vn" transform="translate(1100.0,255.0) rotate(280) scale(24.0,14.9)" stroke="#b8e098"/><use href="#lf" transform="translate(1100.0,255.0) rotate(100) scale(20.0,12.4)" fill="#8cc45e" stroke="#3a7a2a"/><use href="#vn" transform="translate(1100.0,255.0) rotate(100) scale(20.0,12.4)" stroke="#b8e098"/><use href="#lf" transform="translate(1100.0,255.0) rotate(200) scale(16.0,9.9)" fill="#78b852" stroke="#3a7a2a"/><use href="#vn" transform="translate(1100.0,255.0) rotate(200) scale(16.0,9.9)" stroke="#b8e098"/><ellipse cx="1160" cy="261" rx="24" ry="25" fill="#7e4a36"/><circle cx="1160" cy="255" r="25" fill="#4a3228"/><circle cx="1160" cy="255" r="23" fill="#1e1a17"/><path transform="translate(1158.7,256.1) rotate(239) scale(20.4)" d="M0.05,0 Q0.5,-0.16 0.92,-0.41 Q1.05,-0.12 1.0,0 Q1.05,0.12 0.92,0.41 Q0.5,0.16 0.05,0Z" fill="#a48e7a" stroke="#5e4632" stroke-width="0.035"/><path transform="translate(1158.7,256.1) rotate(239) scale(20.4)" d="M0.05,0 Q0.5,-0.16 0.92,-0.41 Q1.05,-0.12 1.0,0 Z" fill="#7a6248" opacity="0.45"/><path transform="translate(1158.7,256.1) rotate(239) scale(20.4)" d="M0.1,0 L0.95,0" stroke="#8a7050" stroke-width="0.04" opacity="0.7"/><path transform="translate(1159.7,253.8) rotate(305) scale(19.1)" d="M0.05,0 Q0.5,-0.18 0.92,-0.44 Q1.05,-0.13 1.0,0 Q1.05,0.13 0.92,0.44 Q0.5,0.18 0.05,0Z" fill="#92806c" stroke="#5e4632" stroke-width="0.035"/><path transform="translate(1159.7,253.8) rotate(305) scale(19.1)" d="M0.05,0 Q0.5,-0.18 0.92,-0.44 Q1.05,-0.13 1.0,0 Z" fill="#7a6248" opacity="0.45"/><path transform="translate(1159.7,253.8) rotate(305) scale(19.1)" d="M0.1,0 L0.95,0" stroke="#8a7050" stroke-width="0.04" opacity="0.7"/><path transform="translate(1157.3,254.0) rotate(388) scale(23.3)" d="M0.05,0 Q0.5,-0.19 0.92,-0.48 Q1.05,-0.14 1.0,0 Q1.05,0.14 0.92,0.48 Q0.5,0.19 0.05,0Z" fill="#a48e7a" stroke="#5e4632" stroke-width="0.035"/><path transform="translate(1157.3,254.0) rotate(388) scale(23.3)" d="M0.05,0 Q0.5,-0.19 0.92,-0.48 Q1.05,-0.14 1.0,0 Z" fill="#7a6248" opacity="0.45"/><path transform="translate(1157.3,254.0) rotate(388) scale(23.3)" d="M0.1,0 L0.95,0" stroke="#8a7050" stroke-width="0.04" opacity="0.7"/><path transform="translate(1157.4,253.0) rotate(448) scale(19.6)" d="M0.05,0 Q0.5,-0.14 0.92,-0.35 Q1.05,-0.10 1.0,0 Q1.05,0.10 0.92,0.35 Q0.5,0.14 0.05,0Z" fill="#92806c" stroke="#5e4632" stroke-width="0.035"/><path transform="translate(1157.4,253.0) rotate(448) scale(19.6)" d="M0.05,0 Q0.5,-0.14 0.92,-0.35 Q1.05,-0.10 1.0,0 Z" fill="#7a6248" opacity="0.45"/><path transform="translate(1157.4,253.0) rotate(448) scale(19.6)" d="M0.1,0 L0.95,0" stroke="#8a7050" stroke-width="0.04" opacity="0.7"/><path transform="translate(1157.1,252.2) rotate(512) scale(24.5)" d="M0.05,0 Q0.5,-0.13 0.92,-0.33 Q1.05,-0.10 1.0,0 Q1.05,0.10 0.92,0.33 Q0.5,0.13 0.05,0Z" fill="#c0ac96" stroke="#5e4632" stroke-width="0.035"/><path transform="translate(1157.1,252.2) rotate(512) scale(24.5)" d="M0.05,0 Q0.5,-0.13 0.92,-0.33 Q1.05,-0.10 1.0,0 Z" fill="#7a6248" opacity="0.45"/><path transform="translate(1157.1,252.2) rotate(512) scale(24.5)" d="M0.1,0 L0.95,0" stroke="#8a7050" stroke-width="0.04" opacity="0.7"/><use href="#lf" transform="translate(1160.0,255.0) rotate(270) scale(30.0,18.6)" fill="#78b852" stroke="#3a7a2a"/><use href="#vn" transform="translate(1160.0,255.0) rotate(270) scale(30.0,18.6)" stroke="#b8e098"/><use href="#lf" transform="translate(1160.0,255.0) rotate(190) scale(36.0,22.3)" fill="#8cc45e" stroke="#3a7a2a"/><use href="#vn" transform="translate(1160.0,255.0) rotate(190) scale(36.0,22.3)" stroke="#b8e098"/><use href="#lf" transform="translate(1160.0,255.0) rotate(60) scale(32.0,19.8)" fill="#78b852" stroke="#3a7a2a"/><use href="#vn" transform="translate(1160.0,255.0) rotate(60) scale(32.0,19.8)" stroke="#b8e098"/><ellipse cx="1220" cy="260" rx="24" ry="25" fill="#7e4a36"/><circle cx="1220" cy="254" r="25" fill="#4a3228"/><circle cx="1220" cy="254" r="23" fill="#1e1a17"/><path transform="translate(1219.6,256.2) rotate(62) scale(23.9)" d="M0.05,0 Q0.5,-0.15 0.92,-0.37 Q1.05,-0.11 1.0,0 Q1.05,0.11 0.92,0.37 Q0.5,0.15 0.05,0Z" fill="#92806c" stroke="#5e4632" stroke-width="0.035"/><path transform="translate(1219.6,256.2) rotate(62) scale(23.9)" d="M0.05,0 Q0.5,-0.15 0.92,-0.37 Q1.05,-0.11 1.0,0 Z" fill="#7a6248" opacity="0.45"/><path transform="translate(1219.6,256.2) rotate(62) scale(23.9)" d="M0.1,0 L0.95,0" stroke="#8a7050" stroke-width="0.04" opacity="0.7"/><path transform="translate(1220.4,251.5) rotate(153) scale(21.4)" d="M0.05,0 Q0.5,-0.14 0.92,-0.35 Q1.05,-0.11 1.0,0 Q1.05,0.11 0.92,0.35 Q0.5,0.14 0.05,0Z" fill="#b4a08a" stroke="#5e4632" stroke-width="0.035"/><path transform="translate(1220.4,251.5) rotate(153) scale(21.4)" d="M0.05,0 Q0.5,-0.14 0.92,-0.35 Q1.05,-0.11 1.0,0 Z" fill="#7a6248" opacity="0.45"/><path transform="translate(1220.4,251.5) rotate(153) scale(21.4)" d="M0.1,0 L0.95,0" stroke="#8a7050" stroke-width="0.04" opacity="0.7"/><path transform="translate(1220.8,251.1) rotate(210) scale(24.4)" d="M0.05,0 Q0.5,-0.18 0.92,-0.44 Q1.05,-0.13 1.0,0 Q1.05,0.13 0.92,0.44 Q0.5,0.18 0.05,0Z" fill="#92806c" stroke="#5e4632" stroke-width="0.035"/><path transform="translate(1220.8,251.1) rotate(210) scale(24.4)" d="M0.05,0 Q0.5,-0.18 0.92,-0.44 Q1.05,-0.13 1.0,0 Z" fill="#7a6248" opacity="0.45"/><path transform="translate(1220.8,251.1) rotate(210) scale(24.4)" d="M0.1,0 L0.95,0" stroke="#8a7050" stroke-width="0.04" opacity="0.7"/><path transform="translate(1220.3,252.5) rotate(280) scale(24.7)" d="M0.05,0 Q0.5,-0.16 0.92,-0.40 Q1.05,-0.12 1.0,0 Q1.05,0.12 0.92,0.40 Q0.5,0.16 0.05,0Z" fill="#92806c" stroke="#5e4632" stroke-width="0.035"/><path transform="translate(1220.3,252.5) rotate(280) scale(24.7)" d="M0.05,0 Q0.5,-0.16 0.92,-0.40 Q1.05,-0.12 1.0,0 Z" fill="#7a6248" opacity="0.45"/><path transform="translate(1220.3,252.5) rotate(280) scale(24.7)" d="M0.1,0 L0.95,0" stroke="#8a7050" stroke-width="0.04" opacity="0.7"/><path transform="translate(1221.1,257.0) rotate(349) scale(21.1)" d="M0.05,0 Q0.5,-0.17 0.92,-0.41 Q1.05,-0.12 1.0,0 Q1.05,0.12 0.92,0.41 Q0.5,0.17 0.05,0Z" fill="#a48e7a" stroke="#5e4632" stroke-width="0.035"/><path transform="translate(1221.1,257.0) rotate(349) scale(21.1)" d="M0.05,0 Q0.5,-0.17 0.92,-0.41 Q1.05,-0.12 1.0,0 Z" fill="#7a6248" opacity="0.45"/><path transform="translate(1221.1,257.0) rotate(349) scale(21.1)" d="M0.1,0 L0.95,0" stroke="#8a7050" stroke-width="0.04" opacity="0.7"/><use href="#lf" transform="translate(1220.0,254.0) rotate(0) scale(32.0,19.8)" fill="#8cc45e" stroke="#3a7a2a"/><use href="#vn" transform="translate(1220.0,254.0) rotate(0) scale(32.0,19.8)" stroke="#b8e098"/><use href="#lf" transform="translate(1220.0,254.0) rotate(110) scale(18.0,11.2)" fill="#78b852" stroke="#3a7a2a"/><use href="#vn" transform="translate(1220.0,254.0) rotate(110) scale(18.0,11.2)" stroke="#b8e098"/><use href="#lf" transform="translate(1220.0,254.0) rotate(270) scale(18.0,11.2)" fill="#5a9e40" stroke="#3a7a2a"/><use href="#vn" transform="translate(1220.0,254.0) rotate(270) scale(18.0,11.2)" stroke="#b8e098"/><ellipse cx="1098" cy="333" rx="24" ry="25" fill="#7e4a36"/><circle cx="1098" cy="327" r="25" fill="#4a3228"/><circle cx="1098" cy="327" r="23" fill="#1e1a17"/><path transform="translate(1096.4,328.5) rotate(10) scale(24.5)" d="M0.05,0 Q0.5,-0.15 0.92,-0.36 Q1.05,-0.11 1.0,0 Q1.05,0.11 0.92,0.36 Q0.5,0.15 0.05,0Z" fill="#92806c" stroke="#5e4632" stroke-width="0.035"/><path transform="translate(1096.4,328.5) rotate(10) scale(24.5)" d="M0.05,0 Q0.5,-0.15 0.92,-0.36 Q1.05,-0.11 1.0,0 Z" fill="#7a6248" opacity="0.45"/><path transform="translate(1096.4,328.5) rotate(10) scale(24.5)" d="M0.1,0 L0.95,0" stroke="#8a7050" stroke-width="0.04" opacity="0.7"/><path transform="translate(1096.6,324.0) rotate(79) scale(24.2)" d="M0.05,0 Q0.5,-0.17 0.92,-0.44 Q1.05,-0.13 1.0,0 Q1.05,0.13 0.92,0.44 Q0.5,0.17 0.05,0Z" fill="#a48e7a" stroke="#5e4632" stroke-width="0.035"/><path transform="translate(1096.6,324.0) rotate(79) scale(24.2)" d="M0.05,0 Q0.5,-0.17 0.92,-0.44 Q1.05,-0.13 1.0,0 Z" fill="#7a6248" opacity="0.45"/><path transform="translate(1096.6,324.0) rotate(79) scale(24.2)" d="M0.1,0 L0.95,0" stroke="#8a7050" stroke-width="0.04" opacity="0.7"/><path transform="translate(1095.1,328.6) rotate(153) scale(23.0)" d="M0.05,0 Q0.5,-0.17 0.92,-0.43 Q1.05,-0.13 1.0,0 Q1.05,0.13 0.92,0.43 Q0.5,0.17 0.05,0Z" fill="#ac9882" stroke="#5e4632" stroke-width="0.035"/><path transform="translate(1095.1,328.6) rotate(153) scale(23.0)" d="M0.05,0 Q0.5,-0.17 0.92,-0.43 Q1.05,-0.13 1.0,0 Z" fill="#7a6248" opacity="0.45"/><path transform="translate(1095.1,328.6) rotate(153) scale(23.0)" d="M0.1,0 L0.95,0" stroke="#8a7050" stroke-width="0.04" opacity="0.7"/><path transform="translate(1096.5,328.8) rotate(248) scale(20.6)" d="M0.05,0 Q0.5,-0.15 0.92,-0.37 Q1.05,-0.11 1.0,0 Q1.05,0.11 0.92,0.37 Q0.5,0.15 0.05,0Z" fill="#ac9882" stroke="#5e4632" stroke-width="0.035"/><path transform="translate(1096.5,328.8) rotate(248) scale(20.6)" d="M0.05,0 Q0.5,-0.15 0.92,-0.37 Q1.05,-0.11 1.0,0 Z" fill="#7a6248" opacity="0.45"/><path transform="translate(1096.5,328.8) rotate(248) scale(20.6)" d="M0.1,0 L0.95,0" stroke="#8a7050" stroke-width="0.04" opacity="0.7"/><path transform="translate(1097.3,328.1) rotate(299) scale(19.3)" d="M0.05,0 Q0.5,-0.18 0.92,-0.46 Q1.05,-0.14 1.0,0 Q1.05,0.14 0.92,0.46 Q0.5,0.18 0.05,0Z" fill="#a48e7a" stroke="#5e4632" stroke-width="0.035"/><path transform="translate(1097.3,328.1) rotate(299) scale(19.3)" d="M0.05,0 Q0.5,-0.18 0.92,-0.46 Q1.05,-0.14 1.0,0 Z" fill="#7a6248" opacity="0.45"/><path transform="translate(1097.3,328.1) rotate(299) scale(19.3)" d="M0.1,0 L0.95,0" stroke="#8a7050" stroke-width="0.04" opacity="0.7"/><use href="#lf" transform="translate(1098.0,327.0) rotate(150) scale(28.0,17.4)" fill="#8cc45e" stroke="#3a7a2a"/><use href="#vn" transform="translate(1098.0,327.0) rotate(150) scale(28.0,17.4)" stroke="#b8e098"/><use href="#lf" transform="translate(1098.0,327.0) rotate(100) scale(32.0,19.8)" fill="#8cc45e" stroke="#3a7a2a"/><use href="#vn" transform="translate(1098.0,327.0) rotate(100) scale(32.0,19.8)" stroke="#b8e098"/><use href="#lf" transform="translate(1098.0,327.0) rotate(20) scale(26.0,16.1)" fill="#78b852" stroke="#3a7a2a"/><use href="#vn" transform="translate(1098.0,327.0) rotate(20) scale(26.0,16.1)" stroke="#b8e098"/><ellipse cx="1160" cy="334" rx="24" ry="25" fill="#7e4a36"/><circle cx="1160" cy="328" r="25" fill="#4a3228"/><circle cx="1160" cy="328" r="23" fill="#1e1a17"/><path transform="translate(1162.4,330.6) rotate(204) scale(19.5)" d="M0.05,0 Q0.5,-0.20 0.92,-0.49 Q1.05,-0.15 1.0,0 Q1.05,0.15 0.92,0.49 Q0.5,0.20 0.05,0Z" fill="#c0ac96" stroke="#5e4632" stroke-width="0.035"/><path transform="translate(1162.4,330.6) rotate(204) scale(19.5)" d="M0.05,0 Q0.5,-0.20 0.92,-0.49 Q1.05,-0.15 1.0,0 Z" fill="#7a6248" opacity="0.45"/><path transform="translate(1162.4,330.6) rotate(204) scale(19.5)" d="M0.1,0 L0.95,0" stroke="#8a7050" stroke-width="0.04" opacity="0.7"/><path transform="translate(1162.1,326.0) rotate(264) scale(21.3)" d="M0.05,0 Q0.5,-0.18 0.92,-0.45 Q1.05,-0.14 1.0,0 Q1.05,0.14 0.92,0.45 Q0.5,0.18 0.05,0Z" fill="#c0ac96" stroke="#5e4632" stroke-width="0.035"/><path transform="translate(1162.1,326.0) rotate(264) scale(21.3)" d="M0.05,0 Q0.5,-0.18 0.92,-0.45 Q1.05,-0.14 1.0,0 Z" fill="#7a6248" opacity="0.45"/><path transform="translate(1162.1,326.0) rotate(264) scale(21.3)" d="M0.1,0 L0.95,0" stroke="#8a7050" stroke-width="0.04" opacity="0.7"/><path transform="translate(1160.5,327.2) rotate(354) scale(20.6)" d="M0.05,0 Q0.5,-0.14 0.92,-0.35 Q1.05,-0.11 1.0,0 Q1.05,0.11 0.92,0.35 Q0.5,0.14 0.05,0Z" fill="#ac9882" stroke="#5e4632" stroke-width="0.035"/><path transform="translate(1160.5,327.2) rotate(354) scale(20.6)" d="M0.05,0 Q0.5,-0.14 0.92,-0.35 Q1.05,-0.11 1.0,0 Z" fill="#7a6248" opacity="0.45"/><path transform="translate(1160.5,327.2) rotate(354) scale(20.6)" d="M0.1,0 L0.95,0" stroke="#8a7050" stroke-width="0.04" opacity="0.7"/><path transform="translate(1158.8,329.1) rotate(431) scale(23.0)" d="M0.05,0 Q0.5,-0.17 0.92,-0.42 Q1.05,-0.13 1.0,0 Q1.05,0.13 0.92,0.42 Q0.5,0.17 0.05,0Z" fill="#c0ac96" stroke="#5e4632" stroke-width="0.035"/><path transform="translate(1158.8,329.1) rotate(431) scale(23.0)" d="M0.05,0 Q0.5,-0.17 0.92,-0.42 Q1.05,-0.13 1.0,0 Z" fill="#7a6248" opacity="0.45"/><path transform="translate(1158.8,329.1) rotate(431) scale(23.0)" d="M0.1,0 L0.95,0" stroke="#8a7050" stroke-width="0.04" opacity="0.7"/><path transform="translate(1158.8,327.4) rotate(498) scale(22.7)" d="M0.05,0 Q0.5,-0.20 0.92,-0.49 Q1.05,-0.15 1.0,0 Q1.05,0.15 0.92,0.49 Q0.5,0.20 0.05,0Z" fill="#92806c" stroke="#5e4632" stroke-width="0.035"/><path transform="translate(1158.8,327.4) rotate(498) scale(22.7)" d="M0.05,0 Q0.5,-0.20 0.92,-0.49 Q1.05,-0.15 1.0,0 Z" fill="#7a6248" opacity="0.45"/><path transform="translate(1158.8,327.4) rotate(498) scale(22.7)" d="M0.1,0 L0.95,0" stroke="#8a7050" stroke-width="0.04" opacity="0.7"/><use href="#lf" transform="translate(1160.0,328.0) rotate(60) scale(22.0,13.6)" fill="#8cc45e" stroke="#3a7a2a"/><use href="#vn" transform="translate(1160.0,328.0) rotate(60) scale(22.0,13.6)" stroke="#b8e098"/><use href="#lf" transform="translate(1160.0,328.0) rotate(200) scale(30.0,18.6)" fill="#5a9e40" stroke="#3a7a2a"/><use href="#vn" transform="translate(1160.0,328.0) rotate(200) scale(30.0,18.6)" stroke="#b8e098"/><use href="#lf" transform="translate(1160.0,328.0) rotate(320) scale(18.0,11.2)" fill="#5a9e40" stroke="#3a7a2a"/><use href="#vn" transform="translate(1160.0,328.0) rotate(320) scale(18.0,11.2)" stroke="#b8e098"/><ellipse cx="1222" cy="332" rx="24" ry="25" fill="#7e4a36"/><circle cx="1222" cy="326" r="25" fill="#4a3228"/><circle cx="1222" cy="326" r="23" fill="#1e1a17"/><path transform="translate(1224.3,324.7) rotate(303) scale(25.1)" d="M0.05,0 Q0.5,-0.16 0.92,-0.41 Q1.05,-0.12 1.0,0 Q1.05,0.12 0.92,0.41 Q0.5,0.16 0.05,0Z" fill="#b4a08a" stroke="#5e4632" stroke-width="0.035"/><path transform="translate(1224.3,324.7) rotate(303) scale(25.1)" d="M0.05,0 Q0.5,-0.16 0.92,-0.41 Q1.05,-0.12 1.0,0 Z" fill="#7a6248" opacity="0.45"/><path transform="translate(1224.3,324.7) rotate(303) scale(25.1)" d="M0.1,0 L0.95,0" stroke="#8a7050" stroke-width="0.04" opacity="0.7"/><path transform="translate(1220.9,327.5) rotate(369) scale(20.0)" d="M0.05,0 Q0.5,-0.15 0.92,-0.38 Q1.05,-0.11 1.0,0 Q1.05,0.11 0.92,0.38 Q0.5,0.15 0.05,0Z" fill="#ac9882" stroke="#5e4632" stroke-width="0.035"/><path transform="translate(1220.9,327.5) rotate(369) scale(20.0)" d="M0.05,0 Q0.5,-0.15 0.92,-0.38 Q1.05,-0.11 1.0,0 Z" fill="#7a6248" opacity="0.45"/><path transform="translate(1220.9,327.5) rotate(369) scale(20.0)" d="M0.1,0 L0.95,0" stroke="#8a7050" stroke-width="0.04" opacity="0.7"/><path transform="translate(1224.8,323.4) rotate(431) scale(24.8)" d="M0.05,0 Q0.5,-0.19 0.92,-0.47 Q1.05,-0.14 1.0,0 Q1.05,0.14 0.92,0.47 Q0.5,0.19 0.05,0Z" fill="#a48e7a" stroke="#5e4632" stroke-width="0.035"/><path transform="translate(1224.8,323.4) rotate(431) scale(24.8)" d="M0.05,0 Q0.5,-0.19 0.92,-0.47 Q1.05,-0.14 1.0,0 Z" fill="#7a6248" opacity="0.45"/><path transform="translate(1224.8,323.4) rotate(431) scale(24.8)" d="M0.1,0 L0.95,0" stroke="#8a7050" stroke-width="0.04" opacity="0.7"/><path transform="translate(1224.5,327.7) rotate(515) scale(20.2)" d="M0.05,0 Q0.5,-0.15 0.92,-0.38 Q1.05,-0.11 1.0,0 Q1.05,0.11 0.92,0.38 Q0.5,0.15 0.05,0Z" fill="#b4a08a" stroke="#5e4632" stroke-width="0.035"/><path transform="translate(1224.5,327.7) rotate(515) scale(20.2)" d="M0.05,0 Q0.5,-0.15 0.92,-0.38 Q1.05,-0.11 1.0,0 Z" fill="#7a6248" opacity="0.45"/><path transform="translate(1224.5,327.7) rotate(515) scale(20.2)" d="M0.1,0 L0.95,0" stroke="#8a7050" stroke-width="0.04" opacity="0.7"/><path transform="translate(1225.0,327.7) rotate(575) scale(19.2)" d="M0.05,0 Q0.5,-0.19 0.92,-0.49 Q1.05,-0.15 1.0,0 Q1.05,0.15 0.92,0.49 Q0.5,0.19 0.05,0Z" fill="#ac9882" stroke="#5e4632" stroke-width="0.035"/><path transform="translate(1225.0,327.7) rotate(575) scale(19.2)" d="M0.05,0 Q0.5,-0.19 0.92,-0.49 Q1.05,-0.15 1.0,0 Z" fill="#7a6248" opacity="0.45"/><path transform="translate(1225.0,327.7) rotate(575) scale(19.2)" d="M0.1,0 L0.95,0" stroke="#8a7050" stroke-width="0.04" opacity="0.7"/><use href="#lf" transform="translate(1222.0,326.0) rotate(300) scale(24.0,14.9)" fill="#62a844" stroke="#3a7a2a"/><use href="#vn" transform="translate(1222.0,326.0) rotate(300) scale(24.0,14.9)" stroke="#b8e098"/><use href="#lf" transform="translate(1222.0,326.0) rotate(30) scale(22.0,13.6)" fill="#8cc45e" stroke="#3a7a2a"/><use href="#vn" transform="translate(1222.0,326.0) rotate(30) scale(22.0,13.6)" stroke="#b8e098"/><use href="#lf" transform="translate(1222.0,326.0) rotate(200) scale(18.0,11.2)" fill="#78b852" stroke="#3a7a2a"/><use href="#vn" transform="translate(1222.0,326.0) rotate(200) scale(18.0,11.2)" stroke="#b8e098"/></g><g filter="url(#tb)"><line x1="572.9" y1="498.4" x2="572.9" y2="497.1" stroke="#333" stroke-width="1"/><line x1="570.4" y1="497.1" x2="575.4" y2="497.1" stroke="#333" stroke-width="1"/><rect x="568.5" y="498.4" width="8.8" height="58.6" fill="#78a0da" stroke="#46639e" stroke-width="1"/><line x1="586.7" y1="497.8" x2="586.7" y2="497.1" stroke="#333" stroke-width="1"/><line x1="584.2" y1="497.1" x2="589.2" y2="497.1" stroke="#333" stroke-width="1"/><rect x="582.3" y="497.8" width="8.8" height="59.2" fill="#bde27e" stroke="#789e52" stroke-width="1"/><line x1="600.5" y1="498.4" x2="600.5" y2="497.8" stroke="#333" stroke-width="1"/><line x1="598.0" y1="497.8" x2="603.0" y2="497.8" stroke="#333" stroke-width="1"/><rect x="596.1" y="498.4" width="8.8" height="58.6" fill="#e2aa6e" stroke="#a27442" stroke-width="1"/><line x1="614.3" y1="498.1" x2="614.3" y2="497.5" stroke="#333" stroke-width="1"/><line x1="611.8" y1="497.5" x2="616.8" y2="497.5" stroke="#333" stroke-width="1"/><rect x="609.9" y="498.1" width="8.8" height="58.9" fill="#e2727a" stroke="#a44650" stroke-width="1"/><line x1="593.6" y1="557" x2="593.6" y2="560" stroke="#222" stroke-width="1.2"/><text x="593.6" y="570.5" font-family="Liberation Serif" font-weight="bold" font-size="9.7" fill="#1e1e1e" text-anchor="middle" textLength="29.2" lengthAdjust="spacingAndGlyphs">Control</text><line x1="637.4" y1="495.2" x2="637.4" y2="494.3" stroke="#333" stroke-width="1"/><line x1="634.9" y1="494.3" x2="639.9" y2="494.3" stroke="#333" stroke-width="1"/><rect x="633.0" y="495.2" width="8.8" height="61.8" fill="#78a0da" stroke="#46639e" stroke-width="1"/><line x1="651.2" y1="479.4" x2="651.2" y2="475.3" stroke="#333" stroke-width="1"/><line x1="648.7" y1="475.3" x2="653.7" y2="475.3" stroke="#333" stroke-width="1"/><rect x="646.8" y="479.4" width="8.8" height="77.6" fill="#bde27e" stroke="#789e52" stroke-width="1"/><circle cx="648.9" cy="472.1" r="1.4" fill="#505050"/><circle cx="653.4" cy="472.1" r="1.4" fill="#505050"/><line x1="665.0" y1="488.3" x2="665.0" y2="487.0" stroke="#333" stroke-width="1"/><line x1="662.5" y1="487.0" x2="667.5" y2="487.0" stroke="#333" stroke-width="1"/><rect x="660.6" y="488.3" width="8.8" height="68.7" fill="#e2aa6e" stroke="#a27442" stroke-width="1"/><circle cx="662.8" cy="483.8" r="1.4" fill="#505050"/><circle cx="667.2" cy="483.8" r="1.4" fill="#505050"/><line x1="678.8" y1="476.9" x2="678.8" y2="472.1" stroke="#333" stroke-width="1"/><line x1="676.3" y1="472.1" x2="681.3" y2="472.1" stroke="#333" stroke-width="1"/><rect x="674.4" y="476.9" width="8.8" height="80.1" fill="#e2727a" stroke="#a44650" stroke-width="1"/><circle cx="676.5" cy="468.9" r="1.4" fill="#505050"/><circle cx="681.0" cy="468.9" r="1.4" fill="#505050"/><line x1="658.1" y1="557" x2="658.1" y2="560" stroke="#222" stroke-width="1.2"/><text x="658.1" y="570.5" font-family="Liberation Serif" font-weight="bold" font-size="9.7" fill="#1e1e1e" text-anchor="middle" textLength="19.6" lengthAdjust="spacingAndGlyphs">NaCl</text><line x1="701.9" y1="491.4" x2="701.9" y2="488.3" stroke="#333" stroke-width="1"/><line x1="699.4" y1="488.3" x2="704.4" y2="488.3" stroke="#333" stroke-width="1"/><rect x="697.5" y="491.4" width="8.8" height="65.6" fill="#78a0da" stroke="#46639e" stroke-width="1"/><line x1="715.7" y1="467.7" x2="715.7" y2="464.5" stroke="#333" stroke-width="1"/><line x1="713.2" y1="464.5" x2="718.2" y2="464.5" stroke="#333" stroke-width="1"/><rect x="711.3" y="467.7" width="8.8" height="89.3" fill="#bde27e" stroke="#789e52" stroke-width="1"/><circle cx="711.2" cy="461.3" r="1.4" fill="#505050"/><circle cx="715.7" cy="461.3" r="1.4" fill="#505050"/><circle cx="720.2" cy="461.3" r="1.4" fill="#505050"/><line x1="729.5" y1="475.6" x2="729.5" y2="473.7" stroke="#333" stroke-width="1"/><line x1="727.0" y1="473.7" x2="732.0" y2="473.7" stroke="#333" stroke-width="1"/><rect x="725.1" y="475.6" width="8.8" height="81.4" fill="#e2aa6e" stroke="#a27442" stroke-width="1"/><circle cx="727.2" cy="470.5" r="1.4" fill="#505050"/><circle cx="731.8" cy="470.5" r="1.4" fill="#505050"/><line x1="743.3" y1="469.9" x2="743.3" y2="467.0" stroke="#333" stroke-width="1"/><line x1="740.8" y1="467.0" x2="745.8" y2="467.0" stroke="#333" stroke-width="1"/><rect x="738.9" y="469.9" width="8.8" height="87.1" fill="#e2727a" stroke="#a44650" stroke-width="1"/><circle cx="741.0" cy="463.8" r="1.4" fill="#505050"/><circle cx="745.5" cy="463.8" r="1.4" fill="#505050"/><line x1="722.6" y1="557" x2="722.6" y2="560" stroke="#222" stroke-width="1.2"/><text x="722.6" y="570.5" font-family="Liberation Serif" font-weight="bold" font-size="9.7" fill="#1e1e1e" text-anchor="middle" textLength="38.7" lengthAdjust="spacingAndGlyphs">PEG-6000</text><line x1="563.2" y1="429.8" x2="563.2" y2="557.8" stroke="#222" stroke-width="1.6"/><line x1="562.4000000000001" y1="557" x2="753" y2="557" stroke="#222" stroke-width="1.6"/><line x1="559.2" y1="557.0" x2="563.2" y2="557.0" stroke="#222" stroke-width="1.2"/><text x="558.2" y="559.9" font-family="Liberation Serif" font-weight="bold" font-size="8" fill="#222" text-anchor="end">0</text><line x1="559.2" y1="525.3" x2="563.2" y2="525.3" stroke="#222" stroke-width="1.2"/><text x="558.2" y="528.2" font-family="Liberation Serif" font-weight="bold" font-size="8" fill="#222" text-anchor="end">1000</text><line x1="559.2" y1="493.7" x2="563.2" y2="493.7" stroke="#222" stroke-width="1.2"/><text x="558.2" y="496.6" font-family="Liberation Serif" font-weight="bold" font-size="8" fill="#222" text-anchor="end">2000</text><line x1="559.2" y1="462.0" x2="563.2" y2="462.0" stroke="#222" stroke-width="1.2"/><text x="558.2" y="464.9" font-family="Liberation Serif" font-weight="bold" font-size="8" fill="#222" text-anchor="end">3000</text><line x1="559.2" y1="430.3" x2="563.2" y2="430.3" stroke="#222" stroke-width="1.2"/><text x="558.2" y="433.2" font-family="Liberation Serif" font-weight="bold" font-size="8" fill="#222" text-anchor="end">4000</text><text transform="translate(531.9,493.1) rotate(-90)" font-family="Liberation Serif" font-weight="bold" font-size="11.4" fill="#1a1a1a" text-anchor="middle" dominant-baseline="central" textLength="105.3" lengthAdjust="spacingAndGlyphs">POD activity (U/g.FW)</text><line x1="814.1" y1="480.8" x2="814.1" y2="478.7" stroke="#333" stroke-width="1"/><line x1="811.6" y1="478.7" x2="816.6" y2="478.7" stroke="#333" stroke-width="1"/><rect x="809.7" y="480.8" width="8.8" height="76.4" fill="#78a0da" stroke="#46639e" stroke-width="1"/><line x1="827.9" y1="478.1" x2="827.9" y2="477.4" stroke="#333" stroke-width="1"/><line x1="825.4" y1="477.4" x2="830.4" y2="477.4" stroke="#333" stroke-width="1"/><rect x="823.5" y="478.1" width="8.8" height="79.1" fill="#bde27e" stroke="#789e52" stroke-width="1"/><line x1="841.7" y1="477.0" x2="841.7" y2="474.5" stroke="#333" stroke-width="1"/><line x1="839.2" y1="474.5" x2="844.2" y2="474.5" stroke="#333" stroke-width="1"/><rect x="837.3" y="477.0" width="8.8" height="80.2" fill="#e2aa6e" stroke="#a27442" stroke-width="1"/><line x1="855.5" y1="477.4" x2="855.5" y2="475.8" stroke="#333" stroke-width="1"/><line x1="853.0" y1="475.8" x2="858.0" y2="475.8" stroke="#333" stroke-width="1"/><rect x="851.1" y="477.4" width="8.8" height="79.8" fill="#e2727a" stroke="#a44650" stroke-width="1"/><line x1="834.8" y1="557.2" x2="834.8" y2="560.2" stroke="#222" stroke-width="1.2"/><text x="834.8" y="570.7" font-family="Liberation Serif" font-weight="bold" font-size="9.7" fill="#1e1e1e" text-anchor="middle" textLength="29.2" lengthAdjust="spacingAndGlyphs">Control</text><line x1="878.7" y1="472.8" x2="878.7" y2="471.1" stroke="#333" stroke-width="1"/><line x1="876.2" y1="471.1" x2="881.2" y2="471.1" stroke="#333" stroke-width="1"/><rect x="874.3" y="472.8" width="8.8" height="84.4" fill="#78a0da" stroke="#46639e" stroke-width="1"/><line x1="892.5" y1="443.3" x2="892.5" y2="440.1" stroke="#333" stroke-width="1"/><line x1="890.0" y1="440.1" x2="895.0" y2="440.1" stroke="#333" stroke-width="1"/><rect x="888.1" y="443.3" width="8.8" height="113.9" fill="#bde27e" stroke="#789e52" stroke-width="1"/><circle cx="888.0" cy="436.9" r="1.4" fill="#505050"/><circle cx="892.5" cy="436.9" r="1.4" fill="#505050"/><circle cx="897.0" cy="436.9" r="1.4" fill="#505050"/><line x1="906.3" y1="454.2" x2="906.3" y2="450.0" stroke="#333" stroke-width="1"/><line x1="903.8" y1="450.0" x2="908.8" y2="450.0" stroke="#333" stroke-width="1"/><rect x="901.9" y="454.2" width="8.8" height="103.0" fill="#e2aa6e" stroke="#a27442" stroke-width="1"/><circle cx="901.8" cy="446.8" r="1.4" fill="#505050"/><circle cx="906.3" cy="446.8" r="1.4" fill="#505050"/><circle cx="910.8" cy="446.8" r="1.4" fill="#505050"/><line x1="920.1" y1="445.4" x2="920.1" y2="442.2" stroke="#333" stroke-width="1"/><line x1="917.6" y1="442.2" x2="922.6" y2="442.2" stroke="#333" stroke-width="1"/><rect x="915.7" y="445.4" width="8.8" height="111.8" fill="#e2727a" stroke="#a44650" stroke-width="1"/><circle cx="915.6" cy="439.0" r="1.4" fill="#505050"/><circle cx="920.1" cy="439.0" r="1.4" fill="#505050"/><circle cx="924.6" cy="439.0" r="1.4" fill="#505050"/><line x1="899.4" y1="557.2" x2="899.4" y2="560.2" stroke="#222" stroke-width="1.2"/><text x="899.4" y="570.7" font-family="Liberation Serif" font-weight="bold" font-size="9.7" fill="#1e1e1e" text-anchor="middle" textLength="19.6" lengthAdjust="spacingAndGlyphs">NaCl</text><line x1="943.9" y1="475.3" x2="943.9" y2="473.6" stroke="#333" stroke-width="1"/><line x1="941.4" y1="473.6" x2="946.4" y2="473.6" stroke="#333" stroke-width="1"/><rect x="939.5" y="475.3" width="8.8" height="81.9" fill="#78a0da" stroke="#46639e" stroke-width="1"/><line x1="957.7" y1="454.7" x2="957.7" y2="450.4" stroke="#333" stroke-width="1"/><line x1="955.2" y1="450.4" x2="960.2" y2="450.4" stroke="#333" stroke-width="1"/><rect x="953.3" y="454.7" width="8.8" height="102.5" fill="#bde27e" stroke="#789e52" stroke-width="1"/><circle cx="955.4" cy="447.2" r="1.4" fill="#505050"/><circle cx="959.9" cy="447.2" r="1.4" fill="#505050"/><line x1="971.5" y1="452.8" x2="971.5" y2="450.2" stroke="#333" stroke-width="1"/><line x1="969.0" y1="450.2" x2="974.0" y2="450.2" stroke="#333" stroke-width="1"/><rect x="967.1" y="452.8" width="8.8" height="104.4" fill="#e2aa6e" stroke="#a27442" stroke-width="1"/><circle cx="967.0" cy="447.0" r="1.4" fill="#505050"/><circle cx="971.5" cy="447.0" r="1.4" fill="#505050"/><circle cx="976.0" cy="447.0" r="1.4" fill="#505050"/><line x1="985.3" y1="444.9" x2="985.3" y2="441.2" stroke="#333" stroke-width="1"/><line x1="982.8" y1="441.2" x2="987.8" y2="441.2" stroke="#333" stroke-width="1"/><rect x="980.9" y="444.9" width="8.8" height="112.3" fill="#e2727a" stroke="#a44650" stroke-width="1"/><circle cx="980.8" cy="438.0" r="1.4" fill="#505050"/><circle cx="985.3" cy="438.0" r="1.4" fill="#505050"/><circle cx="989.8" cy="438.0" r="1.4" fill="#505050"/><line x1="964.6" y1="557.2" x2="964.6" y2="560.2" stroke="#222" stroke-width="1.2"/><text x="964.6" y="570.7" font-family="Liberation Serif" font-weight="bold" font-size="9.7" fill="#1e1e1e" text-anchor="middle" textLength="38.7" lengthAdjust="spacingAndGlyphs">PEG-6000</text><line x1="804.9" y1="430.1" x2="804.9" y2="558.0" stroke="#222" stroke-width="1.6"/><line x1="804.1" y1="557.2" x2="993.6" y2="557.2" stroke="#222" stroke-width="1.6"/><line x1="800.9" y1="557.2" x2="804.9" y2="557.2" stroke="#222" stroke-width="1.2"/><text x="799.9" y="560.1" font-family="Liberation Serif" font-weight="bold" font-size="8.6" fill="#222" text-anchor="end">0</text><line x1="800.9" y1="515.0" x2="804.9" y2="515.0" stroke="#222" stroke-width="1.2"/><text x="799.9" y="517.9" font-family="Liberation Serif" font-weight="bold" font-size="8.6" fill="#222" text-anchor="end">200</text><line x1="800.9" y1="472.8" x2="804.9" y2="472.8" stroke="#222" stroke-width="1.2"/><text x="799.9" y="475.7" font-family="Liberation Serif" font-weight="bold" font-size="8.6" fill="#222" text-anchor="end">400</text><line x1="800.9" y1="430.6" x2="804.9" y2="430.6" stroke="#222" stroke-width="1.2"/><text x="799.9" y="433.5" font-family="Liberation Serif" font-weight="bold" font-size="8.6" fill="#222" text-anchor="end">600</text><text transform="translate(777,494.3) rotate(-90)" font-family="Liberation Sans" font-weight="bold" font-size="10.6" fill="#1a1a1a" text-anchor="middle" dominant-baseline="central" textLength="108" lengthAdjust="spacingAndGlyphs">SOD activity (U/g.FW)</text><line x1="1057.1" y1="529.3" x2="1057.1" y2="528.7" stroke="#333" stroke-width="1"/><line x1="1054.6" y1="528.7" x2="1059.6" y2="528.7" stroke="#333" stroke-width="1"/><rect x="1052.7" y="529.3" width="8.8" height="27.0" fill="#78a0da" stroke="#46639e" stroke-width="1"/><line x1="1070.9" y1="528.3" x2="1070.9" y2="527.9" stroke="#333" stroke-width="1"/><line x1="1068.4" y1="527.9" x2="1073.4" y2="527.9" stroke="#333" stroke-width="1"/><rect x="1066.5" y="528.3" width="8.8" height="28.0" fill="#bde27e" stroke="#789e52" stroke-width="1"/><line x1="1084.7" y1="527.6" x2="1084.7" y2="526.8" stroke="#333" stroke-width="1"/><line x1="1082.2" y1="526.8" x2="1087.2" y2="526.8" stroke="#333" stroke-width="1"/><rect x="1080.3" y="527.6" width="8.8" height="28.7" fill="#e2aa6e" stroke="#a27442" stroke-width="1"/><line x1="1098.5" y1="528.3" x2="1098.5" y2="527.6" stroke="#333" stroke-width="1"/><line x1="1096.0" y1="527.6" x2="1101.0" y2="527.6" stroke="#333" stroke-width="1"/><rect x="1094.1" y="528.3" width="8.8" height="28.0" fill="#e2727a" stroke="#a44650" stroke-width="1"/><line x1="1077.8" y1="556.3" x2="1077.8" y2="559.3" stroke="#222" stroke-width="1.2"/><text x="1077.8" y="570.8" font-family="Liberation Serif" font-weight="bold" font-size="10.3" fill="#1e1e1e" text-anchor="middle" textLength="32.0" lengthAdjust="spacingAndGlyphs">Control</text><line x1="1122.1" y1="474.1" x2="1122.1" y2="473.1" stroke="#333" stroke-width="1"/><line x1="1119.6" y1="473.1" x2="1124.6" y2="473.1" stroke="#333" stroke-width="1"/><rect x="1117.7" y="474.1" width="8.8" height="82.2" fill="#78a0da" stroke="#46639e" stroke-width="1"/><line x1="1135.9" y1="459.4" x2="1135.9" y2="458.6" stroke="#333" stroke-width="1"/><line x1="1133.4" y1="458.6" x2="1138.4" y2="458.6" stroke="#333" stroke-width="1"/><rect x="1131.5" y="459.4" width="8.8" height="96.9" fill="#bde27e" stroke="#789e52" stroke-width="1"/><circle cx="1131.4" cy="455.4" r="1.4" fill="#505050"/><circle cx="1135.9" cy="455.4" r="1.4" fill="#505050"/><circle cx="1140.4" cy="455.4" r="1.4" fill="#505050"/><line x1="1149.7" y1="464.2" x2="1149.7" y2="462.1" stroke="#333" stroke-width="1"/><line x1="1147.2" y1="462.1" x2="1152.2" y2="462.1" stroke="#333" stroke-width="1"/><rect x="1145.3" y="464.2" width="8.8" height="92.1" fill="#e2aa6e" stroke="#a27442" stroke-width="1"/><circle cx="1147.5" cy="458.9" r="1.4" fill="#505050"/><circle cx="1152.0" cy="458.9" r="1.4" fill="#505050"/><line x1="1163.5" y1="460.0" x2="1163.5" y2="457.9" stroke="#333" stroke-width="1"/><line x1="1161.0" y1="457.9" x2="1166.0" y2="457.9" stroke="#333" stroke-width="1"/><rect x="1159.1" y="460.0" width="8.8" height="96.3" fill="#e2727a" stroke="#a44650" stroke-width="1"/><circle cx="1161.3" cy="454.7" r="1.4" fill="#505050"/><circle cx="1165.8" cy="454.7" r="1.4" fill="#505050"/><line x1="1142.8" y1="556.3" x2="1142.8" y2="559.3" stroke="#222" stroke-width="1.2"/><text x="1142.8" y="570.8" font-family="Liberation Serif" font-weight="bold" font-size="10.3" fill="#1e1e1e" text-anchor="middle" textLength="21.5" lengthAdjust="spacingAndGlyphs">NaCl</text><line x1="1186.7" y1="473.1" x2="1186.7" y2="472.2" stroke="#333" stroke-width="1"/><line x1="1184.2" y1="472.2" x2="1189.2" y2="472.2" stroke="#333" stroke-width="1"/><rect x="1182.3" y="473.1" width="8.8" height="83.2" fill="#78a0da" stroke="#46639e" stroke-width="1"/><line x1="1200.5" y1="453.7" x2="1200.5" y2="450.5" stroke="#333" stroke-width="1"/><line x1="1198.0" y1="450.5" x2="1203.0" y2="450.5" stroke="#333" stroke-width="1"/><rect x="1196.1" y="453.7" width="8.8" height="102.6" fill="#bde27e" stroke="#789e52" stroke-width="1"/><circle cx="1196.0" cy="447.3" r="1.4" fill="#505050"/><circle cx="1200.5" cy="447.3" r="1.4" fill="#505050"/><circle cx="1205.0" cy="447.3" r="1.4" fill="#505050"/><line x1="1214.3" y1="456.2" x2="1214.3" y2="453.7" stroke="#333" stroke-width="1"/><line x1="1211.8" y1="453.7" x2="1216.8" y2="453.7" stroke="#333" stroke-width="1"/><rect x="1209.9" y="456.2" width="8.8" height="100.1" fill="#e2aa6e" stroke="#a27442" stroke-width="1"/><circle cx="1209.8" cy="450.5" r="1.4" fill="#505050"/><circle cx="1214.3" cy="450.5" r="1.4" fill="#505050"/><circle cx="1218.8" cy="450.5" r="1.4" fill="#505050"/><line x1="1228.1" y1="458.8" x2="1228.1" y2="457.5" stroke="#333" stroke-width="1"/><line x1="1225.6" y1="457.5" x2="1230.6" y2="457.5" stroke="#333" stroke-width="1"/><rect x="1223.7" y="458.8" width="8.8" height="97.5" fill="#e2727a" stroke="#a44650" stroke-width="1"/><circle cx="1223.6" cy="454.3" r="1.4" fill="#505050"/><circle cx="1228.1" cy="454.3" r="1.4" fill="#505050"/><circle cx="1232.6" cy="454.3" r="1.4" fill="#505050"/><line x1="1207.4" y1="556.3" x2="1207.4" y2="559.3" stroke="#222" stroke-width="1.2"/><text x="1207.4" y="570.8" font-family="Liberation Serif" font-weight="bold" font-size="10.3" fill="#1e1e1e" text-anchor="middle" textLength="42.4" lengthAdjust="spacingAndGlyphs">PEG-6000</text><line x1="1047.8" y1="429.4" x2="1047.8" y2="557.0999999999999" stroke="#222" stroke-width="1.6"/><line x1="1047.0" y1="556.3" x2="1238" y2="556.3" stroke="#222" stroke-width="1.6"/><line x1="1043.8" y1="556.3" x2="1047.8" y2="556.3" stroke="#222" stroke-width="1.2"/><text x="1042.8" y="559.2" font-family="Liberation Serif" font-weight="bold" font-size="9.3" fill="#222" text-anchor="end">0</text><line x1="1043.8" y1="514.2" x2="1047.8" y2="514.2" stroke="#222" stroke-width="1.2"/><text x="1042.8" y="517.1" font-family="Liberation Serif" font-weight="bold" font-size="9.3" fill="#222" text-anchor="end">200</text><line x1="1043.8" y1="472.0" x2="1047.8" y2="472.0" stroke="#222" stroke-width="1.2"/><text x="1042.8" y="474.9" font-family="Liberation Serif" font-weight="bold" font-size="9.3" fill="#222" text-anchor="end">400</text><line x1="1043.8" y1="429.9" x2="1047.8" y2="429.9" stroke="#222" stroke-width="1.2"/><text x="1042.8" y="432.8" font-family="Liberation Serif" font-weight="bold" font-size="9.3" fill="#222" text-anchor="end">600</text><text transform="translate(1018.1,493.6) rotate(-90)" font-family="Liberation Serif" font-weight="bold" font-size="11.4" fill="#1a1a1a" text-anchor="middle" dominant-baseline="central" textLength="121.5" lengthAdjust="spacingAndGlyphs">Proline Content(ug/g.FW)</text><line x1="572.9" y1="693.0" x2="572.9" y2="691.1" stroke="#333" stroke-width="1"/><line x1="570.4" y1="691.1" x2="575.4" y2="691.1" stroke="#333" stroke-width="1"/><rect x="568.5" y="693.0" width="8.8" height="26.4" fill="#78a0da" stroke="#46639e" stroke-width="1"/><line x1="586.7" y1="695.3" x2="586.7" y2="694.9" stroke="#333" stroke-width="1"/><line x1="584.2" y1="694.9" x2="589.2" y2="694.9" stroke="#333" stroke-width="1"/><rect x="582.3" y="695.3" width="8.8" height="24.1" fill="#bde27e" stroke="#789e52" stroke-width="1"/><line x1="600.5" y1="695.6" x2="600.5" y2="693.7" stroke="#333" stroke-width="1"/><line x1="598.0" y1="693.7" x2="603.0" y2="693.7" stroke="#333" stroke-width="1"/><rect x="596.1" y="695.6" width="8.8" height="23.8" fill="#e2aa6e" stroke="#a27442" stroke-width="1"/><line x1="614.3" y1="694.9" x2="614.3" y2="693.3" stroke="#333" stroke-width="1"/><line x1="611.8" y1="693.3" x2="616.8" y2="693.3" stroke="#333" stroke-width="1"/><rect x="609.9" y="694.9" width="8.8" height="24.5" fill="#e2727a" stroke="#a44650" stroke-width="1"/><line x1="593.6" y1="719.4" x2="593.6" y2="722.4" stroke="#222" stroke-width="1.2"/><text x="593.6" y="733.4" font-family="Liberation Serif" font-weight="bold" font-size="10.8" fill="#1e1e1e" text-anchor="middle" textLength="32.0" lengthAdjust="spacingAndGlyphs">Control</text><line x1="637.6" y1="629.8" x2="637.6" y2="627.9" stroke="#333" stroke-width="1"/><line x1="635.1" y1="627.9" x2="640.1" y2="627.9" stroke="#333" stroke-width="1"/><rect x="633.2" y="629.8" width="8.8" height="89.6" fill="#78a0da" stroke="#46639e" stroke-width="1"/><line x1="651.4" y1="657.8" x2="651.4" y2="655.5" stroke="#333" stroke-width="1"/><line x1="648.9" y1="655.5" x2="653.9" y2="655.5" stroke="#333" stroke-width="1"/><rect x="647.0" y="657.8" width="8.8" height="61.6" fill="#bde27e" stroke="#789e52" stroke-width="1"/><circle cx="646.9" cy="652.3" r="1.4" fill="#505050"/><circle cx="651.4" cy="652.3" r="1.4" fill="#505050"/><circle cx="655.9" cy="652.3" r="1.4" fill="#505050"/><line x1="665.2" y1="669.8" x2="665.2" y2="666.7" stroke="#333" stroke-width="1"/><line x1="662.7" y1="666.7" x2="667.7" y2="666.7" stroke="#333" stroke-width="1"/><rect x="660.8" y="669.8" width="8.8" height="49.6" fill="#e2aa6e" stroke="#a27442" stroke-width="1"/><circle cx="660.7" cy="663.5" r="1.4" fill="#505050"/><circle cx="665.2" cy="663.5" r="1.4" fill="#505050"/><circle cx="669.7" cy="663.5" r="1.4" fill="#505050"/><line x1="679.0" y1="664.4" x2="679.0" y2="662.8" stroke="#333" stroke-width="1"/><line x1="676.5" y1="662.8" x2="681.5" y2="662.8" stroke="#333" stroke-width="1"/><rect x="674.6" y="664.4" width="8.8" height="55.0" fill="#e2727a" stroke="#a44650" stroke-width="1"/><circle cx="674.5" cy="659.6" r="1.4" fill="#505050"/><circle cx="679.0" cy="659.6" r="1.4" fill="#505050"/><circle cx="683.5" cy="659.6" r="1.4" fill="#505050"/><line x1="658.3" y1="719.4" x2="658.3" y2="722.4" stroke="#222" stroke-width="1.2"/><text x="658.3" y="733.4" font-family="Liberation Serif" font-weight="bold" font-size="10.8" fill="#1e1e1e" text-anchor="middle" textLength="21.5" lengthAdjust="spacingAndGlyphs">NaCl</text><line x1="702.1" y1="652.7" x2="702.1" y2="650.4" stroke="#333" stroke-width="1"/><line x1="699.6" y1="650.4" x2="704.6" y2="650.4" stroke="#333" stroke-width="1"/><rect x="697.7" y="652.7" width="8.8" height="66.7" fill="#78a0da" stroke="#46639e" stroke-width="1"/><line x1="715.9" y1="670.1" x2="715.9" y2="667.0" stroke="#333" stroke-width="1"/><line x1="713.4" y1="667.0" x2="718.4" y2="667.0" stroke="#333" stroke-width="1"/><rect x="711.5" y="670.1" width="8.8" height="49.3" fill="#bde27e" stroke="#789e52" stroke-width="1"/><circle cx="713.6" cy="663.8" r="1.4" fill="#505050"/><circle cx="718.1" cy="663.8" r="1.4" fill="#505050"/><line x1="729.7" y1="683.2" x2="729.7" y2="681.9" stroke="#333" stroke-width="1"/><line x1="727.2" y1="681.9" x2="732.2" y2="681.9" stroke="#333" stroke-width="1"/><rect x="725.3" y="683.2" width="8.8" height="36.2" fill="#e2aa6e" stroke="#a27442" stroke-width="1"/><circle cx="725.2" cy="678.7" r="1.4" fill="#505050"/><circle cx="729.7" cy="678.7" r="1.4" fill="#505050"/><circle cx="734.2" cy="678.7" r="1.4" fill="#505050"/><line x1="743.5" y1="681.6" x2="743.5" y2="679.7" stroke="#333" stroke-width="1"/><line x1="741.0" y1="679.7" x2="746.0" y2="679.7" stroke="#333" stroke-width="1"/><rect x="739.1" y="681.6" width="8.8" height="37.8" fill="#e2727a" stroke="#a44650" stroke-width="1"/><circle cx="739.0" cy="676.5" r="1.4" fill="#505050"/><circle cx="743.5" cy="676.5" r="1.4" fill="#505050"/><circle cx="748.0" cy="676.5" r="1.4" fill="#505050"/><line x1="722.8" y1="719.4" x2="722.8" y2="722.4" stroke="#222" stroke-width="1.2"/><text x="722.8" y="733.4" font-family="Liberation Serif" font-weight="bold" font-size="10.8" fill="#1e1e1e" text-anchor="middle" textLength="42.4" lengthAdjust="spacingAndGlyphs">PEG-6000</text><line x1="563.2" y1="591.8" x2="563.2" y2="720.1999999999999" stroke="#222" stroke-width="1.6"/><line x1="562.4000000000001" y1="719.4" x2="753.5" y2="719.4" stroke="#222" stroke-width="1.6"/><line x1="559.2" y1="719.4" x2="563.2" y2="719.4" stroke="#222" stroke-width="1.2"/><text x="558.2" y="722.3" font-family="Liberation Sans" font-weight="bold" font-size="9.4" fill="#222" text-anchor="end">0</text><line x1="559.2" y1="687.6" x2="563.2" y2="687.6" stroke="#222" stroke-width="1.2"/><text x="558.2" y="690.5" font-family="Liberation Sans" font-weight="bold" font-size="9.4" fill="#222" text-anchor="end">10</text><line x1="559.2" y1="655.8" x2="563.2" y2="655.8" stroke="#222" stroke-width="1.2"/><text x="558.2" y="658.7" font-family="Liberation Sans" font-weight="bold" font-size="9.4" fill="#222" text-anchor="end">20</text><line x1="559.2" y1="624.1" x2="563.2" y2="624.1" stroke="#222" stroke-width="1.2"/><text x="558.2" y="627.0" font-family="Liberation Sans" font-weight="bold" font-size="9.4" fill="#222" text-anchor="end">30</text><line x1="559.2" y1="592.3" x2="563.2" y2="592.3" stroke="#222" stroke-width="1.2"/><text x="558.2" y="595.2" font-family="Liberation Sans" font-weight="bold" font-size="9.4" fill="#222" text-anchor="end">40</text><text transform="translate(537.6,656.5) rotate(-90)" font-family="Liberation Serif" font-weight="bold" font-size="10.2" fill="#1a1a1a" text-anchor="middle" dominant-baseline="central" textLength="99.5" lengthAdjust="spacingAndGlyphs">MDA Content(ug/g.FW)</text><line x1="813.0" y1="669.4" x2="813.0" y2="668.5" stroke="#333" stroke-width="1"/><line x1="810.5" y1="668.5" x2="815.5" y2="668.5" stroke="#333" stroke-width="1"/><rect x="808.6" y="669.4" width="8.8" height="47.4" fill="#78a0da" stroke="#46639e" stroke-width="1"/><line x1="826.8" y1="670.3" x2="826.8" y2="669.7" stroke="#333" stroke-width="1"/><line x1="824.3" y1="669.7" x2="829.3" y2="669.7" stroke="#333" stroke-width="1"/><rect x="822.4" y="670.3" width="8.8" height="46.5" fill="#bde27e" stroke="#789e52" stroke-width="1"/><line x1="840.6" y1="670.3" x2="840.6" y2="669.7" stroke="#333" stroke-width="1"/><line x1="838.1" y1="669.7" x2="843.1" y2="669.7" stroke="#333" stroke-width="1"/><rect x="836.2" y="670.3" width="8.8" height="46.5" fill="#e2aa6e" stroke="#a27442" stroke-width="1"/><line x1="854.4" y1="670.0" x2="854.4" y2="669.4" stroke="#333" stroke-width="1"/><line x1="851.9" y1="669.4" x2="856.9" y2="669.4" stroke="#333" stroke-width="1"/><rect x="850.0" y="670.0" width="8.8" height="46.8" fill="#e2727a" stroke="#a44650" stroke-width="1"/><line x1="833.7" y1="716.8" x2="833.7" y2="719.8" stroke="#222" stroke-width="1.2"/><text x="833.7" y="730.9" font-family="Liberation Serif" font-weight="bold" font-size="10.3" fill="#1e1e1e" text-anchor="middle" textLength="32.0" lengthAdjust="spacingAndGlyphs">Control</text><line x1="877.9" y1="636.9" x2="877.9" y2="635.6" stroke="#333" stroke-width="1"/><line x1="875.4" y1="635.6" x2="880.4" y2="635.6" stroke="#333" stroke-width="1"/><rect x="873.5" y="636.9" width="8.8" height="79.9" fill="#78a0da" stroke="#46639e" stroke-width="1"/><line x1="891.7" y1="659.9" x2="891.7" y2="659.0" stroke="#333" stroke-width="1"/><line x1="889.2" y1="659.0" x2="894.2" y2="659.0" stroke="#333" stroke-width="1"/><rect x="887.3" y="659.9" width="8.8" height="56.9" fill="#bde27e" stroke="#789e52" stroke-width="1"/><circle cx="887.2" cy="655.8" r="1.4" fill="#505050"/><circle cx="891.7" cy="655.8" r="1.4" fill="#505050"/><circle cx="896.2" cy="655.8" r="1.4" fill="#505050"/><line x1="905.5" y1="660.2" x2="905.5" y2="659.0" stroke="#333" stroke-width="1"/><line x1="903.0" y1="659.0" x2="908.0" y2="659.0" stroke="#333" stroke-width="1"/><rect x="901.1" y="660.2" width="8.8" height="56.6" fill="#e2aa6e" stroke="#a27442" stroke-width="1"/><circle cx="901.0" cy="655.8" r="1.4" fill="#505050"/><circle cx="905.5" cy="655.8" r="1.4" fill="#505050"/><circle cx="910.0" cy="655.8" r="1.4" fill="#505050"/><line x1="919.3" y1="655.2" x2="919.3" y2="654.2" stroke="#333" stroke-width="1"/><line x1="916.8" y1="654.2" x2="921.8" y2="654.2" stroke="#333" stroke-width="1"/><rect x="914.9" y="655.2" width="8.8" height="61.6" fill="#e2727a" stroke="#a44650" stroke-width="1"/><circle cx="914.8" cy="651.0" r="1.4" fill="#505050"/><circle cx="919.3" cy="651.0" r="1.4" fill="#505050"/><circle cx="923.8" cy="651.0" r="1.4" fill="#505050"/><line x1="898.6" y1="716.8" x2="898.6" y2="719.8" stroke="#222" stroke-width="1.2"/><text x="898.6" y="730.9" font-family="Liberation Serif" font-weight="bold" font-size="10.3" fill="#1e1e1e" text-anchor="middle" textLength="21.5" lengthAdjust="spacingAndGlyphs">NaCl</text><line x1="942.4" y1="621.7" x2="942.4" y2="617.9" stroke="#333" stroke-width="1"/><line x1="939.9" y1="617.9" x2="944.9" y2="617.9" stroke="#333" stroke-width="1"/><rect x="938.0" y="621.7" width="8.8" height="95.1" fill="#78a0da" stroke="#46639e" stroke-width="1"/><line x1="956.2" y1="658.3" x2="956.2" y2="657.4" stroke="#333" stroke-width="1"/><line x1="953.7" y1="657.4" x2="958.7" y2="657.4" stroke="#333" stroke-width="1"/><rect x="951.8" y="658.3" width="8.8" height="58.5" fill="#bde27e" stroke="#789e52" stroke-width="1"/><circle cx="951.7" cy="654.2" r="1.4" fill="#505050"/><circle cx="956.2" cy="654.2" r="1.4" fill="#505050"/><circle cx="960.7" cy="654.2" r="1.4" fill="#505050"/><line x1="970.0" y1="657.1" x2="970.0" y2="656.1" stroke="#333" stroke-width="1"/><line x1="967.5" y1="656.1" x2="972.5" y2="656.1" stroke="#333" stroke-width="1"/><rect x="965.6" y="657.1" width="8.8" height="59.7" fill="#e2aa6e" stroke="#a27442" stroke-width="1"/><circle cx="965.5" cy="652.9" r="1.4" fill="#505050"/><circle cx="970.0" cy="652.9" r="1.4" fill="#505050"/><circle cx="974.5" cy="652.9" r="1.4" fill="#505050"/><line x1="983.8" y1="653.0" x2="983.8" y2="650.4" stroke="#333" stroke-width="1"/><line x1="981.3" y1="650.4" x2="986.3" y2="650.4" stroke="#333" stroke-width="1"/><rect x="979.4" y="653.0" width="8.8" height="63.8" fill="#e2727a" stroke="#a44650" stroke-width="1"/><circle cx="979.3" cy="647.2" r="1.4" fill="#505050"/><circle cx="983.8" cy="647.2" r="1.4" fill="#505050"/><circle cx="988.3" cy="647.2" r="1.4" fill="#505050"/><line x1="963.1" y1="716.8" x2="963.1" y2="719.8" stroke="#222" stroke-width="1.2"/><text x="963.1" y="730.9" font-family="Liberation Serif" font-weight="bold" font-size="10.3" fill="#1e1e1e" text-anchor="middle" textLength="42.4" lengthAdjust="spacingAndGlyphs">PEG-6000</text><line x1="803.8" y1="589.9" x2="803.8" y2="717.5999999999999" stroke="#222" stroke-width="1.6"/><line x1="803.0" y1="716.8" x2="992" y2="716.8" stroke="#222" stroke-width="1.6"/><line x1="799.8" y1="716.8" x2="803.8" y2="716.8" stroke="#222" stroke-width="1.2"/><text x="798.8" y="719.7" font-family="Liberation Serif" font-weight="bold" font-size="9.6" fill="#222" text-anchor="end">0</text><line x1="799.8" y1="685.2" x2="803.8" y2="685.2" stroke="#222" stroke-width="1.2"/><text x="798.8" y="688.1" font-family="Liberation Serif" font-weight="bold" font-size="9.6" fill="#222" text-anchor="end">100</text><line x1="799.8" y1="653.6" x2="803.8" y2="653.6" stroke="#222" stroke-width="1.2"/><text x="798.8" y="656.5" font-family="Liberation Serif" font-weight="bold" font-size="9.6" fill="#222" text-anchor="end">200</text><line x1="799.8" y1="622.0" x2="803.8" y2="622.0" stroke="#222" stroke-width="1.2"/><text x="798.8" y="624.9" font-family="Liberation Serif" font-weight="bold" font-size="9.6" fill="#222" text-anchor="end">300</text><line x1="799.8" y1="590.4" x2="803.8" y2="590.4" stroke="#222" stroke-width="1.2"/><text x="798.8" y="593.3" font-family="Liberation Serif" font-weight="bold" font-size="9.6" fill="#222" text-anchor="end">400</text><text transform="translate(775.6,653.4) rotate(-90)" font-family="Liberation Sans" font-weight="bold" font-size="10.6" fill="#1a1a1a" text-anchor="middle" dominant-baseline="central" textLength="127" lengthAdjust="spacingAndGlyphs">H<tspan font-size="7" dy="1.5">2</tspan><tspan dy="-1.5">O</tspan><tspan font-size="7" dy="1.5">2</tspan><tspan dy="-1.5">content(mmol/g.prot)</tspan></text><line x1="1056.1" y1="641.7" x2="1056.1" y2="640.0" stroke="#333" stroke-width="1"/><line x1="1053.6" y1="640.0" x2="1058.6" y2="640.0" stroke="#333" stroke-width="1"/><rect x="1051.7" y="641.7" width="8.8" height="75.1" fill="#78a0da" stroke="#46639e" stroke-width="1"/><line x1="1069.9" y1="636.6" x2="1069.9" y2="634.1" stroke="#333" stroke-width="1"/><line x1="1067.4" y1="634.1" x2="1072.4" y2="634.1" stroke="#333" stroke-width="1"/><rect x="1065.5" y="636.6" width="8.8" height="80.2" fill="#bde27e" stroke="#789e52" stroke-width="1"/><line x1="1083.7" y1="637.0" x2="1083.7" y2="636.2" stroke="#333" stroke-width="1"/><line x1="1081.2" y1="636.2" x2="1086.2" y2="636.2" stroke="#333" stroke-width="1"/><rect x="1079.3" y="637.0" width="8.8" height="79.8" fill="#e2aa6e" stroke="#a27442" stroke-width="1"/><line x1="1097.5" y1="636.2" x2="1097.5" y2="632.0" stroke="#333" stroke-width="1"/><line x1="1095.0" y1="632.0" x2="1100.0" y2="632.0" stroke="#333" stroke-width="1"/><rect x="1093.1" y="636.2" width="8.8" height="80.6" fill="#e2727a" stroke="#a44650" stroke-width="1"/><line x1="1076.8" y1="716.8" x2="1076.8" y2="719.8" stroke="#222" stroke-width="1.2"/><text x="1076.8" y="730.9" font-family="Liberation Serif" font-weight="bold" font-size="10.3" fill="#1e1e1e" text-anchor="middle" textLength="32.0" lengthAdjust="spacingAndGlyphs">Control</text><line x1="1120.9" y1="654.8" x2="1120.9" y2="652.7" stroke="#333" stroke-width="1"/><line x1="1118.4" y1="652.7" x2="1123.4" y2="652.7" stroke="#333" stroke-width="1"/><rect x="1116.5" y="654.8" width="8.8" height="62.0" fill="#78a0da" stroke="#46639e" stroke-width="1"/><line x1="1134.7" y1="636.2" x2="1134.7" y2="635.4" stroke="#333" stroke-width="1"/><line x1="1132.2" y1="635.4" x2="1137.2" y2="635.4" stroke="#333" stroke-width="1"/><rect x="1130.3" y="636.2" width="8.8" height="80.6" fill="#bde27e" stroke="#789e52" stroke-width="1"/><circle cx="1130.2" cy="632.2" r="1.4" fill="#505050"/><circle cx="1134.7" cy="632.2" r="1.4" fill="#505050"/><circle cx="1139.2" cy="632.2" r="1.4" fill="#505050"/><line x1="1148.5" y1="634.9" x2="1148.5" y2="631.6" stroke="#333" stroke-width="1"/><line x1="1146.0" y1="631.6" x2="1151.0" y2="631.6" stroke="#333" stroke-width="1"/><rect x="1144.1" y="634.9" width="8.8" height="81.9" fill="#e2aa6e" stroke="#a27442" stroke-width="1"/><circle cx="1146.2" cy="628.4" r="1.4" fill="#505050"/><circle cx="1150.8" cy="628.4" r="1.4" fill="#505050"/><line x1="1162.3" y1="632.8" x2="1162.3" y2="630.3" stroke="#333" stroke-width="1"/><line x1="1159.8" y1="630.3" x2="1164.8" y2="630.3" stroke="#333" stroke-width="1"/><rect x="1157.9" y="632.8" width="8.8" height="84.0" fill="#e2727a" stroke="#a44650" stroke-width="1"/><circle cx="1157.8" cy="627.1" r="1.4" fill="#505050"/><circle cx="1162.3" cy="627.1" r="1.4" fill="#505050"/><circle cx="1166.8" cy="627.1" r="1.4" fill="#505050"/><line x1="1141.6" y1="716.8" x2="1141.6" y2="719.8" stroke="#222" stroke-width="1.2"/><text x="1141.6" y="730.9" font-family="Liberation Serif" font-weight="bold" font-size="10.3" fill="#1e1e1e" text-anchor="middle" textLength="21.5" lengthAdjust="spacingAndGlyphs">NaCl</text><line x1="1186.3" y1="648.4" x2="1186.3" y2="644.6" stroke="#333" stroke-width="1"/><line x1="1183.8" y1="644.6" x2="1188.8" y2="644.6" stroke="#333" stroke-width="1"/><rect x="1181.9" y="648.4" width="8.8" height="68.4" fill="#78a0da" stroke="#46639e" stroke-width="1"/><line x1="1200.1" y1="637.9" x2="1200.1" y2="634.1" stroke="#333" stroke-width="1"/><line x1="1197.6" y1="634.1" x2="1202.6" y2="634.1" stroke="#333" stroke-width="1"/><rect x="1195.7" y="637.9" width="8.8" height="78.9" fill="#bde27e" stroke="#789e52" stroke-width="1"/><circle cx="1200.1" cy="630.9" r="1.4" fill="#505050"/><line x1="1213.9" y1="636.2" x2="1213.9" y2="633.2" stroke="#333" stroke-width="1"/><line x1="1211.4" y1="633.2" x2="1216.4" y2="633.2" stroke="#333" stroke-width="1"/><rect x="1209.5" y="636.2" width="8.8" height="80.6" fill="#e2aa6e" stroke="#a27442" stroke-width="1"/><circle cx="1213.9" cy="630.0" r="1.4" fill="#505050"/><line x1="1227.7" y1="634.5" x2="1227.7" y2="629.4" stroke="#333" stroke-width="1"/><line x1="1225.2" y1="629.4" x2="1230.2" y2="629.4" stroke="#333" stroke-width="1"/><rect x="1223.3" y="634.5" width="8.8" height="82.3" fill="#e2727a" stroke="#a44650" stroke-width="1"/><circle cx="1227.7" cy="626.2" r="1.4" fill="#505050"/><line x1="1207.0" y1="716.8" x2="1207.0" y2="719.8" stroke="#222" stroke-width="1.2"/><text x="1207.0" y="730.9" font-family="Liberation Serif" font-weight="bold" font-size="10.3" fill="#1e1e1e" text-anchor="middle" textLength="42.4" lengthAdjust="spacingAndGlyphs">PEG-6000</text><line x1="1047" y1="589.7" x2="1047" y2="717.5999999999999" stroke="#222" stroke-width="1.6"/><line x1="1046.2" y1="716.8" x2="1237.4" y2="716.8" stroke="#222" stroke-width="1.6"/><line x1="1043" y1="716.8" x2="1047" y2="716.8" stroke="#222" stroke-width="1.2"/><text x="1042" y="719.7" font-family="Liberation Sans" font-weight="bold" font-size="9.2" fill="#222" text-anchor="end">0</text><line x1="1043" y1="674.6" x2="1047" y2="674.6" stroke="#222" stroke-width="1.2"/><text x="1042" y="677.5" font-family="Liberation Sans" font-weight="bold" font-size="9.2" fill="#222" text-anchor="end">5</text><line x1="1043" y1="632.4" x2="1047" y2="632.4" stroke="#222" stroke-width="1.2"/><text x="1042" y="635.3" font-family="Liberation Sans" font-weight="bold" font-size="9.2" fill="#222" text-anchor="end">10</text><line x1="1043" y1="590.2" x2="1047" y2="590.2" stroke="#222" stroke-width="1.2"/><text x="1042" y="593.1" font-family="Liberation Sans" font-weight="bold" font-size="9.2" fill="#222" text-anchor="end">15</text><text transform="translate(1023.5,654.3) rotate(-90)" font-family="Liberation Serif" font-weight="bold" font-size="10.4" fill="#1a1a1a" text-anchor="middle" dominant-baseline="central" textLength="123" lengthAdjust="spacingAndGlyphs">Chlorophyll content(mg/g.FW)</text><rect x="1258.5" y="426.6" width="17.5" height="6.4" fill="#78a0da" stroke="#46639e" stroke-width="1"/><text x="1285.6" y="434.1" font-family="Liberation Serif" font-size="11.3" fill="#222">WT</text><rect x="1258.5" y="448.0" width="17.5" height="6.4" fill="#bde27e" stroke="#789e52" stroke-width="1"/><text x="1285.6" y="455.5" font-family="Liberation Serif" font-size="11.3" fill="#222">T1</text><rect x="1258.5" y="469.4" width="17.5" height="6.4" fill="#e2aa6e" stroke="#a27442" stroke-width="1"/><text x="1285.6" y="476.9" font-family="Liberation Serif" font-size="11.3" fill="#222">T2</text><rect x="1258.5" y="490.8" width="17.5" height="6.4" fill="#e2727a" stroke="#a44650" stroke-width="1"/><text x="1285.6" y="498.3" font-family="Liberation Serif" font-size="11.3" fill="#222">T3</text><text transform="translate(17.00,33.70) scale(1.1597,1.2424)" font-family="Liberation Serif" font-weight="bold" font-size="20" fill="#111" stroke="#111" stroke-width="0.3">A</text><text transform="translate(550.40,39.50) scale(1.0677,1.2595)" font-family="Liberation Serif" font-weight="bold" font-size="20" fill="#111" stroke="#111" stroke-width="0.3">B</text><text transform="translate(544.00,383.10) scale(1.1111,1.2273)" font-family="Liberation Serif" font-weight="bold" font-size="20" fill="#111" stroke="#111" stroke-width="0.3">C</text><text transform="translate(84.70,192.30) scale(1.1750,1.2230)" font-family="Liberation Serif" font-weight="bold" font-size="20" fill="#111" stroke="#111" stroke-width="0.3">Control</text><text transform="translate(13.80,363.80) scale(1.1875,1.2632)" font-family="Liberation Serif" font-weight="bold" font-size="20" fill="#111" stroke="#111" stroke-width="0.3">20% PEG-6000</text><text transform="translate(18.20,536.00) scale(1.1842,1.1727)" font-family="Liberation Serif" font-weight="bold" font-size="20" fill="#111" stroke="#111" stroke-width="0.3">200 mM NaCl</text><text transform="translate(224.10,627.80) scale(0.7387,0.8397)" font-family="Liberation Serif" font-weight="bold" font-size="20" fill="#111" stroke="#111" stroke-width="0.3">WT</text><text transform="translate(258.50,627.80) scale(0.7339,0.8333)" font-family="Liberation Serif" font-weight="bold" font-size="20" fill="#111" stroke="#111" stroke-width="0.3">T1</text><text transform="translate(321.00,627.80) scale(0.7508,0.8397)" font-family="Liberation Serif" font-weight="bold" font-size="20" fill="#111" stroke="#111" stroke-width="0.3">WT</text><text transform="translate(362.00,627.80) scale(0.7554,0.8333)" font-family="Liberation Serif" font-weight="bold" font-size="20" fill="#111" stroke="#111" stroke-width="0.3">T2</text><text transform="translate(428.00,627.80) scale(0.7327,0.8397)" font-family="Liberation Serif" font-weight="bold" font-size="20" fill="#111" stroke="#111" stroke-width="0.3">WT</text><text transform="translate(470.20,627.80) scale(0.7339,0.8333)" font-family="Liberation Serif" font-weight="bold" font-size="20" fill="#111" stroke="#111" stroke-width="0.3">T3</text><text transform="translate(701.70,64.20) scale(0.9065,0.9496)" font-family="Liberation Serif" font-weight="bold" font-size="20" fill="#111" stroke="#111" stroke-width="0.3">Control</text><text transform="translate(880.60,64.30) scale(0.9232,0.9850)" font-family="Liberation Serif" font-weight="bold" font-size="20" fill="#111" stroke="#111" stroke-width="0.3">20% PEG-6000</text><text transform="translate(1096.70,64.30) scale(0.9233,0.9424)" font-family="Liberation Serif" font-weight="bold" font-size="20" fill="#111" stroke="#111" stroke-width="0.3">200 mM NaCl</text><text transform="translate(590.90,138.20) scale(0.8949,1.0534)" font-family="Liberation Serif" font-weight="bold" font-size="20" fill="#111" stroke="#111" stroke-width="0.3">WT</text><text transform="translate(595.00,212.00) scale(0.7854,1.0455)" font-family="Liberation Serif" font-weight="bold" font-size="20" fill="#111" stroke="#111" stroke-width="0.3">T1</text><text transform="translate(595.00,277.50) scale(0.8155,1.0682)" font-family="Liberation Serif" font-weight="bold" font-size="20" fill="#111" stroke="#111" stroke-width="0.3">T2</text><text transform="translate(595.00,338.40) scale(0.8155,0.9697)" font-family="Liberation Serif" font-weight="bold" font-size="20" fill="#111" stroke="#111" stroke-width="0.3">T3</text></g></svg></body></html>
